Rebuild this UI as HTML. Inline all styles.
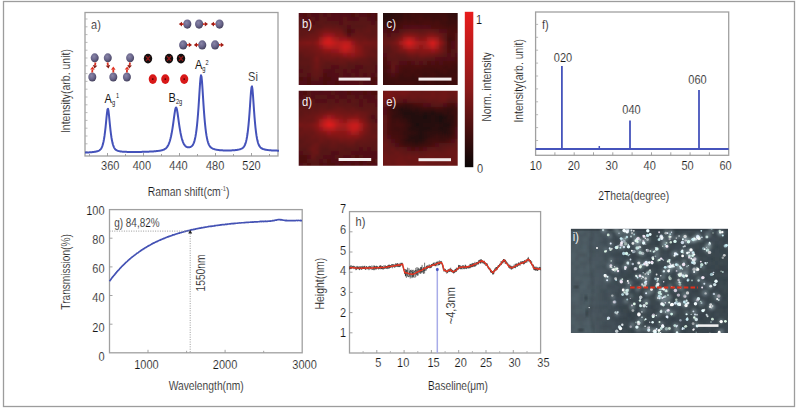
<!DOCTYPE html>
<html><head><meta charset="utf-8"><style>
html,body{margin:0;padding:0;background:#fff;width:797px;height:410px;overflow:hidden}
svg{display:block}
text{font-family:"Liberation Sans",sans-serif;stroke:#fff;stroke-width:0.16px;stroke-opacity:1}
.wt text,text.wt{stroke:none}
</style></head><body>
<svg width="797" height="410" viewBox="0 0 797 410">
<defs>
<radialGradient id="gatom" cx="40%" cy="35%" r="65%"><stop offset="0" stop-color="#8a86a8"/><stop offset="0.6" stop-color="#68648a"/><stop offset="1" stop-color="#46425e"/></radialGradient>
<filter id="blur5" x="-50%" y="-50%" width="200%" height="200%"><feGaussianBlur stdDeviation="3.5"/></filter>
<filter id="hblur" x="-20%" y="-20%" width="140%" height="140%"><feGaussianBlur stdDeviation="1.8"/></filter>
<filter id="blur06"><feGaussianBlur stdDeviation="0.75"/></filter>
<filter id="blur08"><feGaussianBlur stdDeviation="0.8"/></filter>
<filter id="blur15"><feGaussianBlur stdDeviation="1.5"/></filter>
<radialGradient id="vign" cx="50%" cy="50%" r="75%"><stop offset="0.5" stop-color="#000" stop-opacity="0"/><stop offset="1" stop-color="#000" stop-opacity="0.35"/></radialGradient>
<linearGradient id="cbar" x1="0" y1="0" x2="0" y2="1"><stop offset="0" stop-color="#e81c1c"/><stop offset="0.5" stop-color="#8a1a1a"/><stop offset="1" stop-color="#0a0606"/></linearGradient>
</defs>
<rect x="3.5" y="1.5" width="791" height="405" fill="none" stroke="#9c9c9c" stroke-width="1.3"/>
<rect x="85" y="12.5" width="193" height="143.5" fill="none" stroke="#a0a0a0" stroke-width="1.3"/>
<line x1="85" y1="151.6" x2="87.5" y2="151.6" stroke="#aaa" stroke-width="0.8"/>
<line x1="85" y1="143.8" x2="87.5" y2="143.8" stroke="#aaa" stroke-width="0.8"/>
<line x1="85" y1="136.0" x2="87.5" y2="136.0" stroke="#aaa" stroke-width="0.8"/>
<line x1="85" y1="128.2" x2="87.5" y2="128.2" stroke="#aaa" stroke-width="0.8"/>
<line x1="85" y1="120.4" x2="87.5" y2="120.4" stroke="#aaa" stroke-width="0.8"/>
<line x1="85" y1="112.6" x2="87.5" y2="112.6" stroke="#aaa" stroke-width="0.8"/>
<line x1="85" y1="104.8" x2="87.5" y2="104.8" stroke="#aaa" stroke-width="0.8"/>
<line x1="85" y1="97.0" x2="87.5" y2="97.0" stroke="#aaa" stroke-width="0.8"/>
<line x1="85" y1="89.2" x2="87.5" y2="89.2" stroke="#aaa" stroke-width="0.8"/>
<line x1="85" y1="81.4" x2="87.5" y2="81.4" stroke="#aaa" stroke-width="0.8"/>
<line x1="85" y1="73.6" x2="87.5" y2="73.6" stroke="#aaa" stroke-width="0.8"/>
<line x1="85" y1="65.8" x2="87.5" y2="65.8" stroke="#aaa" stroke-width="0.8"/>
<line x1="85" y1="58.0" x2="87.5" y2="58.0" stroke="#aaa" stroke-width="0.8"/>
<line x1="85" y1="50.2" x2="87.5" y2="50.2" stroke="#aaa" stroke-width="0.8"/>
<line x1="85" y1="42.4" x2="87.5" y2="42.4" stroke="#aaa" stroke-width="0.8"/>
<line x1="85" y1="34.6" x2="87.5" y2="34.6" stroke="#aaa" stroke-width="0.8"/>
<line x1="85" y1="26.8" x2="87.5" y2="26.8" stroke="#aaa" stroke-width="0.8"/>
<line x1="85" y1="19.0" x2="87.5" y2="19.0" stroke="#aaa" stroke-width="0.8"/>
<line x1="89.5" y1="156" x2="89.5" y2="154" stroke="#999" stroke-width="0.9"/>
<line x1="107.5" y1="156" x2="107.5" y2="153" stroke="#999" stroke-width="0.9"/>
<line x1="125.5" y1="156" x2="125.5" y2="154" stroke="#999" stroke-width="0.9"/>
<line x1="143.5" y1="156" x2="143.5" y2="153" stroke="#999" stroke-width="0.9"/>
<line x1="161.5" y1="156" x2="161.5" y2="154" stroke="#999" stroke-width="0.9"/>
<line x1="179.5" y1="156" x2="179.5" y2="153" stroke="#999" stroke-width="0.9"/>
<line x1="197.5" y1="156" x2="197.5" y2="154" stroke="#999" stroke-width="0.9"/>
<line x1="215.5" y1="156" x2="215.5" y2="153" stroke="#999" stroke-width="0.9"/>
<line x1="233.5" y1="156" x2="233.5" y2="154" stroke="#999" stroke-width="0.9"/>
<line x1="251.5" y1="156" x2="251.5" y2="153" stroke="#999" stroke-width="0.9"/>
<line x1="269.5" y1="156" x2="269.5" y2="154" stroke="#999" stroke-width="0.9"/>
<text transform="translate(110.2 169.6) scale(0.88 1)" font-size="12.5" text-anchor="middle" fill="#161616" >360</text>
<text transform="translate(141.9 169.6) scale(0.88 1)" font-size="12.5" text-anchor="middle" fill="#161616" >400</text>
<text transform="translate(178.5 169.6) scale(0.88 1)" font-size="12.5" text-anchor="middle" fill="#161616" >440</text>
<text transform="translate(215.1 169.6) scale(0.88 1)" font-size="12.5" text-anchor="middle" fill="#161616" >480</text>
<text transform="translate(251.5 169.6) scale(0.88 1)" font-size="12.5" text-anchor="middle" fill="#161616" >520</text>
<polyline points="85.0,152.58 85.5,152.56 86.0,152.54 86.5,152.52 87.0,152.49 87.5,152.47 88.0,152.44 88.5,152.41 89.0,152.38 89.5,152.35 90.0,152.32 90.5,152.28 91.0,152.24 91.5,152.20 92.0,152.15 92.5,152.10 93.0,152.05 93.5,151.99 94.0,151.92 94.5,151.85 95.0,151.77 95.5,151.68 96.0,151.58 96.5,151.47 97.0,151.34 97.5,151.20 98.0,151.02 98.5,150.82 99.0,150.58 99.5,150.27 100.0,149.89 100.5,149.40 101.0,148.77 101.5,147.96 102.0,146.91 102.5,145.57 103.0,143.87 103.5,141.75 104.0,139.15 104.5,135.99 105.0,132.24 105.5,127.86 106.0,122.91 106.5,117.66 107.0,112.79 107.5,109.44 108.0,108.77 108.5,111.03 109.0,115.38 109.5,120.57 110.0,125.69 110.5,130.32 111.0,134.34 111.5,137.74 112.0,140.56 112.5,142.87 113.0,144.74 113.5,146.22 114.0,147.37 114.5,148.27 115.0,148.96 115.5,149.49 116.0,149.90 116.5,150.23 117.0,150.48 117.5,150.69 118.0,150.86 118.5,151.00 119.0,151.12 119.5,151.23 120.0,151.32 120.5,151.40 121.0,151.47 121.5,151.53 122.0,151.59 122.5,151.63 123.0,151.68 123.5,151.72 124.0,151.75 124.5,151.78 125.0,151.81 125.5,151.83 126.0,151.85 126.5,151.87 127.0,151.89 127.5,151.90 128.0,151.92 128.5,151.93 129.0,151.94 129.5,151.95 130.0,151.95 130.5,151.96 131.0,151.96 131.5,151.97 132.0,151.97 132.5,151.97 133.0,151.97 133.5,151.97 134.0,151.97 134.5,151.97 135.0,151.97 135.5,151.96 136.0,151.96 136.5,151.96 137.0,151.95 137.5,151.95 138.0,151.94 138.5,151.93 139.0,151.93 139.5,151.92 140.0,151.91 140.5,151.90 141.0,151.89 141.5,151.88 142.0,151.87 142.5,151.86 143.0,151.85 143.5,151.83 144.0,151.82 144.5,151.80 145.0,151.79 145.5,151.77 146.0,151.76 146.5,151.74 147.0,151.72 147.5,151.70 148.0,151.68 148.5,151.66 149.0,151.64 149.5,151.62 150.0,151.59 150.5,151.57 151.0,151.54 151.5,151.51 152.0,151.48 152.5,151.45 153.0,151.42 153.5,151.38 154.0,151.34 154.5,151.30 155.0,151.26 155.5,151.22 156.0,151.17 156.5,151.12 157.0,151.06 157.5,151.01 158.0,150.94 158.5,150.88 159.0,150.80 159.5,150.72 160.0,150.64 160.5,150.55 161.0,150.44 161.5,150.33 162.0,150.20 162.5,150.06 163.0,149.90 163.5,149.72 164.0,149.50 164.5,149.26 165.0,148.96 165.5,148.62 166.0,148.20 166.5,147.71 167.0,147.12 167.5,146.42 168.0,145.58 168.5,144.58 169.0,143.41 169.5,142.03 170.0,140.43 170.5,138.58 171.0,136.47 171.5,134.06 172.0,131.35 172.5,128.32 173.0,124.99 173.5,121.40 174.0,117.67 174.5,114.02 175.0,110.81 175.5,108.48 176.0,107.46 176.5,107.95 177.0,109.84 177.5,112.76 178.0,116.26 178.5,119.93 179.0,123.52 179.5,126.88 180.0,129.94 180.5,132.69 181.0,135.12 181.5,137.25 182.0,139.11 182.5,140.71 183.0,142.07 183.5,143.22 184.0,144.18 184.5,144.97 185.0,145.62 185.5,146.13 186.0,146.53 186.5,146.84 187.0,147.06 187.5,147.22 188.0,147.31 188.5,147.34 189.0,147.33 189.5,147.26 190.0,147.13 190.5,146.95 191.0,146.70 191.5,146.36 192.0,145.92 192.5,145.34 193.0,144.59 193.5,143.63 194.0,142.39 194.5,140.83 195.0,138.85 195.5,136.40 196.0,133.40 196.5,129.75 197.0,125.40 197.5,120.26 198.0,114.28 198.5,107.45 199.0,99.84 199.5,91.81 200.0,84.13 200.5,78.11 201.0,75.29 201.5,76.55 202.0,81.49 202.5,88.72 203.0,96.77 203.5,104.64 204.0,111.83 204.5,118.19 205.0,123.70 205.5,128.39 206.0,132.35 206.5,135.64 207.0,138.35 207.5,140.55 208.0,142.33 208.5,143.74 209.0,144.87 209.5,145.76 210.0,146.47 210.5,147.04 211.0,147.50 211.5,147.88 212.0,148.20 212.5,148.47 213.0,148.70 213.5,148.90 214.0,149.08 214.5,149.23 215.0,149.37 215.5,149.50 216.0,149.61 216.5,149.71 217.0,149.80 217.5,149.88 218.0,149.95 218.5,150.02 219.0,150.08 219.5,150.13 220.0,150.18 220.5,150.22 221.0,150.26 221.5,150.30 222.0,150.33 222.5,150.35 223.0,150.38 223.5,150.40 224.0,150.42 224.5,150.43 225.0,150.45 225.5,150.46 226.0,150.47 226.5,150.47 227.0,150.47 227.5,150.47 228.0,150.47 228.5,150.47 229.0,150.46 229.5,150.45 230.0,150.44 230.5,150.43 231.0,150.41 231.5,150.39 232.0,150.37 232.5,150.34 233.0,150.31 233.5,150.28 234.0,150.24 234.5,150.19 235.0,150.15 235.5,150.09 236.0,150.04 236.5,149.97 237.0,149.90 237.5,149.82 238.0,149.73 238.5,149.62 239.0,149.51 239.5,149.38 240.0,149.24 240.5,149.07 241.0,148.88 241.5,148.65 242.0,148.38 242.5,148.06 243.0,147.67 243.5,147.17 244.0,146.55 244.5,145.75 245.0,144.73 245.5,143.42 246.0,141.75 246.5,139.64 247.0,137.01 247.5,133.76 248.0,129.83 248.5,125.13 249.0,119.60 249.5,113.22 250.0,106.09 250.5,98.65 251.0,91.86 251.5,87.27 252.0,86.36 252.5,89.47 253.0,95.50 253.5,102.81 254.0,110.15 254.5,116.88 255.0,122.79 255.5,127.85 256.0,132.11 256.5,135.64 257.0,138.53 257.5,140.86 258.0,142.71 258.5,144.17 259.0,145.31 259.5,146.20 260.0,146.89 260.5,147.44 261.0,147.87 261.5,148.22 262.0,148.51 262.5,148.75 263.0,148.96 263.5,149.14 264.0,149.29 264.5,149.43 265.0,149.55 265.5,149.66 266.0,149.76 266.5,149.85 267.0,149.92 267.5,150.00 268.0,150.06 268.5,150.12 269.0,150.17 269.5,150.22 270.0,150.27 270.5,150.31 271.0,150.34 271.5,150.38 272.0,150.41 272.5,150.44 273.0,150.47 273.5,150.49 274.0,150.52 274.5,150.54 275.0,150.56 275.5,150.57 276.0,150.59 276.5,150.61 277.0,150.62 277.5,150.64 278.0,150.65 278.5,150.66 279.0,150.67" fill="none" stroke="#4452ba" stroke-width="2" stroke-linejoin="round"/>
<text transform="translate(96 29) scale(0.88 1)" font-size="12.5" text-anchor="middle" fill="#161616" >a)</text>
<g class="wt" transform="translate(104.6 102.6) scale(0.88 1)"><text font-size="12.5" fill="#161616">A</text><text x="8.399999999999999" y="2.2" font-size="6.5" fill="#161616">g</text><text x="12.9" y="-4.4" font-size="6.3" fill="#161616">1</text></g>
<g class="wt" transform="translate(168.5 101.7) scale(0.88 1)"><text font-size="12.5" fill="#161616">B</text><text x="8.399999999999999" y="2.2" font-size="6.5" fill="#161616">2g</text></g>
<g class="wt" transform="translate(195.1 69.2) scale(0.88 1)"><text font-size="12.5" fill="#161616">A</text><text x="8.2" y="2.2" font-size="6.5" fill="#161616">g</text><text x="11.8" y="-4.4" font-size="6.3" fill="#161616">2</text></g>
<g transform="translate(188.6 196.4) scale(0.836 1)"><text font-size="12.5" text-anchor="middle" fill="#161616">Raman shift(cm<tspan font-size="7" dy="-5">-1</tspan><tspan dy="5">)</tspan></text></g>
<text transform="translate(253 80.7) scale(0.88 1)" font-size="12.5" text-anchor="middle" fill="#161616" >Si</text>
<text transform="translate(69.5 91.1) rotate(-90) scale(0.84 1)" font-size="12.5" text-anchor="middle" fill="#161616" >Intensity(arb. unit)</text>
<ellipse cx="94.7" cy="57.8" rx="4.00" ry="4.47" fill="url(#gatom)"/>
<ellipse cx="92.3" cy="77" rx="4.00" ry="4.47" fill="url(#gatom)"/>
<ellipse cx="107.8" cy="57.8" rx="4.00" ry="4.47" fill="url(#gatom)"/>
<ellipse cx="113.3" cy="77" rx="4.00" ry="4.47" fill="url(#gatom)"/>
<ellipse cx="130.1" cy="57.8" rx="4.00" ry="4.47" fill="url(#gatom)"/>
<ellipse cx="126.9" cy="77" rx="4.00" ry="4.47" fill="url(#gatom)"/>
<line x1="95.5" y1="62.5" x2="95.0" y2="65.3" stroke="#d83020" stroke-width="1.8"/>
<polygon points="94.5,68.5 92.8,65.0 97.3,65.7" fill="#8a1c14"/>
<line x1="92.2" y1="72.5" x2="92.4" y2="69.7" stroke="#d83020" stroke-width="1.8"/>
<polygon points="92.6,66.5 94.7,69.8 90.1,69.5" fill="#e03020"/>
<line x1="107.5" y1="62.5" x2="108.0" y2="65.3" stroke="#d83020" stroke-width="1.8"/>
<polygon points="108.5,68.5 105.7,65.7 110.2,65.0" fill="#8a1c14"/>
<line x1="113.3" y1="72.5" x2="113.3" y2="69.7" stroke="#d83020" stroke-width="1.8"/>
<polygon points="113.3,66.5 115.6,69.7 111.0,69.7" fill="#e03020"/>
<line x1="130" y1="62.5" x2="129.6" y2="65.3" stroke="#d83020" stroke-width="1.8"/>
<polygon points="129.2,68.5 127.3,65.0 131.9,65.6" fill="#8a1c14"/>
<line x1="126.9" y1="72.5" x2="127.0" y2="69.7" stroke="#d83020" stroke-width="1.8"/>
<polygon points="127.2,66.5 129.3,69.8 124.7,69.6" fill="#e03020"/>
<ellipse cx="148" cy="58.6" rx="4.2" ry="4.9" fill="#141010"/>
<path d="M146,56.300000000000004 L150,60.9 M150,56.300000000000004 L146,60.9" stroke="#901818" stroke-width="1.3"/>
<ellipse cx="169" cy="58.6" rx="4.2" ry="4.9" fill="#141010"/>
<path d="M167,56.300000000000004 L171,60.9 M171,56.300000000000004 L167,60.9" stroke="#901818" stroke-width="1.3"/>
<ellipse cx="181" cy="58.6" rx="4.2" ry="4.9" fill="#141010"/>
<path d="M179,56.300000000000004 L183,60.9 M183,56.300000000000004 L179,60.9" stroke="#901818" stroke-width="1.3"/>
<ellipse cx="152.8" cy="79.1" rx="4.1" ry="4.8" fill="#d81818"/>
<circle cx="152.8" cy="79.1" r="0.9" fill="#500"/>
<ellipse cx="165.3" cy="79.1" rx="4.1" ry="4.8" fill="#d81818"/>
<circle cx="165.3" cy="79.1" r="0.9" fill="#500"/>
<ellipse cx="184.2" cy="79.1" rx="4.1" ry="4.8" fill="#d81818"/>
<circle cx="184.2" cy="79.1" r="0.9" fill="#500"/>
<ellipse cx="187.3" cy="24.1" rx="4.09" ry="4.58" fill="url(#gatom)"/>
<ellipse cx="199.1" cy="24.1" rx="4.09" ry="4.58" fill="url(#gatom)"/>
<ellipse cx="219.5" cy="24.1" rx="4.09" ry="4.58" fill="url(#gatom)"/>
<line x1="183.5" y1="24.1" x2="182.0" y2="24.1" stroke="#d83020" stroke-width="1.8"/>
<polygon points="178.8,24.1 182.0,21.8 182.0,26.4" fill="#a01c14"/>
<line x1="203" y1="24.1" x2="204.8" y2="24.1" stroke="#d83020" stroke-width="1.8"/>
<polygon points="208.0,24.1 204.8,26.4 204.8,21.8" fill="#a01c14"/>
<line x1="215.5" y1="24.1" x2="214.0" y2="24.1" stroke="#d83020" stroke-width="1.8"/>
<polygon points="210.8,24.1 214.0,21.8 214.0,26.4" fill="#a01c14"/>
<ellipse cx="183.2" cy="44.9" rx="4.09" ry="4.58" fill="url(#gatom)"/>
<ellipse cx="202.2" cy="44.9" rx="4.09" ry="4.58" fill="url(#gatom)"/>
<ellipse cx="215.1" cy="44.9" rx="4.09" ry="4.58" fill="url(#gatom)"/>
<line x1="187" y1="44.9" x2="188.8" y2="44.9" stroke="#d83020" stroke-width="1.8"/>
<polygon points="192.0,44.9 188.8,47.2 188.8,42.6" fill="#a01c14"/>
<line x1="198.4" y1="44.9" x2="197.0" y2="44.9" stroke="#d83020" stroke-width="1.8"/>
<polygon points="193.8,44.9 197.0,42.6 197.0,47.2" fill="#a01c14"/>
<line x1="219" y1="44.9" x2="220.8" y2="44.9" stroke="#d83020" stroke-width="1.8"/>
<polygon points="224.0,44.9 220.8,47.2 220.8,42.6" fill="#a01c14"/>
<clipPath id="cb"><rect x="298.7" y="13" width="78.8" height="72"/></clipPath>
<g clip-path="url(#cb)"><g filter="url(#hblur)">
<rect x="295" y="9" width="5" height="5" fill="#4d1112"/>
<rect x="299" y="9" width="5" height="5" fill="#531112"/>
<rect x="303" y="9" width="5" height="5" fill="#521112"/>
<rect x="307" y="9" width="5" height="5" fill="#511112"/>
<rect x="311" y="9" width="5" height="5" fill="#4e1112"/>
<rect x="315" y="9" width="5" height="5" fill="#541213"/>
<rect x="319" y="9" width="5" height="5" fill="#541213"/>
<rect x="323" y="9" width="5" height="5" fill="#511112"/>
<rect x="327" y="9" width="5" height="5" fill="#511112"/>
<rect x="331" y="9" width="5" height="5" fill="#4e1112"/>
<rect x="335" y="9" width="5" height="5" fill="#4b1011"/>
<rect x="339" y="9" width="5" height="5" fill="#501112"/>
<rect x="343" y="9" width="5" height="5" fill="#521112"/>
<rect x="347" y="9" width="5" height="5" fill="#4c1011"/>
<rect x="351" y="9" width="5" height="5" fill="#541213"/>
<rect x="355" y="9" width="5" height="5" fill="#4e1112"/>
<rect x="359" y="9" width="5" height="5" fill="#4d1112"/>
<rect x="363" y="9" width="5" height="5" fill="#481011"/>
<rect x="367" y="9" width="5" height="5" fill="#501112"/>
<rect x="371" y="9" width="5" height="5" fill="#4b1011"/>
<rect x="375" y="9" width="5" height="5" fill="#491011"/>
<rect x="379" y="9" width="5" height="5" fill="#470f10"/>
<rect x="383" y="9" width="5" height="5" fill="#400e0f"/>
<rect x="295" y="13" width="5" height="5" fill="#4f1112"/>
<rect x="299" y="13" width="5" height="5" fill="#511112"/>
<rect x="303" y="13" width="5" height="5" fill="#4d1011"/>
<rect x="307" y="13" width="5" height="5" fill="#561213"/>
<rect x="311" y="13" width="5" height="5" fill="#501112"/>
<rect x="315" y="13" width="5" height="5" fill="#4d1112"/>
<rect x="319" y="13" width="5" height="5" fill="#551213"/>
<rect x="323" y="13" width="5" height="5" fill="#4d1112"/>
<rect x="327" y="13" width="5" height="5" fill="#561213"/>
<rect x="331" y="13" width="5" height="5" fill="#511112"/>
<rect x="335" y="13" width="5" height="5" fill="#521112"/>
<rect x="339" y="13" width="5" height="5" fill="#501112"/>
<rect x="343" y="13" width="5" height="5" fill="#511112"/>
<rect x="347" y="13" width="5" height="5" fill="#4e1112"/>
<rect x="351" y="13" width="5" height="5" fill="#4c1011"/>
<rect x="355" y="13" width="5" height="5" fill="#561213"/>
<rect x="359" y="13" width="5" height="5" fill="#4e1112"/>
<rect x="363" y="13" width="5" height="5" fill="#511112"/>
<rect x="367" y="13" width="5" height="5" fill="#481011"/>
<rect x="371" y="13" width="5" height="5" fill="#4e1112"/>
<rect x="375" y="13" width="5" height="5" fill="#4b1011"/>
<rect x="379" y="13" width="5" height="5" fill="#491011"/>
<rect x="383" y="13" width="5" height="5" fill="#491011"/>
<rect x="295" y="17" width="5" height="5" fill="#541213"/>
<rect x="299" y="17" width="5" height="5" fill="#561213"/>
<rect x="303" y="17" width="5" height="5" fill="#4f1112"/>
<rect x="307" y="17" width="5" height="5" fill="#531112"/>
<rect x="311" y="17" width="5" height="5" fill="#571213"/>
<rect x="315" y="17" width="5" height="5" fill="#501112"/>
<rect x="319" y="17" width="5" height="5" fill="#581213"/>
<rect x="323" y="17" width="5" height="5" fill="#581213"/>
<rect x="327" y="17" width="5" height="5" fill="#531112"/>
<rect x="331" y="17" width="5" height="5" fill="#531112"/>
<rect x="335" y="17" width="5" height="5" fill="#541112"/>
<rect x="339" y="17" width="5" height="5" fill="#531112"/>
<rect x="343" y="17" width="5" height="5" fill="#5a1213"/>
<rect x="347" y="17" width="5" height="5" fill="#531112"/>
<rect x="351" y="17" width="5" height="5" fill="#4e1112"/>
<rect x="355" y="17" width="5" height="5" fill="#4f1112"/>
<rect x="359" y="17" width="5" height="5" fill="#561213"/>
<rect x="363" y="17" width="5" height="5" fill="#571213"/>
<rect x="367" y="17" width="5" height="5" fill="#4f1112"/>
<rect x="371" y="17" width="5" height="5" fill="#4d1112"/>
<rect x="375" y="17" width="5" height="5" fill="#4c1011"/>
<rect x="379" y="17" width="5" height="5" fill="#4e1112"/>
<rect x="383" y="17" width="5" height="5" fill="#481011"/>
<rect x="295" y="21" width="5" height="5" fill="#571213"/>
<rect x="299" y="21" width="5" height="5" fill="#571213"/>
<rect x="303" y="21" width="5" height="5" fill="#581213"/>
<rect x="307" y="21" width="5" height="5" fill="#531112"/>
<rect x="311" y="21" width="5" height="5" fill="#531112"/>
<rect x="315" y="21" width="5" height="5" fill="#551213"/>
<rect x="319" y="21" width="5" height="5" fill="#5c1314"/>
<rect x="323" y="21" width="5" height="5" fill="#561213"/>
<rect x="327" y="21" width="5" height="5" fill="#591213"/>
<rect x="331" y="21" width="5" height="5" fill="#561213"/>
<rect x="335" y="21" width="5" height="5" fill="#541213"/>
<rect x="339" y="21" width="5" height="5" fill="#531112"/>
<rect x="343" y="21" width="5" height="5" fill="#5b1314"/>
<rect x="347" y="21" width="5" height="5" fill="#5a1213"/>
<rect x="351" y="21" width="5" height="5" fill="#561213"/>
<rect x="355" y="21" width="5" height="5" fill="#591213"/>
<rect x="359" y="21" width="5" height="5" fill="#581213"/>
<rect x="363" y="21" width="5" height="5" fill="#591213"/>
<rect x="367" y="21" width="5" height="5" fill="#591213"/>
<rect x="371" y="21" width="5" height="5" fill="#511112"/>
<rect x="375" y="21" width="5" height="5" fill="#571213"/>
<rect x="379" y="21" width="5" height="5" fill="#561213"/>
<rect x="383" y="21" width="5" height="5" fill="#521112"/>
<rect x="295" y="25" width="5" height="5" fill="#5e1314"/>
<rect x="299" y="25" width="5" height="5" fill="#591213"/>
<rect x="303" y="25" width="5" height="5" fill="#581213"/>
<rect x="307" y="25" width="5" height="5" fill="#571213"/>
<rect x="311" y="25" width="5" height="5" fill="#5f1314"/>
<rect x="315" y="25" width="5" height="5" fill="#581213"/>
<rect x="319" y="25" width="5" height="5" fill="#591213"/>
<rect x="323" y="25" width="5" height="5" fill="#631415"/>
<rect x="327" y="25" width="5" height="5" fill="#641415"/>
<rect x="331" y="25" width="5" height="5" fill="#611314"/>
<rect x="335" y="25" width="5" height="5" fill="#641415"/>
<rect x="339" y="25" width="5" height="5" fill="#5a1213"/>
<rect x="343" y="25" width="5" height="5" fill="#581213"/>
<rect x="347" y="25" width="5" height="5" fill="#531112"/>
<rect x="351" y="25" width="5" height="5" fill="#571213"/>
<rect x="355" y="25" width="5" height="5" fill="#571213"/>
<rect x="359" y="25" width="5" height="5" fill="#561213"/>
<rect x="363" y="25" width="5" height="5" fill="#581213"/>
<rect x="367" y="25" width="5" height="5" fill="#5d1314"/>
<rect x="371" y="25" width="5" height="5" fill="#5d1314"/>
<rect x="375" y="25" width="5" height="5" fill="#5a1213"/>
<rect x="379" y="25" width="5" height="5" fill="#571213"/>
<rect x="383" y="25" width="5" height="5" fill="#541213"/>
<rect x="295" y="29" width="5" height="5" fill="#621314"/>
<rect x="299" y="29" width="5" height="5" fill="#5d1314"/>
<rect x="303" y="29" width="5" height="5" fill="#601314"/>
<rect x="307" y="29" width="5" height="5" fill="#591213"/>
<rect x="311" y="29" width="5" height="5" fill="#5c1314"/>
<rect x="315" y="29" width="5" height="5" fill="#671415"/>
<rect x="319" y="29" width="5" height="5" fill="#6e1516"/>
<rect x="323" y="29" width="5" height="5" fill="#771617"/>
<rect x="327" y="29" width="5" height="5" fill="#771617"/>
<rect x="331" y="29" width="5" height="5" fill="#721516"/>
<rect x="335" y="29" width="5" height="5" fill="#6f1516"/>
<rect x="339" y="29" width="5" height="5" fill="#6d1516"/>
<rect x="343" y="29" width="5" height="5" fill="#591213"/>
<rect x="347" y="29" width="5" height="5" fill="#491011"/>
<rect x="351" y="29" width="5" height="5" fill="#501112"/>
<rect x="355" y="29" width="5" height="5" fill="#621314"/>
<rect x="359" y="29" width="5" height="5" fill="#5a1213"/>
<rect x="363" y="29" width="5" height="5" fill="#611314"/>
<rect x="367" y="29" width="5" height="5" fill="#631415"/>
<rect x="371" y="29" width="5" height="5" fill="#581213"/>
<rect x="375" y="29" width="5" height="5" fill="#5e1314"/>
<rect x="379" y="29" width="5" height="5" fill="#5f1314"/>
<rect x="383" y="29" width="5" height="5" fill="#611314"/>
<rect x="295" y="33" width="5" height="5" fill="#621314"/>
<rect x="299" y="33" width="5" height="5" fill="#5e1314"/>
<rect x="303" y="33" width="5" height="5" fill="#601314"/>
<rect x="307" y="33" width="5" height="5" fill="#681415"/>
<rect x="311" y="33" width="5" height="5" fill="#6a1516"/>
<rect x="315" y="33" width="5" height="5" fill="#6a1516"/>
<rect x="319" y="33" width="5" height="5" fill="#7d1718"/>
<rect x="323" y="33" width="5" height="5" fill="#93191a"/>
<rect x="327" y="33" width="5" height="5" fill="#99191a"/>
<rect x="331" y="33" width="5" height="5" fill="#90191a"/>
<rect x="335" y="33" width="5" height="5" fill="#7e1718"/>
<rect x="339" y="33" width="5" height="5" fill="#7e1718"/>
<rect x="343" y="33" width="5" height="5" fill="#6d1516"/>
<rect x="347" y="33" width="5" height="5" fill="#521112"/>
<rect x="351" y="33" width="5" height="5" fill="#5d1314"/>
<rect x="355" y="33" width="5" height="5" fill="#651415"/>
<rect x="359" y="33" width="5" height="5" fill="#651415"/>
<rect x="363" y="33" width="5" height="5" fill="#601314"/>
<rect x="367" y="33" width="5" height="5" fill="#5e1314"/>
<rect x="371" y="33" width="5" height="5" fill="#5d1314"/>
<rect x="375" y="33" width="5" height="5" fill="#5f1314"/>
<rect x="379" y="33" width="5" height="5" fill="#631415"/>
<rect x="383" y="33" width="5" height="5" fill="#611314"/>
<rect x="295" y="37" width="5" height="5" fill="#611314"/>
<rect x="299" y="37" width="5" height="5" fill="#691415"/>
<rect x="303" y="37" width="5" height="5" fill="#6c1516"/>
<rect x="307" y="37" width="5" height="5" fill="#6c1516"/>
<rect x="311" y="37" width="5" height="5" fill="#711516"/>
<rect x="315" y="37" width="5" height="5" fill="#761617"/>
<rect x="319" y="37" width="5" height="5" fill="#9a1a1b"/>
<rect x="323" y="37" width="5" height="5" fill="#ba1c1d"/>
<rect x="327" y="37" width="5" height="5" fill="#cb1d1e"/>
<rect x="331" y="37" width="5" height="5" fill="#ae1b1c"/>
<rect x="335" y="37" width="5" height="5" fill="#9d1a1b"/>
<rect x="339" y="37" width="5" height="5" fill="#91191a"/>
<rect x="343" y="37" width="5" height="5" fill="#93191a"/>
<rect x="347" y="37" width="5" height="5" fill="#821718"/>
<rect x="351" y="37" width="5" height="5" fill="#741617"/>
<rect x="355" y="37" width="5" height="5" fill="#701516"/>
<rect x="359" y="37" width="5" height="5" fill="#691415"/>
<rect x="363" y="37" width="5" height="5" fill="#6c1516"/>
<rect x="367" y="37" width="5" height="5" fill="#631415"/>
<rect x="371" y="37" width="5" height="5" fill="#651415"/>
<rect x="375" y="37" width="5" height="5" fill="#651415"/>
<rect x="379" y="37" width="5" height="5" fill="#691415"/>
<rect x="383" y="37" width="5" height="5" fill="#5f1314"/>
<rect x="295" y="41" width="5" height="5" fill="#791617"/>
<rect x="299" y="41" width="5" height="5" fill="#781617"/>
<rect x="303" y="41" width="5" height="5" fill="#7d1718"/>
<rect x="307" y="41" width="5" height="5" fill="#811718"/>
<rect x="311" y="41" width="5" height="5" fill="#7c1718"/>
<rect x="315" y="41" width="5" height="5" fill="#8d1819"/>
<rect x="319" y="41" width="5" height="5" fill="#aa1b1c"/>
<rect x="323" y="41" width="5" height="5" fill="#cf1d1e"/>
<rect x="327" y="41" width="5" height="5" fill="#d41d1e"/>
<rect x="331" y="41" width="5" height="5" fill="#c81d1e"/>
<rect x="335" y="41" width="5" height="5" fill="#b81c1d"/>
<rect x="339" y="41" width="5" height="5" fill="#b61c1d"/>
<rect x="343" y="41" width="5" height="5" fill="#c01c1d"/>
<rect x="347" y="41" width="5" height="5" fill="#bb1c1d"/>
<rect x="351" y="41" width="5" height="5" fill="#95191a"/>
<rect x="355" y="41" width="5" height="5" fill="#7f1718"/>
<rect x="359" y="41" width="5" height="5" fill="#751617"/>
<rect x="363" y="41" width="5" height="5" fill="#781617"/>
<rect x="367" y="41" width="5" height="5" fill="#741617"/>
<rect x="371" y="41" width="5" height="5" fill="#6f1516"/>
<rect x="375" y="41" width="5" height="5" fill="#701516"/>
<rect x="379" y="41" width="5" height="5" fill="#691415"/>
<rect x="383" y="41" width="5" height="5" fill="#711516"/>
<rect x="295" y="45" width="5" height="5" fill="#6e1516"/>
<rect x="299" y="45" width="5" height="5" fill="#6f1516"/>
<rect x="303" y="45" width="5" height="5" fill="#701516"/>
<rect x="307" y="45" width="5" height="5" fill="#711516"/>
<rect x="311" y="45" width="5" height="5" fill="#731617"/>
<rect x="315" y="45" width="5" height="5" fill="#7b1617"/>
<rect x="319" y="45" width="5" height="5" fill="#93191a"/>
<rect x="323" y="45" width="5" height="5" fill="#a91b1c"/>
<rect x="327" y="45" width="5" height="5" fill="#b81c1d"/>
<rect x="331" y="45" width="5" height="5" fill="#b11b1c"/>
<rect x="335" y="45" width="5" height="5" fill="#ac1b1c"/>
<rect x="339" y="45" width="5" height="5" fill="#ba1c1d"/>
<rect x="343" y="45" width="5" height="5" fill="#cc1d1e"/>
<rect x="347" y="45" width="5" height="5" fill="#c31c1d"/>
<rect x="351" y="45" width="5" height="5" fill="#a21a1b"/>
<rect x="355" y="45" width="5" height="5" fill="#8a1819"/>
<rect x="359" y="45" width="5" height="5" fill="#801718"/>
<rect x="363" y="45" width="5" height="5" fill="#6e1516"/>
<rect x="367" y="45" width="5" height="5" fill="#6d1516"/>
<rect x="371" y="45" width="5" height="5" fill="#6a1516"/>
<rect x="375" y="45" width="5" height="5" fill="#6c1516"/>
<rect x="379" y="45" width="5" height="5" fill="#6d1516"/>
<rect x="383" y="45" width="5" height="5" fill="#6c1516"/>
<rect x="295" y="49" width="5" height="5" fill="#651415"/>
<rect x="299" y="49" width="5" height="5" fill="#671415"/>
<rect x="303" y="49" width="5" height="5" fill="#671415"/>
<rect x="307" y="49" width="5" height="5" fill="#6b1516"/>
<rect x="311" y="49" width="5" height="5" fill="#6f1516"/>
<rect x="315" y="49" width="5" height="5" fill="#761617"/>
<rect x="319" y="49" width="5" height="5" fill="#791617"/>
<rect x="323" y="49" width="5" height="5" fill="#8c1819"/>
<rect x="327" y="49" width="5" height="5" fill="#8d1819"/>
<rect x="331" y="49" width="5" height="5" fill="#90191a"/>
<rect x="335" y="49" width="5" height="5" fill="#97191a"/>
<rect x="339" y="49" width="5" height="5" fill="#a91b1c"/>
<rect x="343" y="49" width="5" height="5" fill="#bc1c1d"/>
<rect x="347" y="49" width="5" height="5" fill="#af1b1c"/>
<rect x="351" y="49" width="5" height="5" fill="#a01a1b"/>
<rect x="355" y="49" width="5" height="5" fill="#8e1819"/>
<rect x="359" y="49" width="5" height="5" fill="#801718"/>
<rect x="363" y="49" width="5" height="5" fill="#701516"/>
<rect x="367" y="49" width="5" height="5" fill="#6b1516"/>
<rect x="371" y="49" width="5" height="5" fill="#611314"/>
<rect x="375" y="49" width="5" height="5" fill="#611314"/>
<rect x="379" y="49" width="5" height="5" fill="#691415"/>
<rect x="383" y="49" width="5" height="5" fill="#661415"/>
<rect x="295" y="53" width="5" height="5" fill="#601314"/>
<rect x="299" y="53" width="5" height="5" fill="#5c1314"/>
<rect x="303" y="53" width="5" height="5" fill="#661415"/>
<rect x="307" y="53" width="5" height="5" fill="#661415"/>
<rect x="311" y="53" width="5" height="5" fill="#671415"/>
<rect x="315" y="53" width="5" height="5" fill="#701516"/>
<rect x="319" y="53" width="5" height="5" fill="#721516"/>
<rect x="323" y="53" width="5" height="5" fill="#741617"/>
<rect x="327" y="53" width="5" height="5" fill="#731617"/>
<rect x="331" y="53" width="5" height="5" fill="#7e1718"/>
<rect x="335" y="53" width="5" height="5" fill="#7b1617"/>
<rect x="339" y="53" width="5" height="5" fill="#821718"/>
<rect x="343" y="53" width="5" height="5" fill="#92191a"/>
<rect x="347" y="53" width="5" height="5" fill="#8d1819"/>
<rect x="351" y="53" width="5" height="5" fill="#8f191a"/>
<rect x="355" y="53" width="5" height="5" fill="#831718"/>
<rect x="359" y="53" width="5" height="5" fill="#7d1718"/>
<rect x="363" y="53" width="5" height="5" fill="#6e1516"/>
<rect x="367" y="53" width="5" height="5" fill="#661415"/>
<rect x="371" y="53" width="5" height="5" fill="#671415"/>
<rect x="375" y="53" width="5" height="5" fill="#611314"/>
<rect x="379" y="53" width="5" height="5" fill="#601314"/>
<rect x="383" y="53" width="5" height="5" fill="#621314"/>
<rect x="295" y="57" width="5" height="5" fill="#5b1213"/>
<rect x="299" y="57" width="5" height="5" fill="#591213"/>
<rect x="303" y="57" width="5" height="5" fill="#5c1314"/>
<rect x="307" y="57" width="5" height="5" fill="#5d1314"/>
<rect x="311" y="57" width="5" height="5" fill="#671415"/>
<rect x="315" y="57" width="5" height="5" fill="#781617"/>
<rect x="319" y="57" width="5" height="5" fill="#651415"/>
<rect x="323" y="57" width="5" height="5" fill="#6a1415"/>
<rect x="327" y="57" width="5" height="5" fill="#6d1516"/>
<rect x="331" y="57" width="5" height="5" fill="#6c1516"/>
<rect x="335" y="57" width="5" height="5" fill="#661415"/>
<rect x="339" y="57" width="5" height="5" fill="#6d1516"/>
<rect x="343" y="57" width="5" height="5" fill="#6a1415"/>
<rect x="347" y="57" width="5" height="5" fill="#711516"/>
<rect x="351" y="57" width="5" height="5" fill="#711516"/>
<rect x="355" y="57" width="5" height="5" fill="#691415"/>
<rect x="359" y="57" width="5" height="5" fill="#631415"/>
<rect x="363" y="57" width="5" height="5" fill="#641415"/>
<rect x="367" y="57" width="5" height="5" fill="#5b1314"/>
<rect x="371" y="57" width="5" height="5" fill="#5c1314"/>
<rect x="375" y="57" width="5" height="5" fill="#5d1314"/>
<rect x="379" y="57" width="5" height="5" fill="#621314"/>
<rect x="383" y="57" width="5" height="5" fill="#5c1314"/>
<rect x="295" y="61" width="5" height="5" fill="#551213"/>
<rect x="299" y="61" width="5" height="5" fill="#5d1314"/>
<rect x="303" y="61" width="5" height="5" fill="#5d1314"/>
<rect x="307" y="61" width="5" height="5" fill="#5d1314"/>
<rect x="311" y="61" width="5" height="5" fill="#651415"/>
<rect x="315" y="61" width="5" height="5" fill="#701516"/>
<rect x="319" y="61" width="5" height="5" fill="#651415"/>
<rect x="323" y="61" width="5" height="5" fill="#5f1314"/>
<rect x="327" y="61" width="5" height="5" fill="#5b1314"/>
<rect x="331" y="61" width="5" height="5" fill="#621415"/>
<rect x="335" y="61" width="5" height="5" fill="#631415"/>
<rect x="339" y="61" width="5" height="5" fill="#651415"/>
<rect x="343" y="61" width="5" height="5" fill="#641415"/>
<rect x="347" y="61" width="5" height="5" fill="#591213"/>
<rect x="351" y="61" width="5" height="5" fill="#5f1314"/>
<rect x="355" y="61" width="5" height="5" fill="#581213"/>
<rect x="359" y="61" width="5" height="5" fill="#601314"/>
<rect x="363" y="61" width="5" height="5" fill="#5e1314"/>
<rect x="367" y="61" width="5" height="5" fill="#5d1314"/>
<rect x="371" y="61" width="5" height="5" fill="#561213"/>
<rect x="375" y="61" width="5" height="5" fill="#551213"/>
<rect x="379" y="61" width="5" height="5" fill="#5d1314"/>
<rect x="383" y="61" width="5" height="5" fill="#5b1213"/>
<rect x="295" y="65" width="5" height="5" fill="#581213"/>
<rect x="299" y="65" width="5" height="5" fill="#561213"/>
<rect x="303" y="65" width="5" height="5" fill="#5a1213"/>
<rect x="307" y="65" width="5" height="5" fill="#581213"/>
<rect x="311" y="65" width="5" height="5" fill="#651415"/>
<rect x="315" y="65" width="5" height="5" fill="#6f1516"/>
<rect x="319" y="65" width="5" height="5" fill="#601314"/>
<rect x="323" y="65" width="5" height="5" fill="#5a1213"/>
<rect x="327" y="65" width="5" height="5" fill="#5c1314"/>
<rect x="331" y="65" width="5" height="5" fill="#531112"/>
<rect x="335" y="65" width="5" height="5" fill="#541112"/>
<rect x="339" y="65" width="5" height="5" fill="#591213"/>
<rect x="343" y="65" width="5" height="5" fill="#5a1213"/>
<rect x="347" y="65" width="5" height="5" fill="#541213"/>
<rect x="351" y="65" width="5" height="5" fill="#551213"/>
<rect x="355" y="65" width="5" height="5" fill="#521112"/>
<rect x="359" y="65" width="5" height="5" fill="#511112"/>
<rect x="363" y="65" width="5" height="5" fill="#561213"/>
<rect x="367" y="65" width="5" height="5" fill="#581213"/>
<rect x="371" y="65" width="5" height="5" fill="#581213"/>
<rect x="375" y="65" width="5" height="5" fill="#521112"/>
<rect x="379" y="65" width="5" height="5" fill="#521112"/>
<rect x="383" y="65" width="5" height="5" fill="#5b1314"/>
<rect x="295" y="69" width="5" height="5" fill="#541112"/>
<rect x="299" y="69" width="5" height="5" fill="#521112"/>
<rect x="303" y="69" width="5" height="5" fill="#561213"/>
<rect x="307" y="69" width="5" height="5" fill="#591213"/>
<rect x="311" y="69" width="5" height="5" fill="#621314"/>
<rect x="315" y="69" width="5" height="5" fill="#651415"/>
<rect x="319" y="69" width="5" height="5" fill="#601314"/>
<rect x="323" y="69" width="5" height="5" fill="#521112"/>
<rect x="327" y="69" width="5" height="5" fill="#4f1112"/>
<rect x="331" y="69" width="5" height="5" fill="#521112"/>
<rect x="335" y="69" width="5" height="5" fill="#541213"/>
<rect x="339" y="69" width="5" height="5" fill="#561213"/>
<rect x="343" y="69" width="5" height="5" fill="#501112"/>
<rect x="347" y="69" width="5" height="5" fill="#561213"/>
<rect x="351" y="69" width="5" height="5" fill="#541112"/>
<rect x="355" y="69" width="5" height="5" fill="#501112"/>
<rect x="359" y="69" width="5" height="5" fill="#581213"/>
<rect x="363" y="69" width="5" height="5" fill="#571213"/>
<rect x="367" y="69" width="5" height="5" fill="#581213"/>
<rect x="371" y="69" width="5" height="5" fill="#551213"/>
<rect x="375" y="69" width="5" height="5" fill="#501112"/>
<rect x="379" y="69" width="5" height="5" fill="#571213"/>
<rect x="383" y="69" width="5" height="5" fill="#581213"/>
<rect x="295" y="73" width="5" height="5" fill="#521112"/>
<rect x="299" y="73" width="5" height="5" fill="#561213"/>
<rect x="303" y="73" width="5" height="5" fill="#571213"/>
<rect x="307" y="73" width="5" height="5" fill="#521112"/>
<rect x="311" y="73" width="5" height="5" fill="#601314"/>
<rect x="315" y="73" width="5" height="5" fill="#641415"/>
<rect x="319" y="73" width="5" height="5" fill="#5b1213"/>
<rect x="323" y="73" width="5" height="5" fill="#4d1011"/>
<rect x="327" y="73" width="5" height="5" fill="#501112"/>
<rect x="331" y="73" width="5" height="5" fill="#531112"/>
<rect x="335" y="73" width="5" height="5" fill="#531112"/>
<rect x="339" y="73" width="5" height="5" fill="#541213"/>
<rect x="343" y="73" width="5" height="5" fill="#531112"/>
<rect x="347" y="73" width="5" height="5" fill="#4e1112"/>
<rect x="351" y="73" width="5" height="5" fill="#561213"/>
<rect x="355" y="73" width="5" height="5" fill="#521112"/>
<rect x="359" y="73" width="5" height="5" fill="#561213"/>
<rect x="363" y="73" width="5" height="5" fill="#4e1112"/>
<rect x="367" y="73" width="5" height="5" fill="#571213"/>
<rect x="371" y="73" width="5" height="5" fill="#521112"/>
<rect x="375" y="73" width="5" height="5" fill="#541213"/>
<rect x="379" y="73" width="5" height="5" fill="#541213"/>
<rect x="383" y="73" width="5" height="5" fill="#561213"/>
<rect x="295" y="77" width="5" height="5" fill="#4e1112"/>
<rect x="299" y="77" width="5" height="5" fill="#4b1011"/>
<rect x="303" y="77" width="5" height="5" fill="#4f1112"/>
<rect x="307" y="77" width="5" height="5" fill="#4d1011"/>
<rect x="311" y="77" width="5" height="5" fill="#551213"/>
<rect x="315" y="77" width="5" height="5" fill="#5b1213"/>
<rect x="319" y="77" width="5" height="5" fill="#511112"/>
<rect x="323" y="77" width="5" height="5" fill="#4c1011"/>
<rect x="327" y="77" width="5" height="5" fill="#4b1011"/>
<rect x="331" y="77" width="5" height="5" fill="#4f1112"/>
<rect x="335" y="77" width="5" height="5" fill="#511112"/>
<rect x="339" y="77" width="5" height="5" fill="#4b1011"/>
<rect x="343" y="77" width="5" height="5" fill="#521112"/>
<rect x="347" y="77" width="5" height="5" fill="#4d1011"/>
<rect x="351" y="77" width="5" height="5" fill="#4b1011"/>
<rect x="355" y="77" width="5" height="5" fill="#551213"/>
<rect x="359" y="77" width="5" height="5" fill="#501112"/>
<rect x="363" y="77" width="5" height="5" fill="#541213"/>
<rect x="367" y="77" width="5" height="5" fill="#501112"/>
<rect x="371" y="77" width="5" height="5" fill="#4c1011"/>
<rect x="375" y="77" width="5" height="5" fill="#4d1011"/>
<rect x="379" y="77" width="5" height="5" fill="#4f1112"/>
<rect x="383" y="77" width="5" height="5" fill="#511112"/>
<rect x="295" y="81" width="5" height="5" fill="#521112"/>
<rect x="299" y="81" width="5" height="5" fill="#521112"/>
<rect x="303" y="81" width="5" height="5" fill="#511112"/>
<rect x="307" y="81" width="5" height="5" fill="#4c1011"/>
<rect x="311" y="81" width="5" height="5" fill="#501112"/>
<rect x="315" y="81" width="5" height="5" fill="#501112"/>
<rect x="319" y="81" width="5" height="5" fill="#501112"/>
<rect x="323" y="81" width="5" height="5" fill="#4c1011"/>
<rect x="327" y="81" width="5" height="5" fill="#4f1112"/>
<rect x="331" y="81" width="5" height="5" fill="#4f1112"/>
<rect x="335" y="81" width="5" height="5" fill="#4a1011"/>
<rect x="339" y="81" width="5" height="5" fill="#531112"/>
<rect x="343" y="81" width="5" height="5" fill="#501112"/>
<rect x="347" y="81" width="5" height="5" fill="#521112"/>
<rect x="351" y="81" width="5" height="5" fill="#521112"/>
<rect x="355" y="81" width="5" height="5" fill="#521112"/>
<rect x="359" y="81" width="5" height="5" fill="#551213"/>
<rect x="363" y="81" width="5" height="5" fill="#4e1112"/>
<rect x="367" y="81" width="5" height="5" fill="#4e1112"/>
<rect x="371" y="81" width="5" height="5" fill="#491011"/>
<rect x="375" y="81" width="5" height="5" fill="#511112"/>
<rect x="379" y="81" width="5" height="5" fill="#501112"/>
<rect x="383" y="81" width="5" height="5" fill="#501112"/>
<rect x="295" y="85" width="5" height="5" fill="#541213"/>
<rect x="299" y="85" width="5" height="5" fill="#4b1011"/>
<rect x="303" y="85" width="5" height="5" fill="#4c1011"/>
<rect x="307" y="85" width="5" height="5" fill="#521112"/>
<rect x="311" y="85" width="5" height="5" fill="#541112"/>
<rect x="315" y="85" width="5" height="5" fill="#511112"/>
<rect x="319" y="85" width="5" height="5" fill="#4b1011"/>
<rect x="323" y="85" width="5" height="5" fill="#4d1112"/>
<rect x="327" y="85" width="5" height="5" fill="#521112"/>
<rect x="331" y="85" width="5" height="5" fill="#4f1112"/>
<rect x="335" y="85" width="5" height="5" fill="#4e1112"/>
<rect x="339" y="85" width="5" height="5" fill="#4e1112"/>
<rect x="343" y="85" width="5" height="5" fill="#501112"/>
<rect x="347" y="85" width="5" height="5" fill="#501112"/>
<rect x="351" y="85" width="5" height="5" fill="#511112"/>
<rect x="355" y="85" width="5" height="5" fill="#531112"/>
<rect x="359" y="85" width="5" height="5" fill="#521112"/>
<rect x="363" y="85" width="5" height="5" fill="#4d1112"/>
<rect x="367" y="85" width="5" height="5" fill="#4c1011"/>
<rect x="371" y="85" width="5" height="5" fill="#521112"/>
<rect x="375" y="85" width="5" height="5" fill="#521112"/>
<rect x="379" y="85" width="5" height="5" fill="#541112"/>
<rect x="383" y="85" width="5" height="5" fill="#4b1011"/>
<rect x="295" y="89" width="5" height="5" fill="#531112"/>
<rect x="299" y="89" width="5" height="5" fill="#531112"/>
<rect x="303" y="89" width="5" height="5" fill="#4a1011"/>
<rect x="307" y="89" width="5" height="5" fill="#4d1011"/>
<rect x="311" y="89" width="5" height="5" fill="#521112"/>
<rect x="315" y="89" width="5" height="5" fill="#4d1011"/>
<rect x="319" y="89" width="5" height="5" fill="#531112"/>
<rect x="323" y="89" width="5" height="5" fill="#4c1011"/>
<rect x="327" y="89" width="5" height="5" fill="#511112"/>
<rect x="331" y="89" width="5" height="5" fill="#4c1011"/>
<rect x="335" y="89" width="5" height="5" fill="#4c1011"/>
<rect x="339" y="89" width="5" height="5" fill="#4b1011"/>
<rect x="343" y="89" width="5" height="5" fill="#4f1112"/>
<rect x="347" y="89" width="5" height="5" fill="#511112"/>
<rect x="351" y="89" width="5" height="5" fill="#4c1011"/>
<rect x="355" y="89" width="5" height="5" fill="#511112"/>
<rect x="359" y="89" width="5" height="5" fill="#4d1011"/>
<rect x="363" y="89" width="5" height="5" fill="#501112"/>
<rect x="367" y="89" width="5" height="5" fill="#4d1112"/>
<rect x="371" y="89" width="5" height="5" fill="#4b1011"/>
<rect x="375" y="89" width="5" height="5" fill="#4b1011"/>
<rect x="379" y="89" width="5" height="5" fill="#4a1011"/>
<rect x="383" y="89" width="5" height="5" fill="#511112"/>
</g></g>
<text class="wt" transform="translate(307.0 28.2) scale(0.9 1)" font-size="12.5" text-anchor="middle" fill="#f6f0f0" >b)</text>
<rect x="338.6" y="77.6" width="32" height="3" fill="#f2ecec"/>
<clipPath id="cc"><rect x="383" y="13" width="74.7" height="72"/></clipPath>
<g clip-path="url(#cc)"><g filter="url(#hblur)">
<rect x="379" y="9" width="5" height="5" fill="#270a0b"/>
<rect x="383" y="9" width="5" height="5" fill="#23090a"/>
<rect x="387" y="9" width="5" height="5" fill="#2d0b0c"/>
<rect x="391" y="9" width="5" height="5" fill="#2e0b0c"/>
<rect x="395" y="9" width="5" height="5" fill="#2c0b0c"/>
<rect x="399" y="9" width="5" height="5" fill="#390d0e"/>
<rect x="403" y="9" width="5" height="5" fill="#3b0e0f"/>
<rect x="407" y="9" width="5" height="5" fill="#3b0e0f"/>
<rect x="411" y="9" width="5" height="5" fill="#3d0e0f"/>
<rect x="415" y="9" width="5" height="5" fill="#430f10"/>
<rect x="419" y="9" width="5" height="5" fill="#3c0e0f"/>
<rect x="423" y="9" width="5" height="5" fill="#3f0e0f"/>
<rect x="427" y="9" width="5" height="5" fill="#3f0e0f"/>
<rect x="431" y="9" width="5" height="5" fill="#3c0e0f"/>
<rect x="435" y="9" width="5" height="5" fill="#3c0e0f"/>
<rect x="439" y="9" width="5" height="5" fill="#400e0f"/>
<rect x="443" y="9" width="5" height="5" fill="#3b0e0f"/>
<rect x="447" y="9" width="5" height="5" fill="#360d0e"/>
<rect x="451" y="9" width="5" height="5" fill="#340c0d"/>
<rect x="455" y="9" width="5" height="5" fill="#2d0b0c"/>
<rect x="459" y="9" width="5" height="5" fill="#340c0d"/>
<rect x="463" y="9" width="5" height="5" fill="#2b0b0c"/>
<rect x="379" y="13" width="5" height="5" fill="#290b0c"/>
<rect x="383" y="13" width="5" height="5" fill="#270a0b"/>
<rect x="387" y="13" width="5" height="5" fill="#250a0b"/>
<rect x="391" y="13" width="5" height="5" fill="#2d0b0c"/>
<rect x="395" y="13" width="5" height="5" fill="#320c0d"/>
<rect x="399" y="13" width="5" height="5" fill="#320c0d"/>
<rect x="403" y="13" width="5" height="5" fill="#3a0d0e"/>
<rect x="407" y="13" width="5" height="5" fill="#390d0e"/>
<rect x="411" y="13" width="5" height="5" fill="#410f10"/>
<rect x="415" y="13" width="5" height="5" fill="#3c0e0f"/>
<rect x="419" y="13" width="5" height="5" fill="#3c0e0f"/>
<rect x="423" y="13" width="5" height="5" fill="#3b0e0f"/>
<rect x="427" y="13" width="5" height="5" fill="#390d0e"/>
<rect x="431" y="13" width="5" height="5" fill="#3a0e0f"/>
<rect x="435" y="13" width="5" height="5" fill="#3a0d0e"/>
<rect x="439" y="13" width="5" height="5" fill="#3e0e0f"/>
<rect x="443" y="13" width="5" height="5" fill="#3e0e0f"/>
<rect x="447" y="13" width="5" height="5" fill="#340c0d"/>
<rect x="451" y="13" width="5" height="5" fill="#300c0d"/>
<rect x="455" y="13" width="5" height="5" fill="#320c0d"/>
<rect x="459" y="13" width="5" height="5" fill="#2d0b0c"/>
<rect x="463" y="13" width="5" height="5" fill="#300c0d"/>
<rect x="379" y="17" width="5" height="5" fill="#2e0b0c"/>
<rect x="383" y="17" width="5" height="5" fill="#270a0b"/>
<rect x="387" y="17" width="5" height="5" fill="#2e0b0c"/>
<rect x="391" y="17" width="5" height="5" fill="#300c0d"/>
<rect x="395" y="17" width="5" height="5" fill="#300c0d"/>
<rect x="399" y="17" width="5" height="5" fill="#360d0e"/>
<rect x="403" y="17" width="5" height="5" fill="#3e0e0f"/>
<rect x="407" y="17" width="5" height="5" fill="#3b0e0f"/>
<rect x="411" y="17" width="5" height="5" fill="#3d0e0f"/>
<rect x="415" y="17" width="5" height="5" fill="#420f10"/>
<rect x="419" y="17" width="5" height="5" fill="#450f10"/>
<rect x="423" y="17" width="5" height="5" fill="#410f10"/>
<rect x="427" y="17" width="5" height="5" fill="#430f10"/>
<rect x="431" y="17" width="5" height="5" fill="#3b0e0f"/>
<rect x="435" y="17" width="5" height="5" fill="#3e0e0f"/>
<rect x="439" y="17" width="5" height="5" fill="#3d0e0f"/>
<rect x="443" y="17" width="5" height="5" fill="#420f10"/>
<rect x="447" y="17" width="5" height="5" fill="#390d0e"/>
<rect x="451" y="17" width="5" height="5" fill="#3b0e0f"/>
<rect x="455" y="17" width="5" height="5" fill="#310c0d"/>
<rect x="459" y="17" width="5" height="5" fill="#360d0e"/>
<rect x="463" y="17" width="5" height="5" fill="#3a0d0e"/>
<rect x="379" y="21" width="5" height="5" fill="#370d0e"/>
<rect x="383" y="21" width="5" height="5" fill="#340c0d"/>
<rect x="387" y="21" width="5" height="5" fill="#310c0d"/>
<rect x="391" y="21" width="5" height="5" fill="#3c0e0f"/>
<rect x="395" y="21" width="5" height="5" fill="#370d0e"/>
<rect x="399" y="21" width="5" height="5" fill="#450f10"/>
<rect x="403" y="21" width="5" height="5" fill="#460f10"/>
<rect x="407" y="21" width="5" height="5" fill="#471011"/>
<rect x="411" y="21" width="5" height="5" fill="#460f10"/>
<rect x="415" y="21" width="5" height="5" fill="#430f10"/>
<rect x="419" y="21" width="5" height="5" fill="#450f10"/>
<rect x="423" y="21" width="5" height="5" fill="#481011"/>
<rect x="427" y="21" width="5" height="5" fill="#481011"/>
<rect x="431" y="21" width="5" height="5" fill="#440f10"/>
<rect x="435" y="21" width="5" height="5" fill="#481011"/>
<rect x="439" y="21" width="5" height="5" fill="#3f0e0f"/>
<rect x="443" y="21" width="5" height="5" fill="#3f0e0f"/>
<rect x="447" y="21" width="5" height="5" fill="#3a0e0f"/>
<rect x="451" y="21" width="5" height="5" fill="#3b0e0f"/>
<rect x="455" y="21" width="5" height="5" fill="#3f0e0f"/>
<rect x="459" y="21" width="5" height="5" fill="#3e0e0f"/>
<rect x="463" y="21" width="5" height="5" fill="#370d0e"/>
<rect x="379" y="25" width="5" height="5" fill="#3c0e0f"/>
<rect x="383" y="25" width="5" height="5" fill="#3a0d0e"/>
<rect x="387" y="25" width="5" height="5" fill="#410f10"/>
<rect x="391" y="25" width="5" height="5" fill="#410f10"/>
<rect x="395" y="25" width="5" height="5" fill="#420f10"/>
<rect x="399" y="25" width="5" height="5" fill="#471011"/>
<rect x="403" y="25" width="5" height="5" fill="#501112"/>
<rect x="407" y="25" width="5" height="5" fill="#4d1112"/>
<rect x="411" y="25" width="5" height="5" fill="#521112"/>
<rect x="415" y="25" width="5" height="5" fill="#521112"/>
<rect x="419" y="25" width="5" height="5" fill="#501112"/>
<rect x="423" y="25" width="5" height="5" fill="#511112"/>
<rect x="427" y="25" width="5" height="5" fill="#4e1112"/>
<rect x="431" y="25" width="5" height="5" fill="#4b1011"/>
<rect x="435" y="25" width="5" height="5" fill="#4c1011"/>
<rect x="439" y="25" width="5" height="5" fill="#481011"/>
<rect x="443" y="25" width="5" height="5" fill="#450f10"/>
<rect x="447" y="25" width="5" height="5" fill="#400f10"/>
<rect x="451" y="25" width="5" height="5" fill="#471011"/>
<rect x="455" y="25" width="5" height="5" fill="#410f10"/>
<rect x="459" y="25" width="5" height="5" fill="#3f0e0f"/>
<rect x="463" y="25" width="5" height="5" fill="#3d0e0f"/>
<rect x="379" y="29" width="5" height="5" fill="#460f10"/>
<rect x="383" y="29" width="5" height="5" fill="#4d1112"/>
<rect x="387" y="29" width="5" height="5" fill="#481011"/>
<rect x="391" y="29" width="5" height="5" fill="#4e1112"/>
<rect x="395" y="29" width="5" height="5" fill="#4d1112"/>
<rect x="399" y="29" width="5" height="5" fill="#571213"/>
<rect x="403" y="29" width="5" height="5" fill="#5b1314"/>
<rect x="407" y="29" width="5" height="5" fill="#631415"/>
<rect x="411" y="29" width="5" height="5" fill="#611314"/>
<rect x="415" y="29" width="5" height="5" fill="#5f1314"/>
<rect x="419" y="29" width="5" height="5" fill="#5d1314"/>
<rect x="423" y="29" width="5" height="5" fill="#601314"/>
<rect x="427" y="29" width="5" height="5" fill="#631415"/>
<rect x="431" y="29" width="5" height="5" fill="#611314"/>
<rect x="435" y="29" width="5" height="5" fill="#5a1213"/>
<rect x="439" y="29" width="5" height="5" fill="#521112"/>
<rect x="443" y="29" width="5" height="5" fill="#521112"/>
<rect x="447" y="29" width="5" height="5" fill="#4b1011"/>
<rect x="451" y="29" width="5" height="5" fill="#430f10"/>
<rect x="455" y="29" width="5" height="5" fill="#4b1011"/>
<rect x="459" y="29" width="5" height="5" fill="#4c1011"/>
<rect x="463" y="29" width="5" height="5" fill="#4b1011"/>
<rect x="379" y="33" width="5" height="5" fill="#571213"/>
<rect x="383" y="33" width="5" height="5" fill="#561213"/>
<rect x="387" y="33" width="5" height="5" fill="#511112"/>
<rect x="391" y="33" width="5" height="5" fill="#5c1314"/>
<rect x="395" y="33" width="5" height="5" fill="#5b1314"/>
<rect x="399" y="33" width="5" height="5" fill="#681415"/>
<rect x="403" y="33" width="5" height="5" fill="#801718"/>
<rect x="407" y="33" width="5" height="5" fill="#801718"/>
<rect x="411" y="33" width="5" height="5" fill="#7f1718"/>
<rect x="415" y="33" width="5" height="5" fill="#791617"/>
<rect x="419" y="33" width="5" height="5" fill="#701516"/>
<rect x="423" y="33" width="5" height="5" fill="#721516"/>
<rect x="427" y="33" width="5" height="5" fill="#7e1718"/>
<rect x="431" y="33" width="5" height="5" fill="#7f1718"/>
<rect x="435" y="33" width="5" height="5" fill="#761617"/>
<rect x="439" y="33" width="5" height="5" fill="#671415"/>
<rect x="443" y="33" width="5" height="5" fill="#581213"/>
<rect x="447" y="33" width="5" height="5" fill="#491011"/>
<rect x="451" y="33" width="5" height="5" fill="#4b1011"/>
<rect x="455" y="33" width="5" height="5" fill="#551213"/>
<rect x="459" y="33" width="5" height="5" fill="#501112"/>
<rect x="463" y="33" width="5" height="5" fill="#521112"/>
<rect x="379" y="37" width="5" height="5" fill="#5a1213"/>
<rect x="383" y="37" width="5" height="5" fill="#601314"/>
<rect x="387" y="37" width="5" height="5" fill="#5e1314"/>
<rect x="391" y="37" width="5" height="5" fill="#601314"/>
<rect x="395" y="37" width="5" height="5" fill="#6e1516"/>
<rect x="399" y="37" width="5" height="5" fill="#831718"/>
<rect x="403" y="37" width="5" height="5" fill="#a31a1b"/>
<rect x="407" y="37" width="5" height="5" fill="#b71c1d"/>
<rect x="411" y="37" width="5" height="5" fill="#a71b1c"/>
<rect x="415" y="37" width="5" height="5" fill="#8f191a"/>
<rect x="419" y="37" width="5" height="5" fill="#841718"/>
<rect x="423" y="37" width="5" height="5" fill="#8d1819"/>
<rect x="427" y="37" width="5" height="5" fill="#a41a1b"/>
<rect x="431" y="37" width="5" height="5" fill="#a71b1c"/>
<rect x="435" y="37" width="5" height="5" fill="#9a1a1b"/>
<rect x="439" y="37" width="5" height="5" fill="#731617"/>
<rect x="443" y="37" width="5" height="5" fill="#5b1213"/>
<rect x="447" y="37" width="5" height="5" fill="#3e0e0f"/>
<rect x="451" y="37" width="5" height="5" fill="#450f10"/>
<rect x="455" y="37" width="5" height="5" fill="#571213"/>
<rect x="459" y="37" width="5" height="5" fill="#541213"/>
<rect x="463" y="37" width="5" height="5" fill="#541112"/>
<rect x="379" y="41" width="5" height="5" fill="#691415"/>
<rect x="383" y="41" width="5" height="5" fill="#631415"/>
<rect x="387" y="41" width="5" height="5" fill="#681415"/>
<rect x="391" y="41" width="5" height="5" fill="#721516"/>
<rect x="395" y="41" width="5" height="5" fill="#801718"/>
<rect x="399" y="41" width="5" height="5" fill="#a01a1b"/>
<rect x="403" y="41" width="5" height="5" fill="#c11c1d"/>
<rect x="407" y="41" width="5" height="5" fill="#db1d1e"/>
<rect x="411" y="41" width="5" height="5" fill="#c61c1d"/>
<rect x="415" y="41" width="5" height="5" fill="#ae1b1c"/>
<rect x="419" y="41" width="5" height="5" fill="#a21a1b"/>
<rect x="423" y="41" width="5" height="5" fill="#a21a1b"/>
<rect x="427" y="41" width="5" height="5" fill="#c01c1d"/>
<rect x="431" y="41" width="5" height="5" fill="#d71d1e"/>
<rect x="435" y="41" width="5" height="5" fill="#b61c1d"/>
<rect x="439" y="41" width="5" height="5" fill="#8e1819"/>
<rect x="443" y="41" width="5" height="5" fill="#6c1516"/>
<rect x="447" y="41" width="5" height="5" fill="#471011"/>
<rect x="451" y="41" width="5" height="5" fill="#531112"/>
<rect x="455" y="41" width="5" height="5" fill="#5b1314"/>
<rect x="459" y="41" width="5" height="5" fill="#5f1314"/>
<rect x="463" y="41" width="5" height="5" fill="#5d1314"/>
<rect x="379" y="45" width="5" height="5" fill="#5c1314"/>
<rect x="383" y="45" width="5" height="5" fill="#5b1213"/>
<rect x="387" y="45" width="5" height="5" fill="#5b1314"/>
<rect x="391" y="45" width="5" height="5" fill="#691415"/>
<rect x="395" y="45" width="5" height="5" fill="#6c1516"/>
<rect x="399" y="45" width="5" height="5" fill="#871819"/>
<rect x="403" y="45" width="5" height="5" fill="#a41a1b"/>
<rect x="407" y="45" width="5" height="5" fill="#b81c1d"/>
<rect x="411" y="45" width="5" height="5" fill="#af1b1c"/>
<rect x="415" y="45" width="5" height="5" fill="#9c1a1b"/>
<rect x="419" y="45" width="5" height="5" fill="#8e1819"/>
<rect x="423" y="45" width="5" height="5" fill="#9c1a1b"/>
<rect x="427" y="45" width="5" height="5" fill="#aa1b1c"/>
<rect x="431" y="45" width="5" height="5" fill="#bf1c1d"/>
<rect x="435" y="45" width="5" height="5" fill="#a11a1b"/>
<rect x="439" y="45" width="5" height="5" fill="#7c1718"/>
<rect x="443" y="45" width="5" height="5" fill="#5e1314"/>
<rect x="447" y="45" width="5" height="5" fill="#491011"/>
<rect x="451" y="45" width="5" height="5" fill="#511112"/>
<rect x="455" y="45" width="5" height="5" fill="#5d1314"/>
<rect x="459" y="45" width="5" height="5" fill="#5c1314"/>
<rect x="463" y="45" width="5" height="5" fill="#5c1314"/>
<rect x="379" y="49" width="5" height="5" fill="#561213"/>
<rect x="383" y="49" width="5" height="5" fill="#571213"/>
<rect x="387" y="49" width="5" height="5" fill="#591213"/>
<rect x="391" y="49" width="5" height="5" fill="#601314"/>
<rect x="395" y="49" width="5" height="5" fill="#6b1516"/>
<rect x="399" y="49" width="5" height="5" fill="#761617"/>
<rect x="403" y="49" width="5" height="5" fill="#791617"/>
<rect x="407" y="49" width="5" height="5" fill="#8d1819"/>
<rect x="411" y="49" width="5" height="5" fill="#8d1819"/>
<rect x="415" y="49" width="5" height="5" fill="#841718"/>
<rect x="419" y="49" width="5" height="5" fill="#841819"/>
<rect x="423" y="49" width="5" height="5" fill="#881819"/>
<rect x="427" y="49" width="5" height="5" fill="#8a1819"/>
<rect x="431" y="49" width="5" height="5" fill="#91191a"/>
<rect x="435" y="49" width="5" height="5" fill="#881819"/>
<rect x="439" y="49" width="5" height="5" fill="#731617"/>
<rect x="443" y="49" width="5" height="5" fill="#631415"/>
<rect x="447" y="49" width="5" height="5" fill="#4d1011"/>
<rect x="451" y="49" width="5" height="5" fill="#541213"/>
<rect x="455" y="49" width="5" height="5" fill="#561213"/>
<rect x="459" y="49" width="5" height="5" fill="#5b1213"/>
<rect x="463" y="49" width="5" height="5" fill="#521112"/>
<rect x="379" y="53" width="5" height="5" fill="#541112"/>
<rect x="383" y="53" width="5" height="5" fill="#4f1112"/>
<rect x="387" y="53" width="5" height="5" fill="#5b1213"/>
<rect x="391" y="53" width="5" height="5" fill="#601314"/>
<rect x="395" y="53" width="5" height="5" fill="#5a1213"/>
<rect x="399" y="53" width="5" height="5" fill="#5f1314"/>
<rect x="403" y="53" width="5" height="5" fill="#621314"/>
<rect x="407" y="53" width="5" height="5" fill="#6d1516"/>
<rect x="411" y="53" width="5" height="5" fill="#701516"/>
<rect x="415" y="53" width="5" height="5" fill="#6b1516"/>
<rect x="419" y="53" width="5" height="5" fill="#751617"/>
<rect x="423" y="53" width="5" height="5" fill="#751617"/>
<rect x="427" y="53" width="5" height="5" fill="#701516"/>
<rect x="431" y="53" width="5" height="5" fill="#6f1516"/>
<rect x="435" y="53" width="5" height="5" fill="#661415"/>
<rect x="439" y="53" width="5" height="5" fill="#601314"/>
<rect x="443" y="53" width="5" height="5" fill="#571213"/>
<rect x="447" y="53" width="5" height="5" fill="#521112"/>
<rect x="451" y="53" width="5" height="5" fill="#541213"/>
<rect x="455" y="53" width="5" height="5" fill="#4f1112"/>
<rect x="459" y="53" width="5" height="5" fill="#501112"/>
<rect x="463" y="53" width="5" height="5" fill="#551213"/>
<rect x="379" y="57" width="5" height="5" fill="#4a1011"/>
<rect x="383" y="57" width="5" height="5" fill="#491011"/>
<rect x="387" y="57" width="5" height="5" fill="#581213"/>
<rect x="391" y="57" width="5" height="5" fill="#591213"/>
<rect x="395" y="57" width="5" height="5" fill="#5a1213"/>
<rect x="399" y="57" width="5" height="5" fill="#541213"/>
<rect x="403" y="57" width="5" height="5" fill="#551213"/>
<rect x="407" y="57" width="5" height="5" fill="#591213"/>
<rect x="411" y="57" width="5" height="5" fill="#5d1314"/>
<rect x="415" y="57" width="5" height="5" fill="#5a1213"/>
<rect x="419" y="57" width="5" height="5" fill="#5f1314"/>
<rect x="423" y="57" width="5" height="5" fill="#591213"/>
<rect x="427" y="57" width="5" height="5" fill="#581213"/>
<rect x="431" y="57" width="5" height="5" fill="#571213"/>
<rect x="435" y="57" width="5" height="5" fill="#541112"/>
<rect x="439" y="57" width="5" height="5" fill="#511112"/>
<rect x="443" y="57" width="5" height="5" fill="#4e1112"/>
<rect x="447" y="57" width="5" height="5" fill="#521112"/>
<rect x="451" y="57" width="5" height="5" fill="#4f1112"/>
<rect x="455" y="57" width="5" height="5" fill="#4c1011"/>
<rect x="459" y="57" width="5" height="5" fill="#501112"/>
<rect x="463" y="57" width="5" height="5" fill="#4f1112"/>
<rect x="379" y="61" width="5" height="5" fill="#450f10"/>
<rect x="383" y="61" width="5" height="5" fill="#491011"/>
<rect x="387" y="61" width="5" height="5" fill="#531112"/>
<rect x="391" y="61" width="5" height="5" fill="#5f1314"/>
<rect x="395" y="61" width="5" height="5" fill="#5c1314"/>
<rect x="399" y="61" width="5" height="5" fill="#501112"/>
<rect x="403" y="61" width="5" height="5" fill="#521112"/>
<rect x="407" y="61" width="5" height="5" fill="#4b1011"/>
<rect x="411" y="61" width="5" height="5" fill="#511112"/>
<rect x="415" y="61" width="5" height="5" fill="#561213"/>
<rect x="419" y="61" width="5" height="5" fill="#511112"/>
<rect x="423" y="61" width="5" height="5" fill="#541213"/>
<rect x="427" y="61" width="5" height="5" fill="#4a1011"/>
<rect x="431" y="61" width="5" height="5" fill="#501112"/>
<rect x="435" y="61" width="5" height="5" fill="#491011"/>
<rect x="439" y="61" width="5" height="5" fill="#4d1112"/>
<rect x="443" y="61" width="5" height="5" fill="#481011"/>
<rect x="447" y="61" width="5" height="5" fill="#481011"/>
<rect x="451" y="61" width="5" height="5" fill="#450f10"/>
<rect x="455" y="61" width="5" height="5" fill="#440f10"/>
<rect x="459" y="61" width="5" height="5" fill="#4b1011"/>
<rect x="463" y="61" width="5" height="5" fill="#491011"/>
<rect x="379" y="65" width="5" height="5" fill="#440f10"/>
<rect x="383" y="65" width="5" height="5" fill="#3f0e0f"/>
<rect x="387" y="65" width="5" height="5" fill="#4a1011"/>
<rect x="391" y="65" width="5" height="5" fill="#631415"/>
<rect x="395" y="65" width="5" height="5" fill="#531112"/>
<rect x="399" y="65" width="5" height="5" fill="#481011"/>
<rect x="403" y="65" width="5" height="5" fill="#471011"/>
<rect x="407" y="65" width="5" height="5" fill="#460f10"/>
<rect x="411" y="65" width="5" height="5" fill="#471011"/>
<rect x="415" y="65" width="5" height="5" fill="#4c1011"/>
<rect x="419" y="65" width="5" height="5" fill="#4a1011"/>
<rect x="423" y="65" width="5" height="5" fill="#440f10"/>
<rect x="427" y="65" width="5" height="5" fill="#450f10"/>
<rect x="431" y="65" width="5" height="5" fill="#440f10"/>
<rect x="435" y="65" width="5" height="5" fill="#471011"/>
<rect x="439" y="65" width="5" height="5" fill="#460f10"/>
<rect x="443" y="65" width="5" height="5" fill="#410f10"/>
<rect x="447" y="65" width="5" height="5" fill="#450f10"/>
<rect x="451" y="65" width="5" height="5" fill="#420f10"/>
<rect x="455" y="65" width="5" height="5" fill="#3d0e0f"/>
<rect x="459" y="65" width="5" height="5" fill="#400e0f"/>
<rect x="463" y="65" width="5" height="5" fill="#410f10"/>
<rect x="379" y="69" width="5" height="5" fill="#3c0e0f"/>
<rect x="383" y="69" width="5" height="5" fill="#420f10"/>
<rect x="387" y="69" width="5" height="5" fill="#4d1112"/>
<rect x="391" y="69" width="5" height="5" fill="#5b1213"/>
<rect x="395" y="69" width="5" height="5" fill="#511112"/>
<rect x="399" y="69" width="5" height="5" fill="#471011"/>
<rect x="403" y="69" width="5" height="5" fill="#400f10"/>
<rect x="407" y="69" width="5" height="5" fill="#420f10"/>
<rect x="411" y="69" width="5" height="5" fill="#450f10"/>
<rect x="415" y="69" width="5" height="5" fill="#3c0e0f"/>
<rect x="419" y="69" width="5" height="5" fill="#400e0f"/>
<rect x="423" y="69" width="5" height="5" fill="#400e0f"/>
<rect x="427" y="69" width="5" height="5" fill="#3f0e0f"/>
<rect x="431" y="69" width="5" height="5" fill="#400e0f"/>
<rect x="435" y="69" width="5" height="5" fill="#3b0e0f"/>
<rect x="439" y="69" width="5" height="5" fill="#420f10"/>
<rect x="443" y="69" width="5" height="5" fill="#450f10"/>
<rect x="447" y="69" width="5" height="5" fill="#3d0e0f"/>
<rect x="451" y="69" width="5" height="5" fill="#3c0e0f"/>
<rect x="455" y="69" width="5" height="5" fill="#3e0e0f"/>
<rect x="459" y="69" width="5" height="5" fill="#430f10"/>
<rect x="463" y="69" width="5" height="5" fill="#3c0e0f"/>
<rect x="379" y="73" width="5" height="5" fill="#410f10"/>
<rect x="383" y="73" width="5" height="5" fill="#3a0e0f"/>
<rect x="387" y="73" width="5" height="5" fill="#440f10"/>
<rect x="391" y="73" width="5" height="5" fill="#4e1112"/>
<rect x="395" y="73" width="5" height="5" fill="#491011"/>
<rect x="399" y="73" width="5" height="5" fill="#3b0e0f"/>
<rect x="403" y="73" width="5" height="5" fill="#430f10"/>
<rect x="407" y="73" width="5" height="5" fill="#420f10"/>
<rect x="411" y="73" width="5" height="5" fill="#3e0e0f"/>
<rect x="415" y="73" width="5" height="5" fill="#420f10"/>
<rect x="419" y="73" width="5" height="5" fill="#3f0e0f"/>
<rect x="423" y="73" width="5" height="5" fill="#3a0e0f"/>
<rect x="427" y="73" width="5" height="5" fill="#3d0e0f"/>
<rect x="431" y="73" width="5" height="5" fill="#420f10"/>
<rect x="435" y="73" width="5" height="5" fill="#3d0e0f"/>
<rect x="439" y="73" width="5" height="5" fill="#390d0e"/>
<rect x="443" y="73" width="5" height="5" fill="#3a0d0e"/>
<rect x="447" y="73" width="5" height="5" fill="#3a0d0e"/>
<rect x="451" y="73" width="5" height="5" fill="#3f0e0f"/>
<rect x="455" y="73" width="5" height="5" fill="#3f0e0f"/>
<rect x="459" y="73" width="5" height="5" fill="#3d0e0f"/>
<rect x="463" y="73" width="5" height="5" fill="#3d0e0f"/>
<rect x="379" y="77" width="5" height="5" fill="#420f10"/>
<rect x="383" y="77" width="5" height="5" fill="#3b0e0f"/>
<rect x="387" y="77" width="5" height="5" fill="#410f10"/>
<rect x="391" y="77" width="5" height="5" fill="#3f0e0f"/>
<rect x="395" y="77" width="5" height="5" fill="#410f10"/>
<rect x="399" y="77" width="5" height="5" fill="#3a0d0e"/>
<rect x="403" y="77" width="5" height="5" fill="#380d0e"/>
<rect x="407" y="77" width="5" height="5" fill="#3b0e0f"/>
<rect x="411" y="77" width="5" height="5" fill="#380d0e"/>
<rect x="415" y="77" width="5" height="5" fill="#3b0e0f"/>
<rect x="419" y="77" width="5" height="5" fill="#3e0e0f"/>
<rect x="423" y="77" width="5" height="5" fill="#3d0e0f"/>
<rect x="427" y="77" width="5" height="5" fill="#400e0f"/>
<rect x="431" y="77" width="5" height="5" fill="#3c0e0f"/>
<rect x="435" y="77" width="5" height="5" fill="#380d0e"/>
<rect x="439" y="77" width="5" height="5" fill="#3f0e0f"/>
<rect x="443" y="77" width="5" height="5" fill="#3c0e0f"/>
<rect x="447" y="77" width="5" height="5" fill="#3f0e0f"/>
<rect x="451" y="77" width="5" height="5" fill="#420f10"/>
<rect x="455" y="77" width="5" height="5" fill="#3d0e0f"/>
<rect x="459" y="77" width="5" height="5" fill="#3a0d0e"/>
<rect x="463" y="77" width="5" height="5" fill="#3b0e0f"/>
<rect x="379" y="81" width="5" height="5" fill="#3c0e0f"/>
<rect x="383" y="81" width="5" height="5" fill="#3a0d0e"/>
<rect x="387" y="81" width="5" height="5" fill="#380d0e"/>
<rect x="391" y="81" width="5" height="5" fill="#3d0e0f"/>
<rect x="395" y="81" width="5" height="5" fill="#3f0e0f"/>
<rect x="399" y="81" width="5" height="5" fill="#400e0f"/>
<rect x="403" y="81" width="5" height="5" fill="#3f0e0f"/>
<rect x="407" y="81" width="5" height="5" fill="#400f10"/>
<rect x="411" y="81" width="5" height="5" fill="#400e0f"/>
<rect x="415" y="81" width="5" height="5" fill="#3b0e0f"/>
<rect x="419" y="81" width="5" height="5" fill="#3e0e0f"/>
<rect x="423" y="81" width="5" height="5" fill="#370d0e"/>
<rect x="427" y="81" width="5" height="5" fill="#3f0e0f"/>
<rect x="431" y="81" width="5" height="5" fill="#3e0e0f"/>
<rect x="435" y="81" width="5" height="5" fill="#390d0e"/>
<rect x="439" y="81" width="5" height="5" fill="#3c0e0f"/>
<rect x="443" y="81" width="5" height="5" fill="#3a0d0e"/>
<rect x="447" y="81" width="5" height="5" fill="#3f0e0f"/>
<rect x="451" y="81" width="5" height="5" fill="#3b0e0f"/>
<rect x="455" y="81" width="5" height="5" fill="#3f0e0f"/>
<rect x="459" y="81" width="5" height="5" fill="#410f10"/>
<rect x="463" y="81" width="5" height="5" fill="#3f0e0f"/>
<rect x="379" y="85" width="5" height="5" fill="#3b0e0f"/>
<rect x="383" y="85" width="5" height="5" fill="#3a0e0f"/>
<rect x="387" y="85" width="5" height="5" fill="#420f10"/>
<rect x="391" y="85" width="5" height="5" fill="#420f10"/>
<rect x="395" y="85" width="5" height="5" fill="#390d0e"/>
<rect x="399" y="85" width="5" height="5" fill="#3b0e0f"/>
<rect x="403" y="85" width="5" height="5" fill="#3f0e0f"/>
<rect x="407" y="85" width="5" height="5" fill="#3f0e0f"/>
<rect x="411" y="85" width="5" height="5" fill="#3a0d0e"/>
<rect x="415" y="85" width="5" height="5" fill="#3b0e0f"/>
<rect x="419" y="85" width="5" height="5" fill="#410f10"/>
<rect x="423" y="85" width="5" height="5" fill="#370d0e"/>
<rect x="427" y="85" width="5" height="5" fill="#390d0e"/>
<rect x="431" y="85" width="5" height="5" fill="#3e0e0f"/>
<rect x="435" y="85" width="5" height="5" fill="#410f10"/>
<rect x="439" y="85" width="5" height="5" fill="#410f10"/>
<rect x="443" y="85" width="5" height="5" fill="#3c0e0f"/>
<rect x="447" y="85" width="5" height="5" fill="#3f0e0f"/>
<rect x="451" y="85" width="5" height="5" fill="#410f10"/>
<rect x="455" y="85" width="5" height="5" fill="#3a0d0e"/>
<rect x="459" y="85" width="5" height="5" fill="#390d0e"/>
<rect x="463" y="85" width="5" height="5" fill="#390d0e"/>
<rect x="379" y="89" width="5" height="5" fill="#3f0e0f"/>
<rect x="383" y="89" width="5" height="5" fill="#380d0e"/>
<rect x="387" y="89" width="5" height="5" fill="#3d0e0f"/>
<rect x="391" y="89" width="5" height="5" fill="#420f10"/>
<rect x="395" y="89" width="5" height="5" fill="#3a0d0e"/>
<rect x="399" y="89" width="5" height="5" fill="#3e0e0f"/>
<rect x="403" y="89" width="5" height="5" fill="#3c0e0f"/>
<rect x="407" y="89" width="5" height="5" fill="#410f10"/>
<rect x="411" y="89" width="5" height="5" fill="#3c0e0f"/>
<rect x="415" y="89" width="5" height="5" fill="#3c0e0f"/>
<rect x="419" y="89" width="5" height="5" fill="#410f10"/>
<rect x="423" y="89" width="5" height="5" fill="#3f0e0f"/>
<rect x="427" y="89" width="5" height="5" fill="#380d0e"/>
<rect x="431" y="89" width="5" height="5" fill="#3f0e0f"/>
<rect x="435" y="89" width="5" height="5" fill="#3b0e0f"/>
<rect x="439" y="89" width="5" height="5" fill="#410f10"/>
<rect x="443" y="89" width="5" height="5" fill="#410f10"/>
<rect x="447" y="89" width="5" height="5" fill="#3c0e0f"/>
<rect x="451" y="89" width="5" height="5" fill="#3b0e0f"/>
<rect x="455" y="89" width="5" height="5" fill="#390d0e"/>
<rect x="459" y="89" width="5" height="5" fill="#390d0e"/>
<rect x="463" y="89" width="5" height="5" fill="#390d0e"/>
</g></g>
<text class="wt" transform="translate(391.3 28.2) scale(0.9 1)" font-size="12.5" text-anchor="middle" fill="#f6f0f0" >c)</text>
<rect x="418.5" y="77.6" width="33" height="3" fill="#f2ecec"/>
<clipPath id="cd"><rect x="298.7" y="90.8" width="78.8" height="75"/></clipPath>
<g clip-path="url(#cd)"><g filter="url(#hblur)">
<rect x="295" y="87" width="5" height="5" fill="#4c1011"/>
<rect x="299" y="87" width="5" height="5" fill="#531112"/>
<rect x="303" y="87" width="5" height="5" fill="#4b1011"/>
<rect x="307" y="87" width="5" height="5" fill="#511112"/>
<rect x="311" y="87" width="5" height="5" fill="#511112"/>
<rect x="315" y="87" width="5" height="5" fill="#531112"/>
<rect x="319" y="87" width="5" height="5" fill="#511112"/>
<rect x="323" y="87" width="5" height="5" fill="#551213"/>
<rect x="327" y="87" width="5" height="5" fill="#4e1112"/>
<rect x="331" y="87" width="5" height="5" fill="#4c1011"/>
<rect x="335" y="87" width="5" height="5" fill="#511112"/>
<rect x="339" y="87" width="5" height="5" fill="#4e1112"/>
<rect x="343" y="87" width="5" height="5" fill="#561213"/>
<rect x="347" y="87" width="5" height="5" fill="#551213"/>
<rect x="351" y="87" width="5" height="5" fill="#521112"/>
<rect x="355" y="87" width="5" height="5" fill="#541213"/>
<rect x="359" y="87" width="5" height="5" fill="#4d1112"/>
<rect x="363" y="87" width="5" height="5" fill="#501112"/>
<rect x="367" y="87" width="5" height="5" fill="#4f1112"/>
<rect x="371" y="87" width="5" height="5" fill="#4e1112"/>
<rect x="375" y="87" width="5" height="5" fill="#4f1112"/>
<rect x="379" y="87" width="5" height="5" fill="#501112"/>
<rect x="383" y="87" width="5" height="5" fill="#521112"/>
<rect x="295" y="91" width="5" height="5" fill="#4b1011"/>
<rect x="299" y="91" width="5" height="5" fill="#511112"/>
<rect x="303" y="91" width="5" height="5" fill="#4c1011"/>
<rect x="307" y="91" width="5" height="5" fill="#561213"/>
<rect x="311" y="91" width="5" height="5" fill="#511112"/>
<rect x="315" y="91" width="5" height="5" fill="#521112"/>
<rect x="319" y="91" width="5" height="5" fill="#4e1112"/>
<rect x="323" y="91" width="5" height="5" fill="#531112"/>
<rect x="327" y="91" width="5" height="5" fill="#531112"/>
<rect x="331" y="91" width="5" height="5" fill="#551213"/>
<rect x="335" y="91" width="5" height="5" fill="#521112"/>
<rect x="339" y="91" width="5" height="5" fill="#4e1112"/>
<rect x="343" y="91" width="5" height="5" fill="#521112"/>
<rect x="347" y="91" width="5" height="5" fill="#4c1011"/>
<rect x="351" y="91" width="5" height="5" fill="#531112"/>
<rect x="355" y="91" width="5" height="5" fill="#4e1112"/>
<rect x="359" y="91" width="5" height="5" fill="#531112"/>
<rect x="363" y="91" width="5" height="5" fill="#4c1011"/>
<rect x="367" y="91" width="5" height="5" fill="#521112"/>
<rect x="371" y="91" width="5" height="5" fill="#4d1011"/>
<rect x="375" y="91" width="5" height="5" fill="#4b1011"/>
<rect x="379" y="91" width="5" height="5" fill="#4e1112"/>
<rect x="383" y="91" width="5" height="5" fill="#541213"/>
<rect x="295" y="95" width="5" height="5" fill="#511112"/>
<rect x="299" y="95" width="5" height="5" fill="#521112"/>
<rect x="303" y="95" width="5" height="5" fill="#561213"/>
<rect x="307" y="95" width="5" height="5" fill="#581213"/>
<rect x="311" y="95" width="5" height="5" fill="#501112"/>
<rect x="315" y="95" width="5" height="5" fill="#551213"/>
<rect x="319" y="95" width="5" height="5" fill="#561213"/>
<rect x="323" y="95" width="5" height="5" fill="#561213"/>
<rect x="327" y="95" width="5" height="5" fill="#511112"/>
<rect x="331" y="95" width="5" height="5" fill="#521112"/>
<rect x="335" y="95" width="5" height="5" fill="#561213"/>
<rect x="339" y="95" width="5" height="5" fill="#501112"/>
<rect x="343" y="95" width="5" height="5" fill="#521112"/>
<rect x="347" y="95" width="5" height="5" fill="#541213"/>
<rect x="351" y="95" width="5" height="5" fill="#571213"/>
<rect x="355" y="95" width="5" height="5" fill="#501112"/>
<rect x="359" y="95" width="5" height="5" fill="#541213"/>
<rect x="363" y="95" width="5" height="5" fill="#4f1112"/>
<rect x="367" y="95" width="5" height="5" fill="#4e1112"/>
<rect x="371" y="95" width="5" height="5" fill="#521112"/>
<rect x="375" y="95" width="5" height="5" fill="#541213"/>
<rect x="379" y="95" width="5" height="5" fill="#541112"/>
<rect x="383" y="95" width="5" height="5" fill="#571213"/>
<rect x="295" y="99" width="5" height="5" fill="#511112"/>
<rect x="299" y="99" width="5" height="5" fill="#551213"/>
<rect x="303" y="99" width="5" height="5" fill="#551213"/>
<rect x="307" y="99" width="5" height="5" fill="#521112"/>
<rect x="311" y="99" width="5" height="5" fill="#5a1213"/>
<rect x="315" y="99" width="5" height="5" fill="#511112"/>
<rect x="319" y="99" width="5" height="5" fill="#531112"/>
<rect x="323" y="99" width="5" height="5" fill="#501112"/>
<rect x="327" y="99" width="5" height="5" fill="#571213"/>
<rect x="331" y="99" width="5" height="5" fill="#581213"/>
<rect x="335" y="99" width="5" height="5" fill="#531112"/>
<rect x="339" y="99" width="5" height="5" fill="#5b1213"/>
<rect x="343" y="99" width="5" height="5" fill="#571213"/>
<rect x="347" y="99" width="5" height="5" fill="#521112"/>
<rect x="351" y="99" width="5" height="5" fill="#5b1213"/>
<rect x="355" y="99" width="5" height="5" fill="#591213"/>
<rect x="359" y="99" width="5" height="5" fill="#531112"/>
<rect x="363" y="99" width="5" height="5" fill="#591213"/>
<rect x="367" y="99" width="5" height="5" fill="#511112"/>
<rect x="371" y="99" width="5" height="5" fill="#531112"/>
<rect x="375" y="99" width="5" height="5" fill="#541112"/>
<rect x="379" y="99" width="5" height="5" fill="#5a1213"/>
<rect x="383" y="99" width="5" height="5" fill="#521112"/>
<rect x="295" y="103" width="5" height="5" fill="#561213"/>
<rect x="299" y="103" width="5" height="5" fill="#551213"/>
<rect x="303" y="103" width="5" height="5" fill="#5c1314"/>
<rect x="307" y="103" width="5" height="5" fill="#551213"/>
<rect x="311" y="103" width="5" height="5" fill="#5d1314"/>
<rect x="315" y="103" width="5" height="5" fill="#571213"/>
<rect x="319" y="103" width="5" height="5" fill="#5a1213"/>
<rect x="323" y="103" width="5" height="5" fill="#5e1314"/>
<rect x="327" y="103" width="5" height="5" fill="#581213"/>
<rect x="331" y="103" width="5" height="5" fill="#5b1314"/>
<rect x="335" y="103" width="5" height="5" fill="#5d1314"/>
<rect x="339" y="103" width="5" height="5" fill="#5c1314"/>
<rect x="343" y="103" width="5" height="5" fill="#5a1213"/>
<rect x="347" y="103" width="5" height="5" fill="#5d1314"/>
<rect x="351" y="103" width="5" height="5" fill="#581213"/>
<rect x="355" y="103" width="5" height="5" fill="#561213"/>
<rect x="359" y="103" width="5" height="5" fill="#541112"/>
<rect x="363" y="103" width="5" height="5" fill="#5a1213"/>
<rect x="367" y="103" width="5" height="5" fill="#591213"/>
<rect x="371" y="103" width="5" height="5" fill="#5b1213"/>
<rect x="375" y="103" width="5" height="5" fill="#541112"/>
<rect x="379" y="103" width="5" height="5" fill="#591213"/>
<rect x="383" y="103" width="5" height="5" fill="#571213"/>
<rect x="295" y="107" width="5" height="5" fill="#5c1314"/>
<rect x="299" y="107" width="5" height="5" fill="#5f1314"/>
<rect x="303" y="107" width="5" height="5" fill="#5c1314"/>
<rect x="307" y="107" width="5" height="5" fill="#5c1314"/>
<rect x="311" y="107" width="5" height="5" fill="#5f1314"/>
<rect x="315" y="107" width="5" height="5" fill="#5b1213"/>
<rect x="319" y="107" width="5" height="5" fill="#641415"/>
<rect x="323" y="107" width="5" height="5" fill="#621314"/>
<rect x="327" y="107" width="5" height="5" fill="#5e1314"/>
<rect x="331" y="107" width="5" height="5" fill="#641415"/>
<rect x="335" y="107" width="5" height="5" fill="#691415"/>
<rect x="339" y="107" width="5" height="5" fill="#691415"/>
<rect x="343" y="107" width="5" height="5" fill="#631415"/>
<rect x="347" y="107" width="5" height="5" fill="#601314"/>
<rect x="351" y="107" width="5" height="5" fill="#671415"/>
<rect x="355" y="107" width="5" height="5" fill="#5e1314"/>
<rect x="359" y="107" width="5" height="5" fill="#5a1213"/>
<rect x="363" y="107" width="5" height="5" fill="#5b1314"/>
<rect x="367" y="107" width="5" height="5" fill="#5c1314"/>
<rect x="371" y="107" width="5" height="5" fill="#5b1314"/>
<rect x="375" y="107" width="5" height="5" fill="#541213"/>
<rect x="379" y="107" width="5" height="5" fill="#571213"/>
<rect x="383" y="107" width="5" height="5" fill="#5c1314"/>
<rect x="295" y="111" width="5" height="5" fill="#5e1314"/>
<rect x="299" y="111" width="5" height="5" fill="#5c1314"/>
<rect x="303" y="111" width="5" height="5" fill="#631415"/>
<rect x="307" y="111" width="5" height="5" fill="#611314"/>
<rect x="311" y="111" width="5" height="5" fill="#651415"/>
<rect x="315" y="111" width="5" height="5" fill="#661415"/>
<rect x="319" y="111" width="5" height="5" fill="#6e1516"/>
<rect x="323" y="111" width="5" height="5" fill="#711516"/>
<rect x="327" y="111" width="5" height="5" fill="#7a1617"/>
<rect x="331" y="111" width="5" height="5" fill="#781617"/>
<rect x="335" y="111" width="5" height="5" fill="#741617"/>
<rect x="339" y="111" width="5" height="5" fill="#701516"/>
<rect x="343" y="111" width="5" height="5" fill="#701516"/>
<rect x="347" y="111" width="5" height="5" fill="#6e1516"/>
<rect x="351" y="111" width="5" height="5" fill="#6a1415"/>
<rect x="355" y="111" width="5" height="5" fill="#711516"/>
<rect x="359" y="111" width="5" height="5" fill="#6c1516"/>
<rect x="363" y="111" width="5" height="5" fill="#671415"/>
<rect x="367" y="111" width="5" height="5" fill="#631415"/>
<rect x="371" y="111" width="5" height="5" fill="#581213"/>
<rect x="375" y="111" width="5" height="5" fill="#5d1314"/>
<rect x="379" y="111" width="5" height="5" fill="#581213"/>
<rect x="383" y="111" width="5" height="5" fill="#5d1314"/>
<rect x="295" y="115" width="5" height="5" fill="#5e1314"/>
<rect x="299" y="115" width="5" height="5" fill="#621314"/>
<rect x="303" y="115" width="5" height="5" fill="#651415"/>
<rect x="307" y="115" width="5" height="5" fill="#6a1516"/>
<rect x="311" y="115" width="5" height="5" fill="#6a1516"/>
<rect x="315" y="115" width="5" height="5" fill="#741617"/>
<rect x="319" y="115" width="5" height="5" fill="#7d1718"/>
<rect x="323" y="115" width="5" height="5" fill="#92191a"/>
<rect x="327" y="115" width="5" height="5" fill="#9c1a1b"/>
<rect x="331" y="115" width="5" height="5" fill="#95191a"/>
<rect x="335" y="115" width="5" height="5" fill="#841718"/>
<rect x="339" y="115" width="5" height="5" fill="#831718"/>
<rect x="343" y="115" width="5" height="5" fill="#791617"/>
<rect x="347" y="115" width="5" height="5" fill="#7f1718"/>
<rect x="351" y="115" width="5" height="5" fill="#801718"/>
<rect x="355" y="115" width="5" height="5" fill="#841718"/>
<rect x="359" y="115" width="5" height="5" fill="#721617"/>
<rect x="363" y="115" width="5" height="5" fill="#6f1516"/>
<rect x="367" y="115" width="5" height="5" fill="#5d1314"/>
<rect x="371" y="115" width="5" height="5" fill="#4f1112"/>
<rect x="375" y="115" width="5" height="5" fill="#561213"/>
<rect x="379" y="115" width="5" height="5" fill="#591213"/>
<rect x="383" y="115" width="5" height="5" fill="#4f1112"/>
<rect x="295" y="119" width="5" height="5" fill="#691415"/>
<rect x="299" y="119" width="5" height="5" fill="#671415"/>
<rect x="303" y="119" width="5" height="5" fill="#6b1516"/>
<rect x="307" y="119" width="5" height="5" fill="#681415"/>
<rect x="311" y="119" width="5" height="5" fill="#6c1516"/>
<rect x="315" y="119" width="5" height="5" fill="#7a1617"/>
<rect x="319" y="119" width="5" height="5" fill="#9c1a1b"/>
<rect x="323" y="119" width="5" height="5" fill="#b91c1d"/>
<rect x="327" y="119" width="5" height="5" fill="#cb1d1e"/>
<rect x="331" y="119" width="5" height="5" fill="#ba1c1d"/>
<rect x="335" y="119" width="5" height="5" fill="#a71b1c"/>
<rect x="339" y="119" width="5" height="5" fill="#98191a"/>
<rect x="343" y="119" width="5" height="5" fill="#8d1819"/>
<rect x="347" y="119" width="5" height="5" fill="#9d1a1b"/>
<rect x="351" y="119" width="5" height="5" fill="#aa1b1c"/>
<rect x="355" y="119" width="5" height="5" fill="#a61b1c"/>
<rect x="359" y="119" width="5" height="5" fill="#8b1819"/>
<rect x="363" y="119" width="5" height="5" fill="#781617"/>
<rect x="367" y="119" width="5" height="5" fill="#651415"/>
<rect x="371" y="119" width="5" height="5" fill="#551213"/>
<rect x="375" y="119" width="5" height="5" fill="#521112"/>
<rect x="379" y="119" width="5" height="5" fill="#551213"/>
<rect x="383" y="119" width="5" height="5" fill="#551213"/>
<rect x="295" y="123" width="5" height="5" fill="#781617"/>
<rect x="299" y="123" width="5" height="5" fill="#761617"/>
<rect x="303" y="123" width="5" height="5" fill="#701516"/>
<rect x="307" y="123" width="5" height="5" fill="#741617"/>
<rect x="311" y="123" width="5" height="5" fill="#7d1718"/>
<rect x="315" y="123" width="5" height="5" fill="#8b1819"/>
<rect x="319" y="123" width="5" height="5" fill="#ac1b1c"/>
<rect x="323" y="123" width="5" height="5" fill="#cb1d1e"/>
<rect x="327" y="123" width="5" height="5" fill="#e21d1e"/>
<rect x="331" y="123" width="5" height="5" fill="#d41d1e"/>
<rect x="335" y="123" width="5" height="5" fill="#b71c1d"/>
<rect x="339" y="123" width="5" height="5" fill="#a81b1c"/>
<rect x="343" y="123" width="5" height="5" fill="#a41a1b"/>
<rect x="347" y="123" width="5" height="5" fill="#bb1c1d"/>
<rect x="351" y="123" width="5" height="5" fill="#c71c1d"/>
<rect x="355" y="123" width="5" height="5" fill="#ca1d1e"/>
<rect x="359" y="123" width="5" height="5" fill="#a51a1b"/>
<rect x="363" y="123" width="5" height="5" fill="#861819"/>
<rect x="367" y="123" width="5" height="5" fill="#701516"/>
<rect x="371" y="123" width="5" height="5" fill="#641415"/>
<rect x="375" y="123" width="5" height="5" fill="#661415"/>
<rect x="379" y="123" width="5" height="5" fill="#611314"/>
<rect x="383" y="123" width="5" height="5" fill="#651415"/>
<rect x="295" y="127" width="5" height="5" fill="#691415"/>
<rect x="299" y="127" width="5" height="5" fill="#641415"/>
<rect x="303" y="127" width="5" height="5" fill="#6f1516"/>
<rect x="307" y="127" width="5" height="5" fill="#6c1516"/>
<rect x="311" y="127" width="5" height="5" fill="#741617"/>
<rect x="315" y="127" width="5" height="5" fill="#811718"/>
<rect x="319" y="127" width="5" height="5" fill="#96191a"/>
<rect x="323" y="127" width="5" height="5" fill="#ad1b1c"/>
<rect x="327" y="127" width="5" height="5" fill="#b61c1d"/>
<rect x="331" y="127" width="5" height="5" fill="#b61c1d"/>
<rect x="335" y="127" width="5" height="5" fill="#9f1a1b"/>
<rect x="339" y="127" width="5" height="5" fill="#9a1a1b"/>
<rect x="343" y="127" width="5" height="5" fill="#9a1a1b"/>
<rect x="347" y="127" width="5" height="5" fill="#b11b1c"/>
<rect x="351" y="127" width="5" height="5" fill="#c61c1d"/>
<rect x="355" y="127" width="5" height="5" fill="#bf1c1d"/>
<rect x="359" y="127" width="5" height="5" fill="#9e1a1b"/>
<rect x="363" y="127" width="5" height="5" fill="#7c1718"/>
<rect x="367" y="127" width="5" height="5" fill="#6e1516"/>
<rect x="371" y="127" width="5" height="5" fill="#5e1314"/>
<rect x="375" y="127" width="5" height="5" fill="#601314"/>
<rect x="379" y="127" width="5" height="5" fill="#5e1314"/>
<rect x="383" y="127" width="5" height="5" fill="#641415"/>
<rect x="295" y="131" width="5" height="5" fill="#601314"/>
<rect x="299" y="131" width="5" height="5" fill="#691415"/>
<rect x="303" y="131" width="5" height="5" fill="#671415"/>
<rect x="307" y="131" width="5" height="5" fill="#691415"/>
<rect x="311" y="131" width="5" height="5" fill="#691415"/>
<rect x="315" y="131" width="5" height="5" fill="#731617"/>
<rect x="319" y="131" width="5" height="5" fill="#7d1718"/>
<rect x="323" y="131" width="5" height="5" fill="#831718"/>
<rect x="327" y="131" width="5" height="5" fill="#94191a"/>
<rect x="331" y="131" width="5" height="5" fill="#8e1819"/>
<rect x="335" y="131" width="5" height="5" fill="#8c1819"/>
<rect x="339" y="131" width="5" height="5" fill="#881819"/>
<rect x="343" y="131" width="5" height="5" fill="#8b1819"/>
<rect x="347" y="131" width="5" height="5" fill="#95191a"/>
<rect x="351" y="131" width="5" height="5" fill="#aa1b1c"/>
<rect x="355" y="131" width="5" height="5" fill="#9c1a1b"/>
<rect x="359" y="131" width="5" height="5" fill="#871819"/>
<rect x="363" y="131" width="5" height="5" fill="#761617"/>
<rect x="367" y="131" width="5" height="5" fill="#6a1516"/>
<rect x="371" y="131" width="5" height="5" fill="#621314"/>
<rect x="375" y="131" width="5" height="5" fill="#621415"/>
<rect x="379" y="131" width="5" height="5" fill="#5e1314"/>
<rect x="383" y="131" width="5" height="5" fill="#601314"/>
<rect x="295" y="135" width="5" height="5" fill="#601314"/>
<rect x="299" y="135" width="5" height="5" fill="#641415"/>
<rect x="303" y="135" width="5" height="5" fill="#611314"/>
<rect x="307" y="135" width="5" height="5" fill="#641415"/>
<rect x="311" y="135" width="5" height="5" fill="#6c1516"/>
<rect x="315" y="135" width="5" height="5" fill="#6a1516"/>
<rect x="319" y="135" width="5" height="5" fill="#701516"/>
<rect x="323" y="135" width="5" height="5" fill="#701516"/>
<rect x="327" y="135" width="5" height="5" fill="#791617"/>
<rect x="331" y="135" width="5" height="5" fill="#7a1617"/>
<rect x="335" y="135" width="5" height="5" fill="#7d1718"/>
<rect x="339" y="135" width="5" height="5" fill="#801718"/>
<rect x="343" y="135" width="5" height="5" fill="#7f1718"/>
<rect x="347" y="135" width="5" height="5" fill="#861819"/>
<rect x="351" y="135" width="5" height="5" fill="#811718"/>
<rect x="355" y="135" width="5" height="5" fill="#861819"/>
<rect x="359" y="135" width="5" height="5" fill="#741617"/>
<rect x="363" y="135" width="5" height="5" fill="#691415"/>
<rect x="367" y="135" width="5" height="5" fill="#651415"/>
<rect x="371" y="135" width="5" height="5" fill="#671415"/>
<rect x="375" y="135" width="5" height="5" fill="#661415"/>
<rect x="379" y="135" width="5" height="5" fill="#641415"/>
<rect x="383" y="135" width="5" height="5" fill="#5f1314"/>
<rect x="295" y="139" width="5" height="5" fill="#581213"/>
<rect x="299" y="139" width="5" height="5" fill="#591213"/>
<rect x="303" y="139" width="5" height="5" fill="#601314"/>
<rect x="307" y="139" width="5" height="5" fill="#641415"/>
<rect x="311" y="139" width="5" height="5" fill="#641415"/>
<rect x="315" y="139" width="5" height="5" fill="#641415"/>
<rect x="319" y="139" width="5" height="5" fill="#6c1516"/>
<rect x="323" y="139" width="5" height="5" fill="#651415"/>
<rect x="327" y="139" width="5" height="5" fill="#641415"/>
<rect x="331" y="139" width="5" height="5" fill="#6b1516"/>
<rect x="335" y="139" width="5" height="5" fill="#681415"/>
<rect x="339" y="139" width="5" height="5" fill="#701516"/>
<rect x="343" y="139" width="5" height="5" fill="#6d1516"/>
<rect x="347" y="139" width="5" height="5" fill="#6e1516"/>
<rect x="351" y="139" width="5" height="5" fill="#721516"/>
<rect x="355" y="139" width="5" height="5" fill="#661415"/>
<rect x="359" y="139" width="5" height="5" fill="#631415"/>
<rect x="363" y="139" width="5" height="5" fill="#651415"/>
<rect x="367" y="139" width="5" height="5" fill="#611314"/>
<rect x="371" y="139" width="5" height="5" fill="#5d1314"/>
<rect x="375" y="139" width="5" height="5" fill="#5b1314"/>
<rect x="379" y="139" width="5" height="5" fill="#5e1314"/>
<rect x="383" y="139" width="5" height="5" fill="#621314"/>
<rect x="295" y="143" width="5" height="5" fill="#5e1314"/>
<rect x="299" y="143" width="5" height="5" fill="#5d1314"/>
<rect x="303" y="143" width="5" height="5" fill="#5f1314"/>
<rect x="307" y="143" width="5" height="5" fill="#5b1314"/>
<rect x="311" y="143" width="5" height="5" fill="#671415"/>
<rect x="315" y="143" width="5" height="5" fill="#6d1516"/>
<rect x="319" y="143" width="5" height="5" fill="#5d1314"/>
<rect x="323" y="143" width="5" height="5" fill="#5e1314"/>
<rect x="327" y="143" width="5" height="5" fill="#5f1314"/>
<rect x="331" y="143" width="5" height="5" fill="#661415"/>
<rect x="335" y="143" width="5" height="5" fill="#601314"/>
<rect x="339" y="143" width="5" height="5" fill="#5d1314"/>
<rect x="343" y="143" width="5" height="5" fill="#5e1314"/>
<rect x="347" y="143" width="5" height="5" fill="#651415"/>
<rect x="351" y="143" width="5" height="5" fill="#631415"/>
<rect x="355" y="143" width="5" height="5" fill="#5a1213"/>
<rect x="359" y="143" width="5" height="5" fill="#621314"/>
<rect x="363" y="143" width="5" height="5" fill="#5a1213"/>
<rect x="367" y="143" width="5" height="5" fill="#5d1314"/>
<rect x="371" y="143" width="5" height="5" fill="#5a1213"/>
<rect x="375" y="143" width="5" height="5" fill="#5d1314"/>
<rect x="379" y="143" width="5" height="5" fill="#591213"/>
<rect x="383" y="143" width="5" height="5" fill="#531112"/>
<rect x="295" y="147" width="5" height="5" fill="#561213"/>
<rect x="299" y="147" width="5" height="5" fill="#591213"/>
<rect x="303" y="147" width="5" height="5" fill="#551213"/>
<rect x="307" y="147" width="5" height="5" fill="#621314"/>
<rect x="311" y="147" width="5" height="5" fill="#6e1516"/>
<rect x="315" y="147" width="5" height="5" fill="#681415"/>
<rect x="319" y="147" width="5" height="5" fill="#5a1213"/>
<rect x="323" y="147" width="5" height="5" fill="#551213"/>
<rect x="327" y="147" width="5" height="5" fill="#581213"/>
<rect x="331" y="147" width="5" height="5" fill="#5e1314"/>
<rect x="335" y="147" width="5" height="5" fill="#5a1213"/>
<rect x="339" y="147" width="5" height="5" fill="#5c1314"/>
<rect x="343" y="147" width="5" height="5" fill="#551213"/>
<rect x="347" y="147" width="5" height="5" fill="#571213"/>
<rect x="351" y="147" width="5" height="5" fill="#591213"/>
<rect x="355" y="147" width="5" height="5" fill="#561213"/>
<rect x="359" y="147" width="5" height="5" fill="#511112"/>
<rect x="363" y="147" width="5" height="5" fill="#5a1213"/>
<rect x="367" y="147" width="5" height="5" fill="#521112"/>
<rect x="371" y="147" width="5" height="5" fill="#571213"/>
<rect x="375" y="147" width="5" height="5" fill="#5b1213"/>
<rect x="379" y="147" width="5" height="5" fill="#531112"/>
<rect x="383" y="147" width="5" height="5" fill="#531112"/>
<rect x="295" y="151" width="5" height="5" fill="#511112"/>
<rect x="299" y="151" width="5" height="5" fill="#531112"/>
<rect x="303" y="151" width="5" height="5" fill="#591213"/>
<rect x="307" y="151" width="5" height="5" fill="#571213"/>
<rect x="311" y="151" width="5" height="5" fill="#681415"/>
<rect x="315" y="151" width="5" height="5" fill="#6b1516"/>
<rect x="319" y="151" width="5" height="5" fill="#551213"/>
<rect x="323" y="151" width="5" height="5" fill="#561213"/>
<rect x="327" y="151" width="5" height="5" fill="#561213"/>
<rect x="331" y="151" width="5" height="5" fill="#4e1112"/>
<rect x="335" y="151" width="5" height="5" fill="#4f1112"/>
<rect x="339" y="151" width="5" height="5" fill="#571213"/>
<rect x="343" y="151" width="5" height="5" fill="#591213"/>
<rect x="347" y="151" width="5" height="5" fill="#561213"/>
<rect x="351" y="151" width="5" height="5" fill="#531112"/>
<rect x="355" y="151" width="5" height="5" fill="#4f1112"/>
<rect x="359" y="151" width="5" height="5" fill="#531112"/>
<rect x="363" y="151" width="5" height="5" fill="#4f1112"/>
<rect x="367" y="151" width="5" height="5" fill="#511112"/>
<rect x="371" y="151" width="5" height="5" fill="#4d1112"/>
<rect x="375" y="151" width="5" height="5" fill="#531112"/>
<rect x="379" y="151" width="5" height="5" fill="#521112"/>
<rect x="383" y="151" width="5" height="5" fill="#501112"/>
<rect x="295" y="155" width="5" height="5" fill="#4e1112"/>
<rect x="299" y="155" width="5" height="5" fill="#4c1011"/>
<rect x="303" y="155" width="5" height="5" fill="#4c1011"/>
<rect x="307" y="155" width="5" height="5" fill="#521112"/>
<rect x="311" y="155" width="5" height="5" fill="#681415"/>
<rect x="315" y="155" width="5" height="5" fill="#591213"/>
<rect x="319" y="155" width="5" height="5" fill="#561213"/>
<rect x="323" y="155" width="5" height="5" fill="#511112"/>
<rect x="327" y="155" width="5" height="5" fill="#521112"/>
<rect x="331" y="155" width="5" height="5" fill="#4f1112"/>
<rect x="335" y="155" width="5" height="5" fill="#571213"/>
<rect x="339" y="155" width="5" height="5" fill="#551213"/>
<rect x="343" y="155" width="5" height="5" fill="#501112"/>
<rect x="347" y="155" width="5" height="5" fill="#501112"/>
<rect x="351" y="155" width="5" height="5" fill="#561213"/>
<rect x="355" y="155" width="5" height="5" fill="#4d1011"/>
<rect x="359" y="155" width="5" height="5" fill="#551213"/>
<rect x="363" y="155" width="5" height="5" fill="#521112"/>
<rect x="367" y="155" width="5" height="5" fill="#521112"/>
<rect x="371" y="155" width="5" height="5" fill="#511112"/>
<rect x="375" y="155" width="5" height="5" fill="#521112"/>
<rect x="379" y="155" width="5" height="5" fill="#4c1011"/>
<rect x="383" y="155" width="5" height="5" fill="#4e1112"/>
<rect x="295" y="159" width="5" height="5" fill="#4e1112"/>
<rect x="299" y="159" width="5" height="5" fill="#4c1011"/>
<rect x="303" y="159" width="5" height="5" fill="#4b1011"/>
<rect x="307" y="159" width="5" height="5" fill="#551213"/>
<rect x="311" y="159" width="5" height="5" fill="#581213"/>
<rect x="315" y="159" width="5" height="5" fill="#591213"/>
<rect x="319" y="159" width="5" height="5" fill="#501112"/>
<rect x="323" y="159" width="5" height="5" fill="#551213"/>
<rect x="327" y="159" width="5" height="5" fill="#4d1011"/>
<rect x="331" y="159" width="5" height="5" fill="#501112"/>
<rect x="335" y="159" width="5" height="5" fill="#4f1112"/>
<rect x="339" y="159" width="5" height="5" fill="#531112"/>
<rect x="343" y="159" width="5" height="5" fill="#4b1011"/>
<rect x="347" y="159" width="5" height="5" fill="#501112"/>
<rect x="351" y="159" width="5" height="5" fill="#4f1112"/>
<rect x="355" y="159" width="5" height="5" fill="#511112"/>
<rect x="359" y="159" width="5" height="5" fill="#4c1011"/>
<rect x="363" y="159" width="5" height="5" fill="#501112"/>
<rect x="367" y="159" width="5" height="5" fill="#551213"/>
<rect x="371" y="159" width="5" height="5" fill="#4b1011"/>
<rect x="375" y="159" width="5" height="5" fill="#551213"/>
<rect x="379" y="159" width="5" height="5" fill="#551213"/>
<rect x="383" y="159" width="5" height="5" fill="#4f1112"/>
<rect x="295" y="163" width="5" height="5" fill="#4a1011"/>
<rect x="299" y="163" width="5" height="5" fill="#4f1112"/>
<rect x="303" y="163" width="5" height="5" fill="#541213"/>
<rect x="307" y="163" width="5" height="5" fill="#4a1011"/>
<rect x="311" y="163" width="5" height="5" fill="#551213"/>
<rect x="315" y="163" width="5" height="5" fill="#551213"/>
<rect x="319" y="163" width="5" height="5" fill="#4b1011"/>
<rect x="323" y="163" width="5" height="5" fill="#501112"/>
<rect x="327" y="163" width="5" height="5" fill="#4b1011"/>
<rect x="331" y="163" width="5" height="5" fill="#4a1011"/>
<rect x="335" y="163" width="5" height="5" fill="#4f1112"/>
<rect x="339" y="163" width="5" height="5" fill="#4c1011"/>
<rect x="343" y="163" width="5" height="5" fill="#511112"/>
<rect x="347" y="163" width="5" height="5" fill="#4f1112"/>
<rect x="351" y="163" width="5" height="5" fill="#4c1011"/>
<rect x="355" y="163" width="5" height="5" fill="#531112"/>
<rect x="359" y="163" width="5" height="5" fill="#491011"/>
<rect x="363" y="163" width="5" height="5" fill="#521112"/>
<rect x="367" y="163" width="5" height="5" fill="#4c1011"/>
<rect x="371" y="163" width="5" height="5" fill="#531112"/>
<rect x="375" y="163" width="5" height="5" fill="#501112"/>
<rect x="379" y="163" width="5" height="5" fill="#4e1112"/>
<rect x="383" y="163" width="5" height="5" fill="#4b1011"/>
<rect x="295" y="167" width="5" height="5" fill="#531112"/>
<rect x="299" y="167" width="5" height="5" fill="#531112"/>
<rect x="303" y="167" width="5" height="5" fill="#541213"/>
<rect x="307" y="167" width="5" height="5" fill="#511112"/>
<rect x="311" y="167" width="5" height="5" fill="#571213"/>
<rect x="315" y="167" width="5" height="5" fill="#561213"/>
<rect x="319" y="167" width="5" height="5" fill="#511112"/>
<rect x="323" y="167" width="5" height="5" fill="#4d1011"/>
<rect x="327" y="167" width="5" height="5" fill="#501112"/>
<rect x="331" y="167" width="5" height="5" fill="#4d1011"/>
<rect x="335" y="167" width="5" height="5" fill="#521112"/>
<rect x="339" y="167" width="5" height="5" fill="#4f1112"/>
<rect x="343" y="167" width="5" height="5" fill="#531112"/>
<rect x="347" y="167" width="5" height="5" fill="#531112"/>
<rect x="351" y="167" width="5" height="5" fill="#521112"/>
<rect x="355" y="167" width="5" height="5" fill="#4b1011"/>
<rect x="359" y="167" width="5" height="5" fill="#4d1011"/>
<rect x="363" y="167" width="5" height="5" fill="#4a1011"/>
<rect x="367" y="167" width="5" height="5" fill="#4d1011"/>
<rect x="371" y="167" width="5" height="5" fill="#4b1011"/>
<rect x="375" y="167" width="5" height="5" fill="#4c1011"/>
<rect x="379" y="167" width="5" height="5" fill="#521112"/>
<rect x="383" y="167" width="5" height="5" fill="#4a1011"/>
<rect x="295" y="171" width="5" height="5" fill="#531112"/>
<rect x="299" y="171" width="5" height="5" fill="#531112"/>
<rect x="303" y="171" width="5" height="5" fill="#521112"/>
<rect x="307" y="171" width="5" height="5" fill="#4d1011"/>
<rect x="311" y="171" width="5" height="5" fill="#501112"/>
<rect x="315" y="171" width="5" height="5" fill="#511112"/>
<rect x="319" y="171" width="5" height="5" fill="#511112"/>
<rect x="323" y="171" width="5" height="5" fill="#541112"/>
<rect x="327" y="171" width="5" height="5" fill="#491011"/>
<rect x="331" y="171" width="5" height="5" fill="#4a1011"/>
<rect x="335" y="171" width="5" height="5" fill="#521112"/>
<rect x="339" y="171" width="5" height="5" fill="#491011"/>
<rect x="343" y="171" width="5" height="5" fill="#531112"/>
<rect x="347" y="171" width="5" height="5" fill="#4b1011"/>
<rect x="351" y="171" width="5" height="5" fill="#541213"/>
<rect x="355" y="171" width="5" height="5" fill="#4e1112"/>
<rect x="359" y="171" width="5" height="5" fill="#501112"/>
<rect x="363" y="171" width="5" height="5" fill="#521112"/>
<rect x="367" y="171" width="5" height="5" fill="#521112"/>
<rect x="371" y="171" width="5" height="5" fill="#4e1112"/>
<rect x="375" y="171" width="5" height="5" fill="#4e1112"/>
<rect x="379" y="171" width="5" height="5" fill="#521112"/>
<rect x="383" y="171" width="5" height="5" fill="#4c1011"/>
</g></g>
<text class="wt" transform="translate(307.0 106.0) scale(0.9 1)" font-size="12.5" text-anchor="middle" fill="#f6f0f0" >d)</text>
<rect x="338.6" y="158" width="32.6" height="3" fill="#f2ecec"/>
<clipPath id="ce"><rect x="383" y="90.8" width="74.7" height="75"/></clipPath>
<g clip-path="url(#ce)"><g filter="url(#hblur)">
<rect x="379" y="87" width="5" height="5" fill="#6f1516"/>
<rect x="383" y="87" width="5" height="5" fill="#761617"/>
<rect x="387" y="87" width="5" height="5" fill="#771617"/>
<rect x="391" y="87" width="5" height="5" fill="#781617"/>
<rect x="395" y="87" width="5" height="5" fill="#721516"/>
<rect x="399" y="87" width="5" height="5" fill="#711516"/>
<rect x="403" y="87" width="5" height="5" fill="#6c1516"/>
<rect x="407" y="87" width="5" height="5" fill="#721617"/>
<rect x="411" y="87" width="5" height="5" fill="#681415"/>
<rect x="415" y="87" width="5" height="5" fill="#681415"/>
<rect x="419" y="87" width="5" height="5" fill="#661415"/>
<rect x="423" y="87" width="5" height="5" fill="#6a1516"/>
<rect x="427" y="87" width="5" height="5" fill="#711516"/>
<rect x="431" y="87" width="5" height="5" fill="#661415"/>
<rect x="435" y="87" width="5" height="5" fill="#691415"/>
<rect x="439" y="87" width="5" height="5" fill="#6a1415"/>
<rect x="443" y="87" width="5" height="5" fill="#6e1516"/>
<rect x="447" y="87" width="5" height="5" fill="#6a1415"/>
<rect x="451" y="87" width="5" height="5" fill="#671415"/>
<rect x="455" y="87" width="5" height="5" fill="#6d1516"/>
<rect x="459" y="87" width="5" height="5" fill="#6f1516"/>
<rect x="463" y="87" width="5" height="5" fill="#671415"/>
<rect x="379" y="91" width="5" height="5" fill="#6d1516"/>
<rect x="383" y="91" width="5" height="5" fill="#721516"/>
<rect x="387" y="91" width="5" height="5" fill="#791617"/>
<rect x="391" y="91" width="5" height="5" fill="#701516"/>
<rect x="395" y="91" width="5" height="5" fill="#701516"/>
<rect x="399" y="91" width="5" height="5" fill="#751617"/>
<rect x="403" y="91" width="5" height="5" fill="#741617"/>
<rect x="407" y="91" width="5" height="5" fill="#6e1516"/>
<rect x="411" y="91" width="5" height="5" fill="#681415"/>
<rect x="415" y="91" width="5" height="5" fill="#6c1516"/>
<rect x="419" y="91" width="5" height="5" fill="#661415"/>
<rect x="423" y="91" width="5" height="5" fill="#661415"/>
<rect x="427" y="91" width="5" height="5" fill="#661415"/>
<rect x="431" y="91" width="5" height="5" fill="#701516"/>
<rect x="435" y="91" width="5" height="5" fill="#681415"/>
<rect x="439" y="91" width="5" height="5" fill="#6c1516"/>
<rect x="443" y="91" width="5" height="5" fill="#701516"/>
<rect x="447" y="91" width="5" height="5" fill="#681415"/>
<rect x="451" y="91" width="5" height="5" fill="#691415"/>
<rect x="455" y="91" width="5" height="5" fill="#6e1516"/>
<rect x="459" y="91" width="5" height="5" fill="#6b1516"/>
<rect x="463" y="91" width="5" height="5" fill="#671415"/>
<rect x="379" y="95" width="5" height="5" fill="#731617"/>
<rect x="383" y="95" width="5" height="5" fill="#781617"/>
<rect x="387" y="95" width="5" height="5" fill="#771617"/>
<rect x="391" y="95" width="5" height="5" fill="#771617"/>
<rect x="395" y="95" width="5" height="5" fill="#6b1516"/>
<rect x="399" y="95" width="5" height="5" fill="#681415"/>
<rect x="403" y="95" width="5" height="5" fill="#6b1516"/>
<rect x="407" y="95" width="5" height="5" fill="#641415"/>
<rect x="411" y="95" width="5" height="5" fill="#6d1516"/>
<rect x="415" y="95" width="5" height="5" fill="#661415"/>
<rect x="419" y="95" width="5" height="5" fill="#681415"/>
<rect x="423" y="95" width="5" height="5" fill="#6c1516"/>
<rect x="427" y="95" width="5" height="5" fill="#681415"/>
<rect x="431" y="95" width="5" height="5" fill="#6d1516"/>
<rect x="435" y="95" width="5" height="5" fill="#681415"/>
<rect x="439" y="95" width="5" height="5" fill="#6c1516"/>
<rect x="443" y="95" width="5" height="5" fill="#6e1516"/>
<rect x="447" y="95" width="5" height="5" fill="#671415"/>
<rect x="451" y="95" width="5" height="5" fill="#621314"/>
<rect x="455" y="95" width="5" height="5" fill="#6b1516"/>
<rect x="459" y="95" width="5" height="5" fill="#651415"/>
<rect x="463" y="95" width="5" height="5" fill="#6b1516"/>
<rect x="379" y="99" width="5" height="5" fill="#681415"/>
<rect x="383" y="99" width="5" height="5" fill="#6e1516"/>
<rect x="387" y="99" width="5" height="5" fill="#611314"/>
<rect x="391" y="99" width="5" height="5" fill="#621314"/>
<rect x="395" y="99" width="5" height="5" fill="#5f1314"/>
<rect x="399" y="99" width="5" height="5" fill="#581213"/>
<rect x="403" y="99" width="5" height="5" fill="#531112"/>
<rect x="407" y="99" width="5" height="5" fill="#5b1213"/>
<rect x="411" y="99" width="5" height="5" fill="#5d1314"/>
<rect x="415" y="99" width="5" height="5" fill="#5f1314"/>
<rect x="419" y="99" width="5" height="5" fill="#5b1213"/>
<rect x="423" y="99" width="5" height="5" fill="#5c1314"/>
<rect x="427" y="99" width="5" height="5" fill="#641415"/>
<rect x="431" y="99" width="5" height="5" fill="#611314"/>
<rect x="435" y="99" width="5" height="5" fill="#621314"/>
<rect x="439" y="99" width="5" height="5" fill="#671415"/>
<rect x="443" y="99" width="5" height="5" fill="#671415"/>
<rect x="447" y="99" width="5" height="5" fill="#581213"/>
<rect x="451" y="99" width="5" height="5" fill="#5c1314"/>
<rect x="455" y="99" width="5" height="5" fill="#611314"/>
<rect x="459" y="99" width="5" height="5" fill="#611314"/>
<rect x="463" y="99" width="5" height="5" fill="#571213"/>
<rect x="379" y="103" width="5" height="5" fill="#5b1314"/>
<rect x="383" y="103" width="5" height="5" fill="#631415"/>
<rect x="387" y="103" width="5" height="5" fill="#581213"/>
<rect x="391" y="103" width="5" height="5" fill="#440f10"/>
<rect x="395" y="103" width="5" height="5" fill="#3b0e0f"/>
<rect x="399" y="103" width="5" height="5" fill="#3c0e0f"/>
<rect x="403" y="103" width="5" height="5" fill="#340c0d"/>
<rect x="407" y="103" width="5" height="5" fill="#370d0e"/>
<rect x="411" y="103" width="5" height="5" fill="#3d0e0f"/>
<rect x="415" y="103" width="5" height="5" fill="#471011"/>
<rect x="419" y="103" width="5" height="5" fill="#4a1011"/>
<rect x="423" y="103" width="5" height="5" fill="#531112"/>
<rect x="427" y="103" width="5" height="5" fill="#4e1112"/>
<rect x="431" y="103" width="5" height="5" fill="#591213"/>
<rect x="435" y="103" width="5" height="5" fill="#5a1213"/>
<rect x="439" y="103" width="5" height="5" fill="#541213"/>
<rect x="443" y="103" width="5" height="5" fill="#501112"/>
<rect x="447" y="103" width="5" height="5" fill="#491011"/>
<rect x="451" y="103" width="5" height="5" fill="#410f10"/>
<rect x="455" y="103" width="5" height="5" fill="#521112"/>
<rect x="459" y="103" width="5" height="5" fill="#4c1011"/>
<rect x="463" y="103" width="5" height="5" fill="#4d1112"/>
<rect x="379" y="107" width="5" height="5" fill="#5c1314"/>
<rect x="383" y="107" width="5" height="5" fill="#4f1112"/>
<rect x="387" y="107" width="5" height="5" fill="#440f10"/>
<rect x="391" y="107" width="5" height="5" fill="#330c0d"/>
<rect x="395" y="107" width="5" height="5" fill="#310c0d"/>
<rect x="399" y="107" width="5" height="5" fill="#260a0b"/>
<rect x="403" y="107" width="5" height="5" fill="#2a0b0c"/>
<rect x="407" y="107" width="5" height="5" fill="#2c0b0c"/>
<rect x="411" y="107" width="5" height="5" fill="#330c0d"/>
<rect x="415" y="107" width="5" height="5" fill="#2e0b0c"/>
<rect x="419" y="107" width="5" height="5" fill="#340d0e"/>
<rect x="423" y="107" width="5" height="5" fill="#3b0e0f"/>
<rect x="427" y="107" width="5" height="5" fill="#390d0e"/>
<rect x="431" y="107" width="5" height="5" fill="#390d0e"/>
<rect x="435" y="107" width="5" height="5" fill="#400e0f"/>
<rect x="439" y="107" width="5" height="5" fill="#410f10"/>
<rect x="443" y="107" width="5" height="5" fill="#390d0e"/>
<rect x="447" y="107" width="5" height="5" fill="#350d0e"/>
<rect x="451" y="107" width="5" height="5" fill="#340c0d"/>
<rect x="455" y="107" width="5" height="5" fill="#420f10"/>
<rect x="459" y="107" width="5" height="5" fill="#470f10"/>
<rect x="463" y="107" width="5" height="5" fill="#410f10"/>
<rect x="379" y="111" width="5" height="5" fill="#5d1314"/>
<rect x="383" y="111" width="5" height="5" fill="#521112"/>
<rect x="387" y="111" width="5" height="5" fill="#440f10"/>
<rect x="391" y="111" width="5" height="5" fill="#390d0e"/>
<rect x="395" y="111" width="5" height="5" fill="#320c0d"/>
<rect x="399" y="111" width="5" height="5" fill="#2b0b0c"/>
<rect x="403" y="111" width="5" height="5" fill="#240a0b"/>
<rect x="407" y="111" width="5" height="5" fill="#240a0b"/>
<rect x="411" y="111" width="5" height="5" fill="#21090a"/>
<rect x="415" y="111" width="5" height="5" fill="#260a0b"/>
<rect x="419" y="111" width="5" height="5" fill="#2a0b0c"/>
<rect x="423" y="111" width="5" height="5" fill="#23090a"/>
<rect x="427" y="111" width="5" height="5" fill="#250a0b"/>
<rect x="431" y="111" width="5" height="5" fill="#240a0b"/>
<rect x="435" y="111" width="5" height="5" fill="#2a0b0c"/>
<rect x="439" y="111" width="5" height="5" fill="#2b0b0c"/>
<rect x="443" y="111" width="5" height="5" fill="#310c0d"/>
<rect x="447" y="111" width="5" height="5" fill="#2e0b0c"/>
<rect x="451" y="111" width="5" height="5" fill="#380d0e"/>
<rect x="455" y="111" width="5" height="5" fill="#3c0e0f"/>
<rect x="459" y="111" width="5" height="5" fill="#3f0e0f"/>
<rect x="463" y="111" width="5" height="5" fill="#420f10"/>
<rect x="379" y="115" width="5" height="5" fill="#561213"/>
<rect x="383" y="115" width="5" height="5" fill="#581213"/>
<rect x="387" y="115" width="5" height="5" fill="#491011"/>
<rect x="391" y="115" width="5" height="5" fill="#360d0e"/>
<rect x="395" y="115" width="5" height="5" fill="#310c0d"/>
<rect x="399" y="115" width="5" height="5" fill="#320c0d"/>
<rect x="403" y="115" width="5" height="5" fill="#260a0b"/>
<rect x="407" y="115" width="5" height="5" fill="#270a0b"/>
<rect x="411" y="115" width="5" height="5" fill="#22090a"/>
<rect x="415" y="115" width="5" height="5" fill="#20090a"/>
<rect x="419" y="115" width="5" height="5" fill="#240a0b"/>
<rect x="423" y="115" width="5" height="5" fill="#1e0809"/>
<rect x="427" y="115" width="5" height="5" fill="#240a0b"/>
<rect x="431" y="115" width="5" height="5" fill="#250a0b"/>
<rect x="435" y="115" width="5" height="5" fill="#22090a"/>
<rect x="439" y="115" width="5" height="5" fill="#1e0809"/>
<rect x="443" y="115" width="5" height="5" fill="#22090a"/>
<rect x="447" y="115" width="5" height="5" fill="#2d0b0c"/>
<rect x="451" y="115" width="5" height="5" fill="#2f0c0d"/>
<rect x="455" y="115" width="5" height="5" fill="#420f10"/>
<rect x="459" y="115" width="5" height="5" fill="#3d0e0f"/>
<rect x="463" y="115" width="5" height="5" fill="#430f10"/>
<rect x="379" y="119" width="5" height="5" fill="#5f1314"/>
<rect x="383" y="119" width="5" height="5" fill="#5e1314"/>
<rect x="387" y="119" width="5" height="5" fill="#4b1011"/>
<rect x="391" y="119" width="5" height="5" fill="#3b0e0f"/>
<rect x="395" y="119" width="5" height="5" fill="#400e0f"/>
<rect x="399" y="119" width="5" height="5" fill="#390d0e"/>
<rect x="403" y="119" width="5" height="5" fill="#360d0e"/>
<rect x="407" y="119" width="5" height="5" fill="#2a0b0c"/>
<rect x="411" y="119" width="5" height="5" fill="#23090a"/>
<rect x="415" y="119" width="5" height="5" fill="#20090a"/>
<rect x="419" y="119" width="5" height="5" fill="#20090a"/>
<rect x="423" y="119" width="5" height="5" fill="#21090a"/>
<rect x="427" y="119" width="5" height="5" fill="#21090a"/>
<rect x="431" y="119" width="5" height="5" fill="#250a0b"/>
<rect x="435" y="119" width="5" height="5" fill="#21090a"/>
<rect x="439" y="119" width="5" height="5" fill="#1d0809"/>
<rect x="443" y="119" width="5" height="5" fill="#250a0b"/>
<rect x="447" y="119" width="5" height="5" fill="#290a0b"/>
<rect x="451" y="119" width="5" height="5" fill="#2f0c0d"/>
<rect x="455" y="119" width="5" height="5" fill="#430f10"/>
<rect x="459" y="119" width="5" height="5" fill="#481011"/>
<rect x="463" y="119" width="5" height="5" fill="#450f10"/>
<rect x="379" y="123" width="5" height="5" fill="#581213"/>
<rect x="383" y="123" width="5" height="5" fill="#5d1314"/>
<rect x="387" y="123" width="5" height="5" fill="#4a1011"/>
<rect x="391" y="123" width="5" height="5" fill="#3c0e0f"/>
<rect x="395" y="123" width="5" height="5" fill="#420f10"/>
<rect x="399" y="123" width="5" height="5" fill="#420f10"/>
<rect x="403" y="123" width="5" height="5" fill="#370d0e"/>
<rect x="407" y="123" width="5" height="5" fill="#330c0d"/>
<rect x="411" y="123" width="5" height="5" fill="#280a0b"/>
<rect x="415" y="123" width="5" height="5" fill="#1e0809"/>
<rect x="419" y="123" width="5" height="5" fill="#23090a"/>
<rect x="423" y="123" width="5" height="5" fill="#250a0b"/>
<rect x="427" y="123" width="5" height="5" fill="#280a0b"/>
<rect x="431" y="123" width="5" height="5" fill="#280a0b"/>
<rect x="435" y="123" width="5" height="5" fill="#290a0b"/>
<rect x="439" y="123" width="5" height="5" fill="#250a0b"/>
<rect x="443" y="123" width="5" height="5" fill="#20090a"/>
<rect x="447" y="123" width="5" height="5" fill="#21090a"/>
<rect x="451" y="123" width="5" height="5" fill="#300c0d"/>
<rect x="455" y="123" width="5" height="5" fill="#420f10"/>
<rect x="459" y="123" width="5" height="5" fill="#4c1011"/>
<rect x="463" y="123" width="5" height="5" fill="#4a1011"/>
<rect x="379" y="127" width="5" height="5" fill="#611314"/>
<rect x="383" y="127" width="5" height="5" fill="#5c1314"/>
<rect x="387" y="127" width="5" height="5" fill="#471011"/>
<rect x="391" y="127" width="5" height="5" fill="#400e0f"/>
<rect x="395" y="127" width="5" height="5" fill="#3b0e0f"/>
<rect x="399" y="127" width="5" height="5" fill="#3c0e0f"/>
<rect x="403" y="127" width="5" height="5" fill="#380d0e"/>
<rect x="407" y="127" width="5" height="5" fill="#2b0b0c"/>
<rect x="411" y="127" width="5" height="5" fill="#280a0b"/>
<rect x="415" y="127" width="5" height="5" fill="#260a0b"/>
<rect x="419" y="127" width="5" height="5" fill="#20090a"/>
<rect x="423" y="127" width="5" height="5" fill="#22090a"/>
<rect x="427" y="127" width="5" height="5" fill="#23090a"/>
<rect x="431" y="127" width="5" height="5" fill="#290a0b"/>
<rect x="435" y="127" width="5" height="5" fill="#2b0b0c"/>
<rect x="439" y="127" width="5" height="5" fill="#23090a"/>
<rect x="443" y="127" width="5" height="5" fill="#250a0b"/>
<rect x="447" y="127" width="5" height="5" fill="#2a0b0c"/>
<rect x="451" y="127" width="5" height="5" fill="#390d0e"/>
<rect x="455" y="127" width="5" height="5" fill="#4d1112"/>
<rect x="459" y="127" width="5" height="5" fill="#4a1011"/>
<rect x="463" y="127" width="5" height="5" fill="#450f10"/>
<rect x="379" y="131" width="5" height="5" fill="#5a1213"/>
<rect x="383" y="131" width="5" height="5" fill="#581213"/>
<rect x="387" y="131" width="5" height="5" fill="#491011"/>
<rect x="391" y="131" width="5" height="5" fill="#430f10"/>
<rect x="395" y="131" width="5" height="5" fill="#420f10"/>
<rect x="399" y="131" width="5" height="5" fill="#3d0e0f"/>
<rect x="403" y="131" width="5" height="5" fill="#350d0e"/>
<rect x="407" y="131" width="5" height="5" fill="#330c0d"/>
<rect x="411" y="131" width="5" height="5" fill="#300c0d"/>
<rect x="415" y="131" width="5" height="5" fill="#290b0c"/>
<rect x="419" y="131" width="5" height="5" fill="#23090a"/>
<rect x="423" y="131" width="5" height="5" fill="#2b0b0c"/>
<rect x="427" y="131" width="5" height="5" fill="#2f0c0d"/>
<rect x="431" y="131" width="5" height="5" fill="#2f0c0d"/>
<rect x="435" y="131" width="5" height="5" fill="#2f0c0d"/>
<rect x="439" y="131" width="5" height="5" fill="#2d0b0c"/>
<rect x="443" y="131" width="5" height="5" fill="#270a0b"/>
<rect x="447" y="131" width="5" height="5" fill="#2f0c0d"/>
<rect x="451" y="131" width="5" height="5" fill="#380d0e"/>
<rect x="455" y="131" width="5" height="5" fill="#521112"/>
<rect x="459" y="131" width="5" height="5" fill="#4f1112"/>
<rect x="463" y="131" width="5" height="5" fill="#4b1011"/>
<rect x="379" y="135" width="5" height="5" fill="#611314"/>
<rect x="383" y="135" width="5" height="5" fill="#611314"/>
<rect x="387" y="135" width="5" height="5" fill="#4f1112"/>
<rect x="391" y="135" width="5" height="5" fill="#440f10"/>
<rect x="395" y="135" width="5" height="5" fill="#440f10"/>
<rect x="399" y="135" width="5" height="5" fill="#410f10"/>
<rect x="403" y="135" width="5" height="5" fill="#390d0e"/>
<rect x="407" y="135" width="5" height="5" fill="#2a0b0c"/>
<rect x="411" y="135" width="5" height="5" fill="#280a0b"/>
<rect x="415" y="135" width="5" height="5" fill="#250a0b"/>
<rect x="419" y="135" width="5" height="5" fill="#240a0b"/>
<rect x="423" y="135" width="5" height="5" fill="#2c0b0c"/>
<rect x="427" y="135" width="5" height="5" fill="#2e0b0c"/>
<rect x="431" y="135" width="5" height="5" fill="#350d0e"/>
<rect x="435" y="135" width="5" height="5" fill="#3a0d0e"/>
<rect x="439" y="135" width="5" height="5" fill="#340c0d"/>
<rect x="443" y="135" width="5" height="5" fill="#380d0e"/>
<rect x="447" y="135" width="5" height="5" fill="#350d0e"/>
<rect x="451" y="135" width="5" height="5" fill="#420f10"/>
<rect x="455" y="135" width="5" height="5" fill="#511112"/>
<rect x="459" y="135" width="5" height="5" fill="#581213"/>
<rect x="463" y="135" width="5" height="5" fill="#531112"/>
<rect x="379" y="139" width="5" height="5" fill="#5f1314"/>
<rect x="383" y="139" width="5" height="5" fill="#621314"/>
<rect x="387" y="139" width="5" height="5" fill="#5b1314"/>
<rect x="391" y="139" width="5" height="5" fill="#4f1112"/>
<rect x="395" y="139" width="5" height="5" fill="#491011"/>
<rect x="399" y="139" width="5" height="5" fill="#400e0f"/>
<rect x="403" y="139" width="5" height="5" fill="#330c0d"/>
<rect x="407" y="139" width="5" height="5" fill="#290b0c"/>
<rect x="411" y="139" width="5" height="5" fill="#2c0b0c"/>
<rect x="415" y="139" width="5" height="5" fill="#260a0b"/>
<rect x="419" y="139" width="5" height="5" fill="#260a0b"/>
<rect x="423" y="139" width="5" height="5" fill="#2f0c0d"/>
<rect x="427" y="139" width="5" height="5" fill="#3a0d0e"/>
<rect x="431" y="139" width="5" height="5" fill="#400e0f"/>
<rect x="435" y="139" width="5" height="5" fill="#410f10"/>
<rect x="439" y="139" width="5" height="5" fill="#3d0e0f"/>
<rect x="443" y="139" width="5" height="5" fill="#3e0e0f"/>
<rect x="447" y="139" width="5" height="5" fill="#491011"/>
<rect x="451" y="139" width="5" height="5" fill="#531112"/>
<rect x="455" y="139" width="5" height="5" fill="#5e1314"/>
<rect x="459" y="139" width="5" height="5" fill="#601314"/>
<rect x="463" y="139" width="5" height="5" fill="#5e1314"/>
<rect x="379" y="143" width="5" height="5" fill="#6a1415"/>
<rect x="383" y="143" width="5" height="5" fill="#691415"/>
<rect x="387" y="143" width="5" height="5" fill="#5e1314"/>
<rect x="391" y="143" width="5" height="5" fill="#551213"/>
<rect x="395" y="143" width="5" height="5" fill="#4f1112"/>
<rect x="399" y="143" width="5" height="5" fill="#440f10"/>
<rect x="403" y="143" width="5" height="5" fill="#3b0e0f"/>
<rect x="407" y="143" width="5" height="5" fill="#3b0e0f"/>
<rect x="411" y="143" width="5" height="5" fill="#350d0e"/>
<rect x="415" y="143" width="5" height="5" fill="#310c0d"/>
<rect x="419" y="143" width="5" height="5" fill="#380d0e"/>
<rect x="423" y="143" width="5" height="5" fill="#3c0e0f"/>
<rect x="427" y="143" width="5" height="5" fill="#400f10"/>
<rect x="431" y="143" width="5" height="5" fill="#471011"/>
<rect x="435" y="143" width="5" height="5" fill="#511112"/>
<rect x="439" y="143" width="5" height="5" fill="#551213"/>
<rect x="443" y="143" width="5" height="5" fill="#571213"/>
<rect x="447" y="143" width="5" height="5" fill="#581213"/>
<rect x="451" y="143" width="5" height="5" fill="#5b1213"/>
<rect x="455" y="143" width="5" height="5" fill="#661415"/>
<rect x="459" y="143" width="5" height="5" fill="#621314"/>
<rect x="463" y="143" width="5" height="5" fill="#611314"/>
<rect x="379" y="147" width="5" height="5" fill="#671415"/>
<rect x="383" y="147" width="5" height="5" fill="#641415"/>
<rect x="387" y="147" width="5" height="5" fill="#611314"/>
<rect x="391" y="147" width="5" height="5" fill="#681415"/>
<rect x="395" y="147" width="5" height="5" fill="#591213"/>
<rect x="399" y="147" width="5" height="5" fill="#5f1314"/>
<rect x="403" y="147" width="5" height="5" fill="#571213"/>
<rect x="407" y="147" width="5" height="5" fill="#531112"/>
<rect x="411" y="147" width="5" height="5" fill="#4a1011"/>
<rect x="415" y="147" width="5" height="5" fill="#501112"/>
<rect x="419" y="147" width="5" height="5" fill="#4c1011"/>
<rect x="423" y="147" width="5" height="5" fill="#531112"/>
<rect x="427" y="147" width="5" height="5" fill="#561213"/>
<rect x="431" y="147" width="5" height="5" fill="#5f1314"/>
<rect x="435" y="147" width="5" height="5" fill="#591213"/>
<rect x="439" y="147" width="5" height="5" fill="#591213"/>
<rect x="443" y="147" width="5" height="5" fill="#611314"/>
<rect x="447" y="147" width="5" height="5" fill="#621415"/>
<rect x="451" y="147" width="5" height="5" fill="#671415"/>
<rect x="455" y="147" width="5" height="5" fill="#641415"/>
<rect x="459" y="147" width="5" height="5" fill="#671415"/>
<rect x="463" y="147" width="5" height="5" fill="#6b1516"/>
<rect x="379" y="151" width="5" height="5" fill="#6c1516"/>
<rect x="383" y="151" width="5" height="5" fill="#681415"/>
<rect x="387" y="151" width="5" height="5" fill="#641415"/>
<rect x="391" y="151" width="5" height="5" fill="#631415"/>
<rect x="395" y="151" width="5" height="5" fill="#6c1516"/>
<rect x="399" y="151" width="5" height="5" fill="#631415"/>
<rect x="403" y="151" width="5" height="5" fill="#5f1314"/>
<rect x="407" y="151" width="5" height="5" fill="#601314"/>
<rect x="411" y="151" width="5" height="5" fill="#5e1314"/>
<rect x="415" y="151" width="5" height="5" fill="#611314"/>
<rect x="419" y="151" width="5" height="5" fill="#5c1314"/>
<rect x="423" y="151" width="5" height="5" fill="#621314"/>
<rect x="427" y="151" width="5" height="5" fill="#651415"/>
<rect x="431" y="151" width="5" height="5" fill="#651415"/>
<rect x="435" y="151" width="5" height="5" fill="#671415"/>
<rect x="439" y="151" width="5" height="5" fill="#631415"/>
<rect x="443" y="151" width="5" height="5" fill="#661415"/>
<rect x="447" y="151" width="5" height="5" fill="#6b1516"/>
<rect x="451" y="151" width="5" height="5" fill="#671415"/>
<rect x="455" y="151" width="5" height="5" fill="#6e1516"/>
<rect x="459" y="151" width="5" height="5" fill="#671415"/>
<rect x="463" y="151" width="5" height="5" fill="#6a1415"/>
<rect x="379" y="155" width="5" height="5" fill="#701516"/>
<rect x="383" y="155" width="5" height="5" fill="#6d1516"/>
<rect x="387" y="155" width="5" height="5" fill="#681415"/>
<rect x="391" y="155" width="5" height="5" fill="#691415"/>
<rect x="395" y="155" width="5" height="5" fill="#681415"/>
<rect x="399" y="155" width="5" height="5" fill="#6d1516"/>
<rect x="403" y="155" width="5" height="5" fill="#681415"/>
<rect x="407" y="155" width="5" height="5" fill="#6c1516"/>
<rect x="411" y="155" width="5" height="5" fill="#6a1516"/>
<rect x="415" y="155" width="5" height="5" fill="#6b1516"/>
<rect x="419" y="155" width="5" height="5" fill="#681415"/>
<rect x="423" y="155" width="5" height="5" fill="#651415"/>
<rect x="427" y="155" width="5" height="5" fill="#6a1516"/>
<rect x="431" y="155" width="5" height="5" fill="#681415"/>
<rect x="435" y="155" width="5" height="5" fill="#641415"/>
<rect x="439" y="155" width="5" height="5" fill="#691415"/>
<rect x="443" y="155" width="5" height="5" fill="#661415"/>
<rect x="447" y="155" width="5" height="5" fill="#651415"/>
<rect x="451" y="155" width="5" height="5" fill="#681415"/>
<rect x="455" y="155" width="5" height="5" fill="#701516"/>
<rect x="459" y="155" width="5" height="5" fill="#6d1516"/>
<rect x="463" y="155" width="5" height="5" fill="#6a1516"/>
<rect x="379" y="159" width="5" height="5" fill="#6c1516"/>
<rect x="383" y="159" width="5" height="5" fill="#6a1415"/>
<rect x="387" y="159" width="5" height="5" fill="#6c1516"/>
<rect x="391" y="159" width="5" height="5" fill="#681415"/>
<rect x="395" y="159" width="5" height="5" fill="#6f1516"/>
<rect x="399" y="159" width="5" height="5" fill="#6e1516"/>
<rect x="403" y="159" width="5" height="5" fill="#6a1415"/>
<rect x="407" y="159" width="5" height="5" fill="#6b1516"/>
<rect x="411" y="159" width="5" height="5" fill="#691415"/>
<rect x="415" y="159" width="5" height="5" fill="#6d1516"/>
<rect x="419" y="159" width="5" height="5" fill="#6e1516"/>
<rect x="423" y="159" width="5" height="5" fill="#6f1516"/>
<rect x="427" y="159" width="5" height="5" fill="#661415"/>
<rect x="431" y="159" width="5" height="5" fill="#6f1516"/>
<rect x="435" y="159" width="5" height="5" fill="#671415"/>
<rect x="439" y="159" width="5" height="5" fill="#661415"/>
<rect x="443" y="159" width="5" height="5" fill="#6a1415"/>
<rect x="447" y="159" width="5" height="5" fill="#6d1516"/>
<rect x="451" y="159" width="5" height="5" fill="#671415"/>
<rect x="455" y="159" width="5" height="5" fill="#6d1516"/>
<rect x="459" y="159" width="5" height="5" fill="#701516"/>
<rect x="463" y="159" width="5" height="5" fill="#6e1516"/>
<rect x="379" y="163" width="5" height="5" fill="#6f1516"/>
<rect x="383" y="163" width="5" height="5" fill="#671415"/>
<rect x="387" y="163" width="5" height="5" fill="#691415"/>
<rect x="391" y="163" width="5" height="5" fill="#681415"/>
<rect x="395" y="163" width="5" height="5" fill="#6a1415"/>
<rect x="399" y="163" width="5" height="5" fill="#6f1516"/>
<rect x="403" y="163" width="5" height="5" fill="#711516"/>
<rect x="407" y="163" width="5" height="5" fill="#681415"/>
<rect x="411" y="163" width="5" height="5" fill="#6c1516"/>
<rect x="415" y="163" width="5" height="5" fill="#6c1516"/>
<rect x="419" y="163" width="5" height="5" fill="#701516"/>
<rect x="423" y="163" width="5" height="5" fill="#6a1516"/>
<rect x="427" y="163" width="5" height="5" fill="#671415"/>
<rect x="431" y="163" width="5" height="5" fill="#661415"/>
<rect x="435" y="163" width="5" height="5" fill="#671415"/>
<rect x="439" y="163" width="5" height="5" fill="#6b1516"/>
<rect x="443" y="163" width="5" height="5" fill="#661415"/>
<rect x="447" y="163" width="5" height="5" fill="#6d1516"/>
<rect x="451" y="163" width="5" height="5" fill="#681415"/>
<rect x="455" y="163" width="5" height="5" fill="#661415"/>
<rect x="459" y="163" width="5" height="5" fill="#6e1516"/>
<rect x="463" y="163" width="5" height="5" fill="#6b1516"/>
<rect x="379" y="167" width="5" height="5" fill="#6e1516"/>
<rect x="383" y="167" width="5" height="5" fill="#6c1516"/>
<rect x="387" y="167" width="5" height="5" fill="#6a1415"/>
<rect x="391" y="167" width="5" height="5" fill="#661415"/>
<rect x="395" y="167" width="5" height="5" fill="#6f1516"/>
<rect x="399" y="167" width="5" height="5" fill="#6d1516"/>
<rect x="403" y="167" width="5" height="5" fill="#681415"/>
<rect x="407" y="167" width="5" height="5" fill="#661415"/>
<rect x="411" y="167" width="5" height="5" fill="#6c1516"/>
<rect x="415" y="167" width="5" height="5" fill="#701516"/>
<rect x="419" y="167" width="5" height="5" fill="#6e1516"/>
<rect x="423" y="167" width="5" height="5" fill="#701516"/>
<rect x="427" y="167" width="5" height="5" fill="#701516"/>
<rect x="431" y="167" width="5" height="5" fill="#671415"/>
<rect x="435" y="167" width="5" height="5" fill="#671415"/>
<rect x="439" y="167" width="5" height="5" fill="#6b1516"/>
<rect x="443" y="167" width="5" height="5" fill="#671415"/>
<rect x="447" y="167" width="5" height="5" fill="#6b1516"/>
<rect x="451" y="167" width="5" height="5" fill="#6f1516"/>
<rect x="455" y="167" width="5" height="5" fill="#681415"/>
<rect x="459" y="167" width="5" height="5" fill="#6f1516"/>
<rect x="463" y="167" width="5" height="5" fill="#681415"/>
<rect x="379" y="171" width="5" height="5" fill="#6f1516"/>
<rect x="383" y="171" width="5" height="5" fill="#661415"/>
<rect x="387" y="171" width="5" height="5" fill="#671415"/>
<rect x="391" y="171" width="5" height="5" fill="#661415"/>
<rect x="395" y="171" width="5" height="5" fill="#6c1516"/>
<rect x="399" y="171" width="5" height="5" fill="#661415"/>
<rect x="403" y="171" width="5" height="5" fill="#6d1516"/>
<rect x="407" y="171" width="5" height="5" fill="#6a1415"/>
<rect x="411" y="171" width="5" height="5" fill="#6f1516"/>
<rect x="415" y="171" width="5" height="5" fill="#6a1415"/>
<rect x="419" y="171" width="5" height="5" fill="#6f1516"/>
<rect x="423" y="171" width="5" height="5" fill="#6e1516"/>
<rect x="427" y="171" width="5" height="5" fill="#691415"/>
<rect x="431" y="171" width="5" height="5" fill="#6e1516"/>
<rect x="435" y="171" width="5" height="5" fill="#6c1516"/>
<rect x="439" y="171" width="5" height="5" fill="#6c1516"/>
<rect x="443" y="171" width="5" height="5" fill="#6a1516"/>
<rect x="447" y="171" width="5" height="5" fill="#671415"/>
<rect x="451" y="171" width="5" height="5" fill="#6b1516"/>
<rect x="455" y="171" width="5" height="5" fill="#6b1516"/>
<rect x="459" y="171" width="5" height="5" fill="#6a1516"/>
<rect x="463" y="171" width="5" height="5" fill="#711516"/>
</g></g>
<text class="wt" transform="translate(391.3 106.0) scale(0.9 1)" font-size="12.5" text-anchor="middle" fill="#f6f0f0" >e)</text>
<rect x="418.5" y="158.2" width="32.5" height="3" fill="#f2ecec"/>
<rect x="464.8" y="11.8" width="8.5" height="155.4" fill="url(#cbar)"/>
<text transform="translate(479 24) scale(0.88 1)" font-size="12.5" text-anchor="middle" fill="#161616" >1</text>
<text transform="translate(480 173) scale(0.88 1)" font-size="12.5" text-anchor="middle" fill="#161616" >0</text>
<text transform="translate(491 87) rotate(-90) scale(0.837 1)" font-size="12.5" text-anchor="middle" fill="#161616" >Norm. intensity</text>
<rect x="535.6" y="12" width="193.10000000000002" height="143.3" fill="none" stroke="#a0a0a0" stroke-width="1.3"/>
<line x1="535.6" y1="24.4" x2="538.1" y2="24.4" stroke="#aaa" stroke-width="0.8"/>
<line x1="535.6" y1="37.3" x2="538.1" y2="37.3" stroke="#aaa" stroke-width="0.8"/>
<line x1="535.6" y1="50.2" x2="538.1" y2="50.2" stroke="#aaa" stroke-width="0.8"/>
<line x1="535.6" y1="63.1" x2="538.1" y2="63.1" stroke="#aaa" stroke-width="0.8"/>
<line x1="535.6" y1="76.0" x2="538.1" y2="76.0" stroke="#aaa" stroke-width="0.8"/>
<line x1="535.6" y1="88.9" x2="538.1" y2="88.9" stroke="#aaa" stroke-width="0.8"/>
<line x1="535.6" y1="101.8" x2="538.1" y2="101.8" stroke="#aaa" stroke-width="0.8"/>
<line x1="535.6" y1="114.7" x2="538.1" y2="114.7" stroke="#aaa" stroke-width="0.8"/>
<line x1="535.6" y1="127.6" x2="538.1" y2="127.6" stroke="#aaa" stroke-width="0.8"/>
<line x1="535.6" y1="140.5" x2="538.1" y2="140.5" stroke="#aaa" stroke-width="0.8"/>
<line x1="554.9" y1="155.3" x2="554.9" y2="152.3" stroke="#999" stroke-width="0.9"/>
<line x1="574.2" y1="155.3" x2="574.2" y2="152.3" stroke="#999" stroke-width="0.9"/>
<line x1="593.5" y1="155.3" x2="593.5" y2="152.3" stroke="#999" stroke-width="0.9"/>
<line x1="612.8" y1="155.3" x2="612.8" y2="152.3" stroke="#999" stroke-width="0.9"/>
<line x1="632.1" y1="155.3" x2="632.1" y2="152.3" stroke="#999" stroke-width="0.9"/>
<line x1="651.5" y1="155.3" x2="651.5" y2="152.3" stroke="#999" stroke-width="0.9"/>
<line x1="670.8" y1="155.3" x2="670.8" y2="152.3" stroke="#999" stroke-width="0.9"/>
<line x1="690.1" y1="155.3" x2="690.1" y2="152.3" stroke="#999" stroke-width="0.9"/>
<line x1="709.4" y1="155.3" x2="709.4" y2="152.3" stroke="#999" stroke-width="0.9"/>
<text transform="translate(535.8 170) scale(0.88 1)" font-size="12.5" text-anchor="middle" fill="#161616" >10</text>
<text transform="translate(573.8 170) scale(0.88 1)" font-size="12.5" text-anchor="middle" fill="#161616" >20</text>
<text transform="translate(611.7 170) scale(0.88 1)" font-size="12.5" text-anchor="middle" fill="#161616" >30</text>
<text transform="translate(649.7 170) scale(0.88 1)" font-size="12.5" text-anchor="middle" fill="#161616" >40</text>
<text transform="translate(687.6 170) scale(0.88 1)" font-size="12.5" text-anchor="middle" fill="#161616" >50</text>
<text transform="translate(725.6 170) scale(0.88 1)" font-size="12.5" text-anchor="middle" fill="#161616" >60</text>
<line x1="535.6" y1="149.1" x2="728.7" y2="149.1" stroke="#4654bc" stroke-width="2"/>
<line x1="561.9" y1="149" x2="561.9" y2="66" stroke="#4654bc" stroke-width="1.8"/>
<line x1="630.0" y1="149" x2="630.0" y2="120.5" stroke="#4654bc" stroke-width="1.8"/>
<line x1="699.0" y1="149" x2="699.0" y2="90" stroke="#4654bc" stroke-width="1.8"/>
<line x1="599.3" y1="148" x2="599.3" y2="146" stroke="#4654bc" stroke-width="1.5"/>
<text transform="translate(563 62) scale(0.88 1)" font-size="12.5" text-anchor="middle" fill="#161616" >020</text>
<text transform="translate(631.5 113.6) scale(0.88 1)" font-size="12.5" text-anchor="middle" fill="#161616" >040</text>
<text transform="translate(697.5 84) scale(0.88 1)" font-size="12.5" text-anchor="middle" fill="#161616" >060</text>
<text transform="translate(545.3 29.3) scale(0.88 1)" font-size="12.5" text-anchor="middle" fill="#161616" >f)</text>
<text transform="translate(522.8 80.8) rotate(-90) scale(0.836 1)" font-size="12.5" text-anchor="middle" fill="#161616" >Intensity(arb. unit)</text>
<text transform="translate(633.7 200.3) scale(0.825 1)" font-size="12.5" text-anchor="middle" fill="#161616" >2Theta(degree)</text>
<rect x="109.5" y="209.6" width="192.7" height="143.20000000000002" fill="none" stroke="#a0a0a0" stroke-width="1.3"/>
<line x1="109.5" y1="324.2" x2="112.5" y2="324.2" stroke="#999" stroke-width="0.9"/>
<line x1="109.5" y1="295.5" x2="112.5" y2="295.5" stroke="#999" stroke-width="0.9"/>
<line x1="109.5" y1="266.9" x2="112.5" y2="266.9" stroke="#999" stroke-width="0.9"/>
<line x1="109.5" y1="238.2" x2="112.5" y2="238.2" stroke="#999" stroke-width="0.9"/>
<line x1="148.0" y1="352.8" x2="148.0" y2="349.8" stroke="#999" stroke-width="0.9"/>
<line x1="186.6" y1="352.8" x2="186.6" y2="350.8" stroke="#999" stroke-width="0.9"/>
<line x1="225.1" y1="352.8" x2="225.1" y2="349.8" stroke="#999" stroke-width="0.9"/>
<line x1="263.7" y1="352.8" x2="263.7" y2="350.8" stroke="#999" stroke-width="0.9"/>
<text transform="translate(104.6 361.0) scale(0.88 1)" font-size="12.5" text-anchor="end" fill="#161616" >0</text>
<text transform="translate(104.6 331.7) scale(0.88 1)" font-size="12.5" text-anchor="end" fill="#161616" >20</text>
<text transform="translate(104.6 302.4) scale(0.88 1)" font-size="12.5" text-anchor="end" fill="#161616" >40</text>
<text transform="translate(104.6 273.1) scale(0.88 1)" font-size="12.5" text-anchor="end" fill="#161616" >60</text>
<text transform="translate(104.6 243.8) scale(0.88 1)" font-size="12.5" text-anchor="end" fill="#161616" >80</text>
<text transform="translate(104.6 214.5) scale(0.88 1)" font-size="12.5" text-anchor="end" fill="#161616" >100</text>
<text transform="translate(146.4 369.4) scale(0.88 1)" font-size="12.5" text-anchor="middle" fill="#161616" >1000</text>
<text transform="translate(225.1 369.4) scale(0.88 1)" font-size="12.5" text-anchor="middle" fill="#161616" >2000</text>
<text transform="translate(304.6 369.4) scale(0.88 1)" font-size="12.5" text-anchor="middle" fill="#161616" >3000</text>
<polyline points="109.5,281.29 110.0,280.63 110.5,279.89 111.0,279.25 111.5,278.59 112.0,277.79 112.5,277.12 113.0,276.68 113.5,275.90 114.0,275.27 114.5,274.83 115.0,274.10 115.5,273.58 116.0,272.90 116.5,272.35 117.0,271.66 117.5,271.20 118.0,270.69 118.5,270.05 119.0,269.55 119.5,268.99 120.0,268.30 120.5,267.93 121.0,267.37 121.5,266.78 122.0,266.20 122.5,265.89 123.0,265.29 123.5,264.85 124.0,264.40 124.5,263.88 125.0,263.45 125.5,262.84 126.0,262.47 126.5,261.92 127.0,261.58 127.5,261.11 128.0,260.48 128.5,260.04 129.0,259.62 129.5,259.37 130.0,258.81 130.5,258.44 131.0,257.94 131.5,257.57 132.0,257.13 132.5,256.72 133.0,256.37 133.5,255.98 134.0,255.66 134.5,255.22 135.0,254.90 135.5,254.50 136.0,254.16 136.5,253.71 137.0,253.22 137.5,253.02 138.0,252.69 138.5,252.32 139.0,251.89 139.5,251.58 140.0,251.11 140.5,250.92 141.0,250.52 141.5,250.12 142.0,249.74 142.5,249.60 143.0,249.31 143.5,248.78 144.0,248.63 144.5,248.23 145.0,247.86 145.5,247.59 146.0,247.40 146.5,247.13 147.0,246.63 147.5,246.48 148.0,246.05 148.5,245.93 149.0,245.55 149.5,245.40 150.0,245.15 150.5,244.76 151.0,244.61 151.5,244.18 152.0,243.86 152.5,243.72 153.0,243.33 153.5,243.11 154.0,242.91 154.5,242.70 155.0,242.35 155.5,242.07 156.0,242.03 156.5,241.65 157.0,241.57 157.5,241.32 158.0,240.96 158.5,240.75 159.0,240.54 159.5,240.34 160.0,240.11 160.5,239.88 161.0,239.68 161.5,239.54 162.0,239.22 162.5,238.99 163.0,238.85 163.5,238.53 164.0,238.34 164.5,238.30 165.0,237.99 165.5,237.80 166.0,237.47 166.5,237.37 167.0,237.22 167.5,236.90 168.0,236.85 168.5,236.67 169.0,236.35 169.5,236.30 170.0,236.08 170.5,235.95 171.0,235.70 171.5,235.61 172.0,235.45 172.5,235.10 173.0,234.94 173.5,234.92 174.0,234.83 174.5,234.49 175.0,234.38 175.5,234.25 176.0,234.03 176.5,233.88 177.0,233.71 177.5,233.57 178.0,233.48 178.5,233.25 179.0,233.12 179.5,233.07 180.0,232.75 180.5,232.73 181.0,232.63 181.5,232.39 182.0,232.23 182.5,232.23 183.0,231.95 183.5,231.81 184.0,231.73 184.5,231.66 185.0,231.39 185.5,231.31 186.0,231.19 186.5,231.18 187.0,230.96 187.5,230.93 188.0,230.65 188.5,230.56 189.0,230.52 189.5,230.46 190.0,230.23 190.5,230.06 191.0,229.92 191.5,229.91 192.0,229.71 192.5,229.75 193.0,229.64 193.5,229.38 194.0,229.29 194.5,229.31 195.0,229.16 195.5,229.10 196.0,228.88 196.5,228.73 197.0,228.67 197.5,228.69 198.0,228.46 198.5,228.38 199.0,228.30 199.5,228.20 200.0,228.11 200.5,228.13 201.0,227.86 201.5,227.73 202.0,227.86 202.5,227.75 203.0,227.69 203.5,227.47 204.0,227.50 204.5,227.41 205.0,227.16 205.5,227.20 206.0,227.13 206.5,227.01 207.0,226.89 207.5,226.75 208.0,226.69 208.5,226.58 209.0,226.46 209.5,226.51 210.0,226.36 210.5,226.41 211.0,226.15 211.5,226.28 212.0,226.15 212.5,226.13 213.0,226.06 213.5,225.98 214.0,225.84 214.5,225.63 215.0,225.74 215.5,225.53 216.0,225.49 216.5,225.51 217.0,225.41 217.5,225.32 218.0,225.38 218.5,225.23 219.0,225.10 219.5,225.02 220.0,225.10 220.5,224.95 221.0,224.96 221.5,224.80 222.0,224.70 222.5,224.72 223.0,224.73 223.5,224.51 224.0,224.60 224.5,224.58 225.0,224.49 225.5,224.44 226.0,224.19 226.5,224.28 227.0,224.29 227.5,224.04 228.0,224.04 228.5,223.98 229.0,223.99 229.5,223.92 230.0,223.88 230.5,223.90 231.0,223.66 231.5,223.63 232.0,223.60 232.5,223.55 233.0,223.48 233.5,223.65 234.0,223.58 234.5,223.35 235.0,223.40 235.5,223.31 236.0,223.27 236.5,223.23 237.0,223.26 237.5,223.20 238.0,223.10 238.5,223.02 239.0,223.01 239.5,222.92 240.0,222.98 240.5,222.98 241.0,222.86 241.5,222.74 242.0,222.73 242.5,222.73 243.0,222.75 243.5,222.75 244.0,222.62 244.5,222.68 245.0,222.60 245.5,222.52 246.0,222.47 246.5,222.46 247.0,222.48 247.5,222.37 248.0,222.40 248.5,222.31 249.0,222.23 249.5,222.26 250.0,222.27 250.5,222.08 251.0,222.13 251.5,222.10 252.0,222.18 252.5,222.16 253.0,221.99 253.5,222.09 254.0,222.03 254.5,221.87 255.0,221.89 255.5,221.78 256.0,221.91 256.5,221.85 257.0,221.87 257.5,221.82 258.0,221.76 258.5,221.75 259.0,221.68 259.5,221.54 260.0,221.63 260.5,221.47 261.0,221.47 261.5,221.60 262.0,221.40 262.5,221.38 263.0,221.36 263.5,221.52 264.0,221.32 264.5,221.26 265.0,221.43 265.5,221.24 266.0,221.38 266.5,221.32 267.0,221.33 267.5,221.34 268.0,221.22 268.5,221.24 269.0,221.03 269.5,221.17 270.0,221.08 270.5,221.09 271.0,220.89 271.5,221.00 272.0,220.98 272.5,220.70 273.0,220.69 273.5,220.66 274.0,220.62 274.5,220.38 275.0,220.25 275.5,220.15 276.0,220.13 276.5,220.05 277.0,219.87 277.5,219.77 278.0,219.71 278.5,219.65 279.0,219.63 279.5,219.55 280.0,219.66 280.5,219.82 281.0,219.74 281.5,219.90 282.0,219.84 282.5,220.05 283.0,220.15 283.5,220.22 284.0,220.26 284.5,220.32 285.0,220.42 285.5,220.53 286.0,220.39 286.5,220.41 287.0,220.60 287.5,220.65 288.0,220.57 288.5,220.56 289.0,220.63 289.5,220.51 290.0,220.53 290.5,220.51 291.0,220.60 291.5,220.53 292.0,220.51 292.5,220.61 293.0,220.67 293.5,220.51 294.0,220.61 294.5,220.53 295.0,220.63 295.5,220.57 296.0,220.49 296.5,220.47 297.0,220.42 297.5,220.53 298.0,220.50 298.5,220.45 299.0,220.49 299.5,220.48 300.0,220.59 300.5,220.44 301.0,220.64 301.5,220.51 302.0,220.54" fill="none" stroke="#4452b4" stroke-width="1.7"/>
<line x1="109.5" y1="231.1" x2="190.2" y2="231.1" stroke="#999" stroke-width="1" stroke-dasharray="1,1.4"/>
<line x1="190.2" y1="231.1" x2="190.2" y2="352.8" stroke="#999" stroke-width="1" stroke-dasharray="1,1.4"/>
<polygon points="188.2,233.5 192.2,233.5 190.2,230" fill="#222"/>
<text transform="translate(136.9 227.2) scale(0.795 1)" font-size="12.5" text-anchor="middle" fill="#161616" >g) 84,82%</text>
<text transform="translate(205 273) rotate(-90) scale(0.82 1)" font-size="12.5" text-anchor="middle" fill="#161616" >1550nm</text>
<text transform="translate(70 271.9) rotate(-90) scale(0.81 1)" font-size="12.5" text-anchor="middle" fill="#161616" >Transmission(%)</text>
<text transform="translate(206.2 390.3) scale(0.823 1)" font-size="12.5" text-anchor="middle" fill="#161616" >Wavelength(nm)</text>
<rect x="349.5" y="211.6" width="191.10000000000002" height="141.4" fill="none" stroke="#a0a0a0" stroke-width="1.3"/>
<line x1="349.5" y1="332.8" x2="352.5" y2="332.8" stroke="#999" stroke-width="0.9"/>
<text transform="translate(346.2 337.2) scale(0.88 1)" font-size="12.5" text-anchor="end" fill="#161616" >1</text>
<line x1="349.5" y1="312.6" x2="352.5" y2="312.6" stroke="#999" stroke-width="0.9"/>
<text transform="translate(346.2 316.6) scale(0.88 1)" font-size="12.5" text-anchor="end" fill="#161616" >2</text>
<line x1="349.5" y1="292.4" x2="352.5" y2="292.4" stroke="#999" stroke-width="0.9"/>
<text transform="translate(346.2 296.0) scale(0.88 1)" font-size="12.5" text-anchor="end" fill="#161616" >3</text>
<line x1="349.5" y1="272.2" x2="352.5" y2="272.2" stroke="#999" stroke-width="0.9"/>
<text transform="translate(346.2 275.4) scale(0.88 1)" font-size="12.5" text-anchor="end" fill="#161616" >4</text>
<line x1="349.5" y1="252.0" x2="352.5" y2="252.0" stroke="#999" stroke-width="0.9"/>
<text transform="translate(346.2 254.8) scale(0.88 1)" font-size="12.5" text-anchor="end" fill="#161616" >5</text>
<line x1="349.5" y1="231.8" x2="352.5" y2="231.8" stroke="#999" stroke-width="0.9"/>
<text transform="translate(346.2 234.2) scale(0.88 1)" font-size="12.5" text-anchor="end" fill="#161616" >6</text>
<text transform="translate(346.2 212.9) scale(0.88 1)" font-size="12.5" text-anchor="end" fill="#161616" >7</text>
<line x1="376.8" y1="353" x2="376.8" y2="350" stroke="#999" stroke-width="0.9"/>
<line x1="404.1" y1="353" x2="404.1" y2="350" stroke="#999" stroke-width="0.9"/>
<line x1="431.4" y1="353" x2="431.4" y2="350" stroke="#999" stroke-width="0.9"/>
<line x1="458.7" y1="353" x2="458.7" y2="350" stroke="#999" stroke-width="0.9"/>
<line x1="486.0" y1="353" x2="486.0" y2="350" stroke="#999" stroke-width="0.9"/>
<line x1="513.3" y1="353" x2="513.3" y2="350" stroke="#999" stroke-width="0.9"/>
<line x1="363.1" y1="353" x2="363.1" y2="351" stroke="#aaa" stroke-width="0.8"/>
<line x1="390.4" y1="353" x2="390.4" y2="351" stroke="#aaa" stroke-width="0.8"/>
<line x1="417.8" y1="353" x2="417.8" y2="351" stroke="#aaa" stroke-width="0.8"/>
<line x1="445.1" y1="353" x2="445.1" y2="351" stroke="#aaa" stroke-width="0.8"/>
<line x1="472.4" y1="353" x2="472.4" y2="351" stroke="#aaa" stroke-width="0.8"/>
<line x1="499.7" y1="353" x2="499.7" y2="351" stroke="#aaa" stroke-width="0.8"/>
<line x1="527.0" y1="353" x2="527.0" y2="351" stroke="#aaa" stroke-width="0.8"/>
<text transform="translate(378.2 366.8) scale(0.88 1)" font-size="12.5" text-anchor="middle" fill="#161616" >5</text>
<text transform="translate(403.2 366.8) scale(0.88 1)" font-size="12.5" text-anchor="middle" fill="#161616" >10</text>
<text transform="translate(433.5 366.8) scale(0.88 1)" font-size="12.5" text-anchor="middle" fill="#161616" >15</text>
<text transform="translate(460.7 366.8) scale(0.88 1)" font-size="12.5" text-anchor="middle" fill="#161616" >20</text>
<text transform="translate(486 366.8) scale(0.88 1)" font-size="12.5" text-anchor="middle" fill="#161616" >25</text>
<text transform="translate(514.5 366.8) scale(0.88 1)" font-size="12.5" text-anchor="middle" fill="#161616" >30</text>
<text transform="translate(543.4 366.8) scale(0.88 1)" font-size="12.5" text-anchor="middle" fill="#161616" >35</text>
<polyline points="349.5,269.4 350.2,266.8 350.9,269.1 351.6,266.9 352.3,266.7 353.0,266.1 353.7,266.4 354.4,266.5 355.1,267.1 355.8,269.2 356.5,269.4 357.2,266.6 357.9,269.0 358.6,266.7 359.3,269.8 360.0,269.4 360.7,266.6 361.4,269.5 362.1,269.2 362.8,266.8 363.5,269.0 364.2,266.2 364.9,269.2 365.6,269.5 366.3,266.2 367.0,267.2 367.7,269.1 368.4,268.8 369.1,266.5 369.8,266.3 370.5,266.7 371.2,268.8 371.9,269.7 372.6,269.4 373.3,269.7 374.0,266.9 374.7,266.5 375.4,268.9 376.1,269.2 376.8,266.2 377.5,266.5 378.2,268.9 378.9,269.2 379.6,265.8 380.3,266.5 381.0,266.2 381.7,269.1 382.4,266.1 383.1,269.4 383.8,268.3 384.5,268.6 385.2,266.3 385.9,268.4 386.6,266.0 387.3,267.8 388.0,265.1 388.7,265.1 389.4,268.3 390.1,265.0 390.8,267.8 391.5,264.5 392.2,265.1 392.9,264.1 393.6,266.9 394.3,267.0 395.0,267.5 395.7,264.6 396.4,266.4 397.1,264.0 397.8,263.5 398.5,266.7 399.2,266.7 399.9,265.7 400.6,266.0 401.3,263.0 402.0,263.7 402.7,266.1 403.4,268.9 404.1,269.0 404.8,270.2 405.5,276.2 406.2,271.6 406.9,270.2 407.6,276.4 408.3,276.6 409.0,276.7 409.7,271.3 410.4,270.8 411.1,271.2 411.8,271.9 412.5,272.4 413.2,277.3 413.9,272.1 414.6,271.2 415.3,271.0 416.0,270.1 416.7,274.9 417.4,275.4 418.1,268.7 418.8,269.3 419.5,268.9 420.2,273.7 420.9,267.1 421.6,271.7 422.3,271.5 423.0,272.5 423.7,267.3 424.4,270.7 425.1,269.8 425.8,270.5 426.5,266.5 427.2,268.8 427.9,265.4 428.6,268.0 429.3,265.6 430.0,268.2 430.7,267.4 431.4,267.5 432.1,264.0 432.8,264.3 433.5,263.4 434.2,264.0 434.9,265.3 435.6,266.1 436.3,263.2 437.0,261.9 437.7,262.5 438.4,264.6 439.1,264.3 439.8,264.4 440.5,261.8 441.2,261.4 441.9,263.8 442.6,266.2 443.3,269.4 444.0,268.6 444.7,269.5 445.4,269.3 446.1,272.5 446.8,273.2 447.5,272.6 448.2,269.4 448.9,271.0 449.6,271.6 450.3,269.0 451.0,269.2 451.7,271.8 452.4,270.5 453.1,270.9 453.8,273.0 454.5,272.2 455.2,269.2 455.9,272.0 456.6,270.8 457.3,268.2 458.0,269.7 458.7,265.7 459.4,265.7 460.1,266.6 460.8,269.2 461.5,268.7 462.2,266.0 462.9,265.6 463.6,265.7 464.3,268.2 465.0,268.1 465.7,265.4 466.4,268.7 467.1,268.5 467.8,266.0 468.5,268.2 469.2,265.8 469.9,268.2 470.6,264.5 471.3,267.1 472.0,263.6 472.7,267.1 473.4,263.9 474.1,266.6 474.8,263.6 475.5,266.0 476.2,265.6 476.9,262.1 477.6,263.9 478.3,264.3 479.0,261.2 479.7,260.3 480.4,263.4 481.1,259.8 481.8,262.0 482.5,262.9 483.2,263.4 483.9,261.1 484.6,264.2 485.3,264.5 486.0,265.7 486.7,263.3 487.4,264.4 488.1,268.1 488.8,269.1 489.5,267.8 490.2,270.8 490.9,271.8 491.6,272.9 492.3,271.0 493.0,274.1 493.7,273.8 494.4,269.8 495.1,269.3 495.8,268.5 496.5,267.2 497.2,269.4 497.9,266.3 498.6,265.3 499.3,266.6 500.0,264.0 500.7,265.1 501.4,264.7 502.1,261.2 502.8,263.1 503.5,259.1 504.2,262.1 504.9,260.2 505.6,260.3 506.3,263.9 507.0,262.4 507.7,263.5 508.4,264.5 509.1,268.0 509.8,265.8 510.5,266.1 511.2,267.0 511.9,269.1 512.6,266.4 513.3,266.5 514.0,267.7 514.7,267.3 515.4,267.9 516.1,264.1 516.8,266.8 517.5,266.5 518.2,263.3 518.9,263.3 519.6,264.9 520.3,262.0 521.0,261.6 521.7,264.0 522.4,261.6 523.1,261.4 523.8,263.9 524.5,260.8 525.2,262.3 525.9,262.7 526.6,261.5 527.3,260.9 528.0,258.2 528.7,260.3 529.4,260.8 530.1,260.0 530.8,261.3 531.5,264.5 532.2,265.7 532.9,264.5 533.6,265.8 534.3,269.7 535.0,267.5 535.7,270.4 536.4,267.9 537.1,270.3 537.8,270.4 538.5,269.7 539.2,267.2 539.9,267.5 540.6,270.3" fill="none" stroke="#262626" stroke-width="1" opacity="0.7"/>
<path d="M349.8,266.1V268.8M350.6,265.3V268.2M351.7,265.3V268.4M352.9,266.0V268.4M353.9,265.9V269.2M355.1,267.1V268.9M355.9,266.4V270.2M357.1,265.9V269.3M358.4,267.4V269.2M359.6,266.2V269.5M360.4,267.1V269.1M361.3,266.0V269.0M362.7,265.8V268.7M363.7,266.6V268.6M364.8,265.7V268.8M366.0,267.3V269.6M367.4,267.1V268.5M368.1,266.4V268.5M368.9,266.4V270.2M369.9,266.6V269.6M370.7,266.2V268.7M371.9,265.4V268.5M373.1,266.1V268.6M374.0,265.2V270.2M374.8,265.8V270.1M375.7,266.0V268.4M376.6,265.8V269.4M378.0,267.0V268.9M379.4,266.0V269.0M380.4,265.1V269.3M381.1,265.5V268.8M382.1,266.7V269.0M383.1,266.8V269.2M383.9,265.2V267.9M385.2,265.0V268.6M386.5,266.0V268.9M387.5,265.8V269.1M388.5,265.4V268.8M389.5,264.6V267.3M390.9,265.2V266.9M392.4,265.2V268.3M393.9,264.0V266.3M394.6,264.7V266.9M395.8,263.0V266.7M396.6,263.7V266.1M397.4,263.6V267.1M398.1,263.7V267.0M399.5,263.6V267.1M400.3,262.8V266.7M401.7,263.0V265.2M402.4,262.8V265.3M403.6,267.8V270.5M404.5,271.2V274.0M405.6,269.0V275.4M406.4,269.6V277.8M407.6,267.6V274.4M409.0,268.2V276.8M410.2,270.2V278.5M410.9,269.8V277.2M411.9,269.7V278.2M412.6,270.0V277.3M413.7,269.8V275.2M414.9,270.6V277.9M415.8,267.9V276.9M417.0,267.0V273.5M418.2,267.7V275.5M419.2,269.9V273.0M420.4,268.7V271.9M421.4,266.8V273.3M422.1,264.9V272.1M423.4,268.1V274.0M424.6,262.7V273.5M426.0,266.4V270.3M426.8,265.5V268.5M427.7,266.6V268.0M429.2,264.2V267.9M430.5,264.8V267.7M431.5,264.0V266.8M432.4,263.9V266.4M433.4,262.7V265.7M434.2,262.7V265.5M435.1,262.2V266.2M436.0,263.5V265.2M436.9,261.6V266.2M438.2,260.9V265.6M439.6,260.4V265.1M440.4,261.3V263.5M441.6,261.3V264.0M443.0,264.9V267.1M443.9,268.6V271.7M445.1,269.4V271.7M446.1,270.0V272.0M447.2,270.5V273.2M448.4,269.8V272.2M449.4,268.5V271.5M450.7,267.7V272.0M451.6,269.2V272.0M452.3,269.8V272.8M453.7,270.4V273.7M454.8,270.3V272.8M455.7,268.8V271.1M456.4,267.6V270.6M457.3,268.2V269.7M458.6,264.9V269.2M459.6,265.1V268.9M460.4,265.4V268.6M461.4,266.2V268.6M462.2,265.5V269.4M463.4,266.7V269.0M464.1,265.7V269.3M465.3,264.6V269.0M466.2,266.2V268.3M467.5,265.9V268.0M468.8,265.5V268.4M469.9,263.9V266.9M470.8,263.9V267.8M471.5,264.9V266.6M472.7,262.9V266.2M473.5,263.0V266.2M474.9,261.8V266.6M476.2,262.3V264.4M477.5,261.8V264.5M478.7,260.0V264.1M480.2,259.3V262.5M481.2,259.0V263.3M482.6,260.3V262.7M484.1,260.6V264.1M485.6,262.6V264.1M486.9,263.6V266.2M488.3,266.1V267.9M489.2,267.8V269.7M490.6,268.7V272.5M491.3,270.3V271.9M492.5,271.8V274.5M493.6,270.3V274.2M494.9,268.2V271.4M495.9,267.1V270.9M496.8,267.1V269.5M498.2,265.3V267.8M499.7,263.6V266.2M500.9,261.2V264.8M501.6,261.8V263.4M502.7,260.2V263.4M503.6,259.7V261.6M504.4,259.3V261.4M505.2,259.8V263.9M506.2,261.1V264.1M507.7,263.3V265.5M508.9,265.4V267.0M509.7,264.5V268.7M510.7,265.7V269.2M511.4,265.9V269.7M512.9,266.9V269.1M514.0,264.6V268.1M515.2,263.8V267.4M516.3,263.2V266.1M517.8,263.6V266.1M518.7,262.2V265.9M520.0,263.1V266.0M521.4,261.4V264.2M522.3,261.5V263.5M523.7,261.0V264.6M524.6,260.0V263.9M525.8,259.7V261.6M526.9,259.1V262.7M528.3,256.9V261.7M529.2,258.9V260.5M529.9,260.0V262.4M530.7,260.5V263.5M531.7,261.4V264.8M533.1,264.9V268.2M533.9,265.9V270.1M534.7,267.0V270.3M535.8,266.5V270.4M536.8,266.8V270.7M537.8,267.0V270.5M538.9,268.2V270.1M540.2,267.0V269.6" stroke="#2a2a2a" stroke-width="0.9" opacity="0.72" fill="none"/>
<polyline points="349.5,267.5 350.2,267.7 350.9,268.0 351.6,267.7 352.3,267.8 353.0,267.5 353.7,267.9 354.4,267.8 355.1,268.2 355.8,268.0 356.5,268.1 357.2,268.1 357.9,268.2 358.6,268.1 359.3,268.1 360.0,268.0 360.7,268.0 361.4,268.4 362.1,268.5 362.8,267.9 363.5,268.1 364.2,267.8 364.9,268.0 365.6,268.0 366.3,268.0 367.0,268.2 367.7,267.9 368.4,268.0 369.1,268.0 369.8,267.7 370.5,268.2 371.2,267.9 371.9,268.1 372.6,268.2 373.3,267.6 374.0,267.9 374.7,267.9 375.4,267.5 376.1,267.6 376.8,267.8 377.5,268.0 378.2,267.6 378.9,267.4 379.6,267.6 380.3,267.3 381.0,267.7 381.7,267.3 382.4,267.4 383.1,267.6 383.8,267.7 384.5,267.2 385.2,267.1 385.9,267.2 386.6,267.3 387.3,266.9 388.0,266.6 388.7,266.5 389.4,266.4 390.1,266.6 390.8,266.4 391.5,266.4 392.2,266.1 392.9,266.2 393.6,266.0 394.3,266.0 395.0,265.5 395.7,265.5 396.4,265.5 397.1,265.4 397.8,264.9 398.5,265.2 399.2,264.9 399.9,265.2 400.6,264.9 401.3,264.4 402.0,264.6 402.7,264.2 403.4,267.3 404.1,270.7 404.8,272.9 405.5,272.6 406.2,272.8 406.9,273.0 407.6,273.0 408.3,273.6 409.0,273.9 409.7,273.8 410.4,274.1 411.1,273.9 411.8,274.4 412.5,274.4 413.2,274.0 413.9,273.8 414.6,273.6 415.3,273.3 416.0,272.8 416.7,272.3 417.4,272.4 418.1,271.6 418.8,271.3 419.5,270.9 420.2,271.0 420.9,270.5 421.6,270.3 422.3,270.0 423.0,269.1 423.7,269.0 424.4,268.4 425.1,268.2 425.8,268.0 426.5,267.8 427.2,267.2 427.9,266.9 428.6,267.2 429.3,266.4 430.0,266.5 430.7,266.2 431.4,265.6 432.1,265.4 432.8,265.0 433.5,264.8 434.2,265.1 434.9,264.9 435.6,264.1 436.3,264.2 437.0,263.6 437.7,263.4 438.4,263.0 439.1,262.8 439.8,263.1 440.5,262.7 441.2,262.5 441.9,263.1 442.6,264.7 443.3,267.4 444.0,270.4 444.7,270.6 445.4,270.6 446.1,270.9 446.8,271.6 447.5,271.3 448.2,270.5 448.9,270.1 449.6,269.8 450.3,270.0 451.0,270.0 451.7,270.8 452.4,271.7 453.1,271.7 453.8,271.5 454.5,271.0 455.2,270.9 455.9,270.5 456.6,270.0 457.3,269.2 458.0,268.3 458.7,267.7 459.4,267.5 460.1,267.1 460.8,267.3 461.5,267.4 462.2,266.9 462.9,267.2 463.6,266.9 464.3,266.8 465.0,267.3 465.7,267.3 466.4,266.6 467.1,267.0 467.8,266.6 468.5,266.9 469.2,266.3 469.9,266.1 470.6,265.9 471.3,265.8 472.0,265.6 472.7,265.5 473.4,264.7 474.1,264.6 474.8,264.1 475.5,263.9 476.2,263.9 476.9,263.7 477.6,262.8 478.3,262.7 479.0,262.3 479.7,261.7 480.4,261.4 481.1,261.6 481.8,260.7 482.5,261.1 483.2,261.8 483.9,261.8 484.6,262.4 485.3,263.1 486.0,264.0 486.7,265.1 487.4,265.6 488.1,267.0 488.8,268.1 489.5,268.7 490.2,269.8 490.9,270.4 491.6,271.5 492.3,272.2 493.0,272.7 493.7,271.9 494.4,271.0 495.1,270.2 495.8,269.9 496.5,269.2 497.2,268.4 497.9,267.4 498.6,266.7 499.3,265.7 500.0,265.1 500.7,263.9 501.4,263.3 502.1,262.1 502.8,261.2 503.5,260.6 504.2,260.0 504.9,260.9 505.6,262.3 506.3,263.3 507.0,263.9 507.7,264.9 508.4,266.0 509.1,266.2 509.8,267.2 510.5,267.1 511.2,267.6 511.9,267.9 512.6,267.5 513.3,267.2 514.0,266.7 514.7,266.3 515.4,265.9 516.1,265.8 516.8,265.1 517.5,264.9 518.2,264.4 518.9,264.1 519.6,264.1 520.3,263.7 521.0,263.2 521.7,262.8 522.4,263.0 523.1,262.9 523.8,262.7 524.5,261.7 525.2,261.6 525.9,261.4 526.6,260.2 527.3,260.0 528.0,259.8 528.7,259.4 529.4,260.0 530.1,261.4 530.8,262.6 531.5,263.6 532.2,264.6 532.9,265.9 533.6,267.7 534.3,268.4 535.0,268.7 535.7,268.5 536.4,268.5 537.1,268.7 537.8,269.1 538.5,268.8 539.2,269.1 539.9,268.8 540.6,269.2" fill="none" stroke="#e8321e" stroke-width="1.35" stroke-linejoin="round"/>
<line x1="437.3" y1="270" x2="437.3" y2="353" stroke="#a8ace8" stroke-width="1.5"/>
<ellipse cx="437.3" cy="269.5" rx="1.4" ry="1.8" fill="#4a58c0"/>
<text transform="translate(360.5 225.5) scale(0.88 1)" font-size="12.5" text-anchor="middle" fill="#161616" >h)</text>
<text transform="translate(455.4 305.7) rotate(-90) scale(0.88 1)" font-size="12.5" text-anchor="middle" fill="#161616" >~4,3nm</text>
<text transform="translate(324 283.6) rotate(-90) scale(0.84 1)" font-size="12.5" text-anchor="middle" fill="#161616" >Height(nm)</text>
<text transform="translate(458 390.3) scale(0.81 1)" font-size="12.5" text-anchor="middle" fill="#161616" >Baseline(μm)</text>
<clipPath id="ci"><rect x="570.8" y="228.7" width="157.20000000000005" height="104.30000000000001"/></clipPath>
<g clip-path="url(#ci)"><rect x="570.8" y="228.7" width="157.20000000000005" height="104.30000000000001" fill="#4a5860"/>
<g filter="url(#blur15)"><rect x="571" y="229" width="5" height="5" fill="#4b5961"/><rect x="575" y="229" width="5" height="5" fill="#4c5a62"/><rect x="579" y="229" width="5" height="5" fill="#4f5e66"/><rect x="583" y="229" width="5" height="5" fill="#4b5961"/><rect x="587" y="229" width="5" height="5" fill="#4b5961"/><rect x="591" y="229" width="5" height="5" fill="#4a5860"/><rect x="595" y="229" width="5" height="5" fill="#445159"/><rect x="599" y="229" width="5" height="5" fill="#45535b"/><rect x="603" y="229" width="5" height="5" fill="#44515a"/><rect x="607" y="229" width="5" height="5" fill="#435159"/><rect x="611" y="229" width="5" height="5" fill="#3c4850"/><rect x="615" y="229" width="5" height="5" fill="#3c4850"/><rect x="619" y="229" width="5" height="5" fill="#38444b"/><rect x="623" y="229" width="5" height="5" fill="#3c4850"/><rect x="627" y="229" width="5" height="5" fill="#3b474f"/><rect x="631" y="229" width="5" height="5" fill="#364249"/><rect x="635" y="229" width="5" height="5" fill="#3d4a52"/><rect x="639" y="229" width="5" height="5" fill="#3d4952"/><rect x="643" y="229" width="5" height="5" fill="#3b474f"/><rect x="647" y="229" width="5" height="5" fill="#3a464f"/><rect x="651" y="229" width="5" height="5" fill="#37434a"/><rect x="655" y="229" width="5" height="5" fill="#364149"/><rect x="659" y="229" width="5" height="5" fill="#3a464e"/><rect x="663" y="229" width="5" height="5" fill="#364249"/><rect x="667" y="229" width="5" height="5" fill="#37434b"/><rect x="671" y="229" width="5" height="5" fill="#38434b"/><rect x="675" y="229" width="5" height="5" fill="#364249"/><rect x="679" y="229" width="5" height="5" fill="#39454d"/><rect x="683" y="229" width="5" height="5" fill="#39454d"/><rect x="687" y="229" width="5" height="5" fill="#3c4851"/><rect x="691" y="229" width="5" height="5" fill="#3a464e"/><rect x="695" y="229" width="5" height="5" fill="#3a474f"/><rect x="699" y="229" width="5" height="5" fill="#39454d"/><rect x="703" y="229" width="5" height="5" fill="#3b474f"/><rect x="707" y="229" width="5" height="5" fill="#39454d"/><rect x="711" y="229" width="5" height="5" fill="#38444b"/><rect x="715" y="229" width="5" height="5" fill="#3d4a52"/><rect x="719" y="229" width="5" height="5" fill="#3d4a52"/><rect x="723" y="229" width="5" height="5" fill="#3c4851"/><rect x="727" y="229" width="5" height="5" fill="#3b474f"/><rect x="571" y="233" width="5" height="5" fill="#4a585f"/><rect x="575" y="233" width="5" height="5" fill="#49575e"/><rect x="579" y="233" width="5" height="5" fill="#4a575f"/><rect x="583" y="233" width="5" height="5" fill="#48555c"/><rect x="587" y="233" width="5" height="5" fill="#4e5c64"/><rect x="591" y="233" width="5" height="5" fill="#48565e"/><rect x="595" y="233" width="5" height="5" fill="#4a5860"/><rect x="599" y="233" width="5" height="5" fill="#445159"/><rect x="603" y="233" width="5" height="5" fill="#47555d"/><rect x="607" y="233" width="5" height="5" fill="#44515a"/><rect x="611" y="233" width="5" height="5" fill="#3b474f"/><rect x="615" y="233" width="5" height="5" fill="#3b474f"/><rect x="619" y="233" width="5" height="5" fill="#3e4b53"/><rect x="623" y="233" width="5" height="5" fill="#39454d"/><rect x="627" y="233" width="5" height="5" fill="#3d4a52"/><rect x="631" y="233" width="5" height="5" fill="#39454d"/><rect x="635" y="233" width="5" height="5" fill="#37424a"/><rect x="639" y="233" width="5" height="5" fill="#3a474f"/><rect x="643" y="233" width="5" height="5" fill="#3b4850"/><rect x="647" y="233" width="5" height="5" fill="#38444b"/><rect x="651" y="233" width="5" height="5" fill="#37424a"/><rect x="655" y="233" width="5" height="5" fill="#38444c"/><rect x="659" y="233" width="5" height="5" fill="#3d4952"/><rect x="663" y="233" width="5" height="5" fill="#3b4850"/><rect x="667" y="233" width="5" height="5" fill="#37424a"/><rect x="671" y="233" width="5" height="5" fill="#38434b"/><rect x="675" y="233" width="5" height="5" fill="#37424a"/><rect x="679" y="233" width="5" height="5" fill="#364249"/><rect x="683" y="233" width="5" height="5" fill="#3c4850"/><rect x="687" y="233" width="5" height="5" fill="#37434a"/><rect x="691" y="233" width="5" height="5" fill="#3a464e"/><rect x="695" y="233" width="5" height="5" fill="#39454d"/><rect x="699" y="233" width="5" height="5" fill="#37434b"/><rect x="703" y="233" width="5" height="5" fill="#3b4750"/><rect x="707" y="233" width="5" height="5" fill="#37424a"/><rect x="711" y="233" width="5" height="5" fill="#3b474f"/><rect x="715" y="233" width="5" height="5" fill="#37424a"/><rect x="719" y="233" width="5" height="5" fill="#39454d"/><rect x="723" y="233" width="5" height="5" fill="#38434b"/><rect x="727" y="233" width="5" height="5" fill="#38444b"/><rect x="571" y="237" width="5" height="5" fill="#505f67"/><rect x="575" y="237" width="5" height="5" fill="#4e5d65"/><rect x="579" y="237" width="5" height="5" fill="#4a575f"/><rect x="583" y="237" width="5" height="5" fill="#4f5e66"/><rect x="587" y="237" width="5" height="5" fill="#48565e"/><rect x="591" y="237" width="5" height="5" fill="#48565e"/><rect x="595" y="237" width="5" height="5" fill="#4a5861"/><rect x="599" y="237" width="5" height="5" fill="#46545c"/><rect x="603" y="237" width="5" height="5" fill="#404c54"/><rect x="607" y="237" width="5" height="5" fill="#45535b"/><rect x="611" y="237" width="5" height="5" fill="#3d4951"/><rect x="615" y="237" width="5" height="5" fill="#3b474f"/><rect x="619" y="237" width="5" height="5" fill="#3d4a52"/><rect x="623" y="237" width="5" height="5" fill="#38444c"/><rect x="627" y="237" width="5" height="5" fill="#38444c"/><rect x="631" y="237" width="5" height="5" fill="#37424a"/><rect x="635" y="237" width="5" height="5" fill="#37424a"/><rect x="639" y="237" width="5" height="5" fill="#3a464e"/><rect x="643" y="237" width="5" height="5" fill="#38434b"/><rect x="647" y="237" width="5" height="5" fill="#3a464e"/><rect x="651" y="237" width="5" height="5" fill="#39444c"/><rect x="655" y="237" width="5" height="5" fill="#39454d"/><rect x="659" y="237" width="5" height="5" fill="#3d4952"/><rect x="663" y="237" width="5" height="5" fill="#39454d"/><rect x="667" y="237" width="5" height="5" fill="#3a464e"/><rect x="671" y="237" width="5" height="5" fill="#3c4951"/><rect x="675" y="237" width="5" height="5" fill="#37434b"/><rect x="679" y="237" width="5" height="5" fill="#37434a"/><rect x="683" y="237" width="5" height="5" fill="#3c4951"/><rect x="687" y="237" width="5" height="5" fill="#3c4850"/><rect x="691" y="237" width="5" height="5" fill="#38434b"/><rect x="695" y="237" width="5" height="5" fill="#37434b"/><rect x="699" y="237" width="5" height="5" fill="#3b4850"/><rect x="703" y="237" width="5" height="5" fill="#3d4952"/><rect x="707" y="237" width="5" height="5" fill="#37434b"/><rect x="711" y="237" width="5" height="5" fill="#3d4952"/><rect x="715" y="237" width="5" height="5" fill="#3c4951"/><rect x="719" y="237" width="5" height="5" fill="#3a464e"/><rect x="723" y="237" width="5" height="5" fill="#39454d"/><rect x="727" y="237" width="5" height="5" fill="#37424a"/><rect x="571" y="241" width="5" height="5" fill="#47555c"/><rect x="575" y="241" width="5" height="5" fill="#505e67"/><rect x="579" y="241" width="5" height="5" fill="#49575e"/><rect x="583" y="241" width="5" height="5" fill="#4d5c64"/><rect x="587" y="241" width="5" height="5" fill="#49565e"/><rect x="591" y="241" width="5" height="5" fill="#4c5a63"/><rect x="595" y="241" width="5" height="5" fill="#48565e"/><rect x="599" y="241" width="5" height="5" fill="#435058"/><rect x="603" y="241" width="5" height="5" fill="#404d55"/><rect x="607" y="241" width="5" height="5" fill="#435058"/><rect x="611" y="241" width="5" height="5" fill="#3c484f"/><rect x="615" y="241" width="5" height="5" fill="#3b474f"/><rect x="619" y="241" width="5" height="5" fill="#3c4850"/><rect x="623" y="241" width="5" height="5" fill="#3c4851"/><rect x="627" y="241" width="5" height="5" fill="#3a464f"/><rect x="631" y="241" width="5" height="5" fill="#38444b"/><rect x="635" y="241" width="5" height="5" fill="#3c4951"/><rect x="639" y="241" width="5" height="5" fill="#37434b"/><rect x="643" y="241" width="5" height="5" fill="#364149"/><rect x="647" y="241" width="5" height="5" fill="#38444b"/><rect x="651" y="241" width="5" height="5" fill="#39454d"/><rect x="655" y="241" width="5" height="5" fill="#364249"/><rect x="659" y="241" width="5" height="5" fill="#37434a"/><rect x="663" y="241" width="5" height="5" fill="#39444c"/><rect x="667" y="241" width="5" height="5" fill="#3a464e"/><rect x="671" y="241" width="5" height="5" fill="#37424a"/><rect x="675" y="241" width="5" height="5" fill="#39444c"/><rect x="679" y="241" width="5" height="5" fill="#3c4951"/><rect x="683" y="241" width="5" height="5" fill="#3d4a52"/><rect x="687" y="241" width="5" height="5" fill="#3b474f"/><rect x="691" y="241" width="5" height="5" fill="#3b474f"/><rect x="695" y="241" width="5" height="5" fill="#3a464e"/><rect x="699" y="241" width="5" height="5" fill="#37424a"/><rect x="703" y="241" width="5" height="5" fill="#364249"/><rect x="707" y="241" width="5" height="5" fill="#364149"/><rect x="711" y="241" width="5" height="5" fill="#3c4951"/><rect x="715" y="241" width="5" height="5" fill="#3b474f"/><rect x="719" y="241" width="5" height="5" fill="#3d4952"/><rect x="723" y="241" width="5" height="5" fill="#364149"/><rect x="727" y="241" width="5" height="5" fill="#3a474f"/><rect x="571" y="245" width="5" height="5" fill="#4b5961"/><rect x="575" y="245" width="5" height="5" fill="#4e5c64"/><rect x="579" y="245" width="5" height="5" fill="#4a585f"/><rect x="583" y="245" width="5" height="5" fill="#505f67"/><rect x="587" y="245" width="5" height="5" fill="#47545c"/><rect x="591" y="245" width="5" height="5" fill="#4a575f"/><rect x="595" y="245" width="5" height="5" fill="#49575f"/><rect x="599" y="245" width="5" height="5" fill="#48565f"/><rect x="603" y="245" width="5" height="5" fill="#45525b"/><rect x="607" y="245" width="5" height="5" fill="#435058"/><rect x="611" y="245" width="5" height="5" fill="#414e57"/><rect x="615" y="245" width="5" height="5" fill="#404d56"/><rect x="619" y="245" width="5" height="5" fill="#3a464e"/><rect x="623" y="245" width="5" height="5" fill="#3b474f"/><rect x="627" y="245" width="5" height="5" fill="#3c4951"/><rect x="631" y="245" width="5" height="5" fill="#3c4951"/><rect x="635" y="245" width="5" height="5" fill="#39454d"/><rect x="639" y="245" width="5" height="5" fill="#3c4850"/><rect x="643" y="245" width="5" height="5" fill="#3c4951"/><rect x="647" y="245" width="5" height="5" fill="#3a464e"/><rect x="651" y="245" width="5" height="5" fill="#3a474f"/><rect x="655" y="245" width="5" height="5" fill="#39454c"/><rect x="659" y="245" width="5" height="5" fill="#3a464e"/><rect x="663" y="245" width="5" height="5" fill="#3a464f"/><rect x="667" y="245" width="5" height="5" fill="#37424a"/><rect x="671" y="245" width="5" height="5" fill="#3a474f"/><rect x="675" y="245" width="5" height="5" fill="#3d4a52"/><rect x="679" y="245" width="5" height="5" fill="#3c4951"/><rect x="683" y="245" width="5" height="5" fill="#3b4750"/><rect x="687" y="245" width="5" height="5" fill="#39454c"/><rect x="691" y="245" width="5" height="5" fill="#3b4750"/><rect x="695" y="245" width="5" height="5" fill="#3a464e"/><rect x="699" y="245" width="5" height="5" fill="#39454d"/><rect x="703" y="245" width="5" height="5" fill="#3c4851"/><rect x="707" y="245" width="5" height="5" fill="#37424a"/><rect x="711" y="245" width="5" height="5" fill="#3b4850"/><rect x="715" y="245" width="5" height="5" fill="#364249"/><rect x="719" y="245" width="5" height="5" fill="#3a464e"/><rect x="723" y="245" width="5" height="5" fill="#39454d"/><rect x="727" y="245" width="5" height="5" fill="#38434b"/><rect x="571" y="249" width="5" height="5" fill="#4d5c64"/><rect x="575" y="249" width="5" height="5" fill="#4b5961"/><rect x="579" y="249" width="5" height="5" fill="#4d5b63"/><rect x="583" y="249" width="5" height="5" fill="#4f5e66"/><rect x="587" y="249" width="5" height="5" fill="#49565e"/><rect x="591" y="249" width="5" height="5" fill="#455259"/><rect x="595" y="249" width="5" height="5" fill="#45535a"/><rect x="599" y="249" width="5" height="5" fill="#47545c"/><rect x="603" y="249" width="5" height="5" fill="#414d55"/><rect x="607" y="249" width="5" height="5" fill="#3e4b53"/><rect x="611" y="249" width="5" height="5" fill="#424f58"/><rect x="615" y="249" width="5" height="5" fill="#3e4b53"/><rect x="619" y="249" width="5" height="5" fill="#3b474f"/><rect x="623" y="249" width="5" height="5" fill="#3c4951"/><rect x="627" y="249" width="5" height="5" fill="#38444c"/><rect x="631" y="249" width="5" height="5" fill="#3b474f"/><rect x="635" y="249" width="5" height="5" fill="#37434b"/><rect x="639" y="249" width="5" height="5" fill="#39454d"/><rect x="643" y="249" width="5" height="5" fill="#3c4850"/><rect x="647" y="249" width="5" height="5" fill="#3c4951"/><rect x="651" y="249" width="5" height="5" fill="#3c4951"/><rect x="655" y="249" width="5" height="5" fill="#39454c"/><rect x="659" y="249" width="5" height="5" fill="#3a464e"/><rect x="663" y="249" width="5" height="5" fill="#38444c"/><rect x="667" y="249" width="5" height="5" fill="#37424a"/><rect x="671" y="249" width="5" height="5" fill="#39454d"/><rect x="675" y="249" width="5" height="5" fill="#3c4851"/><rect x="679" y="249" width="5" height="5" fill="#3c4851"/><rect x="683" y="249" width="5" height="5" fill="#3b474f"/><rect x="687" y="249" width="5" height="5" fill="#3d4952"/><rect x="691" y="249" width="5" height="5" fill="#38444b"/><rect x="695" y="249" width="5" height="5" fill="#37434a"/><rect x="699" y="249" width="5" height="5" fill="#39454d"/><rect x="703" y="249" width="5" height="5" fill="#38444b"/><rect x="707" y="249" width="5" height="5" fill="#38434b"/><rect x="711" y="249" width="5" height="5" fill="#39454d"/><rect x="715" y="249" width="5" height="5" fill="#3a474f"/><rect x="719" y="249" width="5" height="5" fill="#39454d"/><rect x="723" y="249" width="5" height="5" fill="#38444c"/><rect x="727" y="249" width="5" height="5" fill="#3c4851"/><rect x="571" y="253" width="5" height="5" fill="#505f67"/><rect x="575" y="253" width="5" height="5" fill="#4b5961"/><rect x="579" y="253" width="5" height="5" fill="#48555c"/><rect x="583" y="253" width="5" height="5" fill="#47545c"/><rect x="587" y="253" width="5" height="5" fill="#4e5d65"/><rect x="591" y="253" width="5" height="5" fill="#45525a"/><rect x="595" y="253" width="5" height="5" fill="#49575f"/><rect x="599" y="253" width="5" height="5" fill="#46535b"/><rect x="603" y="253" width="5" height="5" fill="#424e56"/><rect x="607" y="253" width="5" height="5" fill="#435159"/><rect x="611" y="253" width="5" height="5" fill="#3b474f"/><rect x="615" y="253" width="5" height="5" fill="#3a464e"/><rect x="619" y="253" width="5" height="5" fill="#3b474f"/><rect x="623" y="253" width="5" height="5" fill="#364249"/><rect x="627" y="253" width="5" height="5" fill="#3c4851"/><rect x="631" y="253" width="5" height="5" fill="#38434b"/><rect x="635" y="253" width="5" height="5" fill="#37424a"/><rect x="639" y="253" width="5" height="5" fill="#364249"/><rect x="643" y="253" width="5" height="5" fill="#3a474f"/><rect x="647" y="253" width="5" height="5" fill="#39454d"/><rect x="651" y="253" width="5" height="5" fill="#3a474f"/><rect x="655" y="253" width="5" height="5" fill="#3b474f"/><rect x="659" y="253" width="5" height="5" fill="#3c4850"/><rect x="663" y="253" width="5" height="5" fill="#3d4952"/><rect x="667" y="253" width="5" height="5" fill="#3b474f"/><rect x="671" y="253" width="5" height="5" fill="#37434b"/><rect x="675" y="253" width="5" height="5" fill="#39454d"/><rect x="679" y="253" width="5" height="5" fill="#37434a"/><rect x="683" y="253" width="5" height="5" fill="#364149"/><rect x="687" y="253" width="5" height="5" fill="#39454d"/><rect x="691" y="253" width="5" height="5" fill="#3b4750"/><rect x="695" y="253" width="5" height="5" fill="#37434a"/><rect x="699" y="253" width="5" height="5" fill="#38444b"/><rect x="703" y="253" width="5" height="5" fill="#38444c"/><rect x="707" y="253" width="5" height="5" fill="#3b474f"/><rect x="711" y="253" width="5" height="5" fill="#3a464e"/><rect x="715" y="253" width="5" height="5" fill="#3a464f"/><rect x="719" y="253" width="5" height="5" fill="#3b4850"/><rect x="723" y="253" width="5" height="5" fill="#39454d"/><rect x="727" y="253" width="5" height="5" fill="#3c4850"/><rect x="571" y="257" width="5" height="5" fill="#4f5e66"/><rect x="575" y="257" width="5" height="5" fill="#48555d"/><rect x="579" y="257" width="5" height="5" fill="#4f5e67"/><rect x="583" y="257" width="5" height="5" fill="#4e5c64"/><rect x="587" y="257" width="5" height="5" fill="#48555d"/><rect x="591" y="257" width="5" height="5" fill="#49565e"/><rect x="595" y="257" width="5" height="5" fill="#48565e"/><rect x="599" y="257" width="5" height="5" fill="#49565f"/><rect x="603" y="257" width="5" height="5" fill="#424f57"/><rect x="607" y="257" width="5" height="5" fill="#424f57"/><rect x="611" y="257" width="5" height="5" fill="#424f58"/><rect x="615" y="257" width="5" height="5" fill="#3f4c54"/><rect x="619" y="257" width="5" height="5" fill="#3e4b54"/><rect x="623" y="257" width="5" height="5" fill="#39454d"/><rect x="627" y="257" width="5" height="5" fill="#3b474f"/><rect x="631" y="257" width="5" height="5" fill="#37434b"/><rect x="635" y="257" width="5" height="5" fill="#3b4750"/><rect x="639" y="257" width="5" height="5" fill="#3c4850"/><rect x="643" y="257" width="5" height="5" fill="#3a474f"/><rect x="647" y="257" width="5" height="5" fill="#3b4750"/><rect x="651" y="257" width="5" height="5" fill="#38434b"/><rect x="655" y="257" width="5" height="5" fill="#3c4951"/><rect x="659" y="257" width="5" height="5" fill="#3d4a52"/><rect x="663" y="257" width="5" height="5" fill="#3d4a52"/><rect x="667" y="257" width="5" height="5" fill="#3a464e"/><rect x="671" y="257" width="5" height="5" fill="#3c4850"/><rect x="675" y="257" width="5" height="5" fill="#38444c"/><rect x="679" y="257" width="5" height="5" fill="#3c4951"/><rect x="683" y="257" width="5" height="5" fill="#3c4851"/><rect x="687" y="257" width="5" height="5" fill="#38444c"/><rect x="691" y="257" width="5" height="5" fill="#37424a"/><rect x="695" y="257" width="5" height="5" fill="#39454d"/><rect x="699" y="257" width="5" height="5" fill="#3a464e"/><rect x="703" y="257" width="5" height="5" fill="#3b4850"/><rect x="707" y="257" width="5" height="5" fill="#39454d"/><rect x="711" y="257" width="5" height="5" fill="#364249"/><rect x="715" y="257" width="5" height="5" fill="#3c4850"/><rect x="719" y="257" width="5" height="5" fill="#364249"/><rect x="723" y="257" width="5" height="5" fill="#3c4850"/><rect x="727" y="257" width="5" height="5" fill="#37434a"/><rect x="571" y="261" width="5" height="5" fill="#4a5860"/><rect x="575" y="261" width="5" height="5" fill="#4e5d65"/><rect x="579" y="261" width="5" height="5" fill="#48565d"/><rect x="583" y="261" width="5" height="5" fill="#48565d"/><rect x="587" y="261" width="5" height="5" fill="#4b5961"/><rect x="591" y="261" width="5" height="5" fill="#4b5961"/><rect x="595" y="261" width="5" height="5" fill="#4a5860"/><rect x="599" y="261" width="5" height="5" fill="#47545c"/><rect x="603" y="261" width="5" height="5" fill="#47545d"/><rect x="607" y="261" width="5" height="5" fill="#414e56"/><rect x="611" y="261" width="5" height="5" fill="#435058"/><rect x="615" y="261" width="5" height="5" fill="#3a464d"/><rect x="619" y="261" width="5" height="5" fill="#39454d"/><rect x="623" y="261" width="5" height="5" fill="#3a464e"/><rect x="627" y="261" width="5" height="5" fill="#38444c"/><rect x="631" y="261" width="5" height="5" fill="#3b4750"/><rect x="635" y="261" width="5" height="5" fill="#3a474f"/><rect x="639" y="261" width="5" height="5" fill="#3a464e"/><rect x="643" y="261" width="5" height="5" fill="#3c4851"/><rect x="647" y="261" width="5" height="5" fill="#3a464e"/><rect x="651" y="261" width="5" height="5" fill="#38444c"/><rect x="655" y="261" width="5" height="5" fill="#39454c"/><rect x="659" y="261" width="5" height="5" fill="#3c4851"/><rect x="663" y="261" width="5" height="5" fill="#3c4951"/><rect x="667" y="261" width="5" height="5" fill="#37434b"/><rect x="671" y="261" width="5" height="5" fill="#3c4851"/><rect x="675" y="261" width="5" height="5" fill="#3d4952"/><rect x="679" y="261" width="5" height="5" fill="#3a464e"/><rect x="683" y="261" width="5" height="5" fill="#3a464e"/><rect x="687" y="261" width="5" height="5" fill="#37434b"/><rect x="691" y="261" width="5" height="5" fill="#3a464e"/><rect x="695" y="261" width="5" height="5" fill="#3a464e"/><rect x="699" y="261" width="5" height="5" fill="#3a464e"/><rect x="703" y="261" width="5" height="5" fill="#364249"/><rect x="707" y="261" width="5" height="5" fill="#3d4952"/><rect x="711" y="261" width="5" height="5" fill="#3a464e"/><rect x="715" y="261" width="5" height="5" fill="#39454d"/><rect x="719" y="261" width="5" height="5" fill="#3c4850"/><rect x="723" y="261" width="5" height="5" fill="#3a464e"/><rect x="727" y="261" width="5" height="5" fill="#39454d"/><rect x="571" y="265" width="5" height="5" fill="#4d5c64"/><rect x="575" y="265" width="5" height="5" fill="#48555c"/><rect x="579" y="265" width="5" height="5" fill="#4c5a62"/><rect x="583" y="265" width="5" height="5" fill="#4b5960"/><rect x="587" y="265" width="5" height="5" fill="#4f5e66"/><rect x="591" y="265" width="5" height="5" fill="#4d5b64"/><rect x="595" y="265" width="5" height="5" fill="#45525a"/><rect x="599" y="265" width="5" height="5" fill="#45525a"/><rect x="603" y="265" width="5" height="5" fill="#404d54"/><rect x="607" y="265" width="5" height="5" fill="#414d55"/><rect x="611" y="265" width="5" height="5" fill="#424f57"/><rect x="615" y="265" width="5" height="5" fill="#404d55"/><rect x="619" y="265" width="5" height="5" fill="#3b474f"/><rect x="623" y="265" width="5" height="5" fill="#38444c"/><rect x="627" y="265" width="5" height="5" fill="#37434b"/><rect x="631" y="265" width="5" height="5" fill="#3a464f"/><rect x="635" y="265" width="5" height="5" fill="#3c4951"/><rect x="639" y="265" width="5" height="5" fill="#37424a"/><rect x="643" y="265" width="5" height="5" fill="#3b4850"/><rect x="647" y="265" width="5" height="5" fill="#364149"/><rect x="651" y="265" width="5" height="5" fill="#37434b"/><rect x="655" y="265" width="5" height="5" fill="#38434b"/><rect x="659" y="265" width="5" height="5" fill="#3b474f"/><rect x="663" y="265" width="5" height="5" fill="#38444c"/><rect x="667" y="265" width="5" height="5" fill="#38444c"/><rect x="671" y="265" width="5" height="5" fill="#3a474f"/><rect x="675" y="265" width="5" height="5" fill="#37424a"/><rect x="679" y="265" width="5" height="5" fill="#3b4750"/><rect x="683" y="265" width="5" height="5" fill="#37424a"/><rect x="687" y="265" width="5" height="5" fill="#3a464e"/><rect x="691" y="265" width="5" height="5" fill="#38434b"/><rect x="695" y="265" width="5" height="5" fill="#37434b"/><rect x="699" y="265" width="5" height="5" fill="#3a464e"/><rect x="703" y="265" width="5" height="5" fill="#39454d"/><rect x="707" y="265" width="5" height="5" fill="#39444c"/><rect x="711" y="265" width="5" height="5" fill="#39454d"/><rect x="715" y="265" width="5" height="5" fill="#3a464e"/><rect x="719" y="265" width="5" height="5" fill="#37434a"/><rect x="723" y="265" width="5" height="5" fill="#37434b"/><rect x="727" y="265" width="5" height="5" fill="#3a474f"/><rect x="571" y="269" width="5" height="5" fill="#4d5b63"/><rect x="575" y="269" width="5" height="5" fill="#4c5a62"/><rect x="579" y="269" width="5" height="5" fill="#4f5d66"/><rect x="583" y="269" width="5" height="5" fill="#4d5b63"/><rect x="587" y="269" width="5" height="5" fill="#4e5d65"/><rect x="591" y="269" width="5" height="5" fill="#47545c"/><rect x="595" y="269" width="5" height="5" fill="#49575f"/><rect x="599" y="269" width="5" height="5" fill="#48555e"/><rect x="603" y="269" width="5" height="5" fill="#46545c"/><rect x="607" y="269" width="5" height="5" fill="#404c54"/><rect x="611" y="269" width="5" height="5" fill="#3e4a52"/><rect x="615" y="269" width="5" height="5" fill="#404d56"/><rect x="619" y="269" width="5" height="5" fill="#39454d"/><rect x="623" y="269" width="5" height="5" fill="#3d4a52"/><rect x="627" y="269" width="5" height="5" fill="#3c4951"/><rect x="631" y="269" width="5" height="5" fill="#37424a"/><rect x="635" y="269" width="5" height="5" fill="#38434b"/><rect x="639" y="269" width="5" height="5" fill="#3b4750"/><rect x="643" y="269" width="5" height="5" fill="#38434b"/><rect x="647" y="269" width="5" height="5" fill="#37424a"/><rect x="651" y="269" width="5" height="5" fill="#3c4851"/><rect x="655" y="269" width="5" height="5" fill="#39454d"/><rect x="659" y="269" width="5" height="5" fill="#3c4850"/><rect x="663" y="269" width="5" height="5" fill="#37424a"/><rect x="667" y="269" width="5" height="5" fill="#39454d"/><rect x="671" y="269" width="5" height="5" fill="#3b474f"/><rect x="675" y="269" width="5" height="5" fill="#364149"/><rect x="679" y="269" width="5" height="5" fill="#37434b"/><rect x="683" y="269" width="5" height="5" fill="#3b474f"/><rect x="687" y="269" width="5" height="5" fill="#3c4951"/><rect x="691" y="269" width="5" height="5" fill="#3d4952"/><rect x="695" y="269" width="5" height="5" fill="#37424a"/><rect x="699" y="269" width="5" height="5" fill="#3a464e"/><rect x="703" y="269" width="5" height="5" fill="#3b4850"/><rect x="707" y="269" width="5" height="5" fill="#3a464e"/><rect x="711" y="269" width="5" height="5" fill="#3b474f"/><rect x="715" y="269" width="5" height="5" fill="#37434b"/><rect x="719" y="269" width="5" height="5" fill="#374249"/><rect x="723" y="269" width="5" height="5" fill="#37424a"/><rect x="727" y="269" width="5" height="5" fill="#364249"/><rect x="571" y="273" width="5" height="5" fill="#4c5a62"/><rect x="575" y="273" width="5" height="5" fill="#4c5a62"/><rect x="579" y="273" width="5" height="5" fill="#4c5a62"/><rect x="583" y="273" width="5" height="5" fill="#48565d"/><rect x="587" y="273" width="5" height="5" fill="#48565d"/><rect x="591" y="273" width="5" height="5" fill="#46545b"/><rect x="595" y="273" width="5" height="5" fill="#4a5860"/><rect x="599" y="273" width="5" height="5" fill="#495760"/><rect x="603" y="273" width="5" height="5" fill="#47545d"/><rect x="607" y="273" width="5" height="5" fill="#3e4a52"/><rect x="611" y="273" width="5" height="5" fill="#3c484f"/><rect x="615" y="273" width="5" height="5" fill="#404e56"/><rect x="619" y="273" width="5" height="5" fill="#3b474f"/><rect x="623" y="273" width="5" height="5" fill="#3b4850"/><rect x="627" y="273" width="5" height="5" fill="#38444c"/><rect x="631" y="273" width="5" height="5" fill="#39454d"/><rect x="635" y="273" width="5" height="5" fill="#3a464e"/><rect x="639" y="273" width="5" height="5" fill="#39454d"/><rect x="643" y="273" width="5" height="5" fill="#3a464e"/><rect x="647" y="273" width="5" height="5" fill="#364149"/><rect x="651" y="273" width="5" height="5" fill="#3b474f"/><rect x="655" y="273" width="5" height="5" fill="#3c4851"/><rect x="659" y="273" width="5" height="5" fill="#37434b"/><rect x="663" y="273" width="5" height="5" fill="#39454d"/><rect x="667" y="273" width="5" height="5" fill="#3b4850"/><rect x="671" y="273" width="5" height="5" fill="#39454d"/><rect x="675" y="273" width="5" height="5" fill="#37434b"/><rect x="679" y="273" width="5" height="5" fill="#37434a"/><rect x="683" y="273" width="5" height="5" fill="#3a464e"/><rect x="687" y="273" width="5" height="5" fill="#364149"/><rect x="691" y="273" width="5" height="5" fill="#3c4951"/><rect x="695" y="273" width="5" height="5" fill="#3c4850"/><rect x="699" y="273" width="5" height="5" fill="#3b474f"/><rect x="703" y="273" width="5" height="5" fill="#3c4951"/><rect x="707" y="273" width="5" height="5" fill="#3a474f"/><rect x="711" y="273" width="5" height="5" fill="#39454d"/><rect x="715" y="273" width="5" height="5" fill="#3a464e"/><rect x="719" y="273" width="5" height="5" fill="#3a464e"/><rect x="723" y="273" width="5" height="5" fill="#3d4a52"/><rect x="727" y="273" width="5" height="5" fill="#3c4850"/><rect x="571" y="277" width="5" height="5" fill="#49575f"/><rect x="575" y="277" width="5" height="5" fill="#4f5e66"/><rect x="579" y="277" width="5" height="5" fill="#4e5c64"/><rect x="583" y="277" width="5" height="5" fill="#4e5d65"/><rect x="587" y="277" width="5" height="5" fill="#4e5c65"/><rect x="591" y="277" width="5" height="5" fill="#48565e"/><rect x="595" y="277" width="5" height="5" fill="#4b5961"/><rect x="599" y="277" width="5" height="5" fill="#48565f"/><rect x="603" y="277" width="5" height="5" fill="#45525a"/><rect x="607" y="277" width="5" height="5" fill="#435059"/><rect x="611" y="277" width="5" height="5" fill="#414e56"/><rect x="615" y="277" width="5" height="5" fill="#3c4951"/><rect x="619" y="277" width="5" height="5" fill="#3d4951"/><rect x="623" y="277" width="5" height="5" fill="#374249"/><rect x="627" y="277" width="5" height="5" fill="#38444c"/><rect x="631" y="277" width="5" height="5" fill="#39454d"/><rect x="635" y="277" width="5" height="5" fill="#364149"/><rect x="639" y="277" width="5" height="5" fill="#38444c"/><rect x="643" y="277" width="5" height="5" fill="#3a474f"/><rect x="647" y="277" width="5" height="5" fill="#3a474f"/><rect x="651" y="277" width="5" height="5" fill="#38434b"/><rect x="655" y="277" width="5" height="5" fill="#3d4952"/><rect x="659" y="277" width="5" height="5" fill="#3b474f"/><rect x="663" y="277" width="5" height="5" fill="#38444c"/><rect x="667" y="277" width="5" height="5" fill="#3b474f"/><rect x="671" y="277" width="5" height="5" fill="#3a464e"/><rect x="675" y="277" width="5" height="5" fill="#3a464e"/><rect x="679" y="277" width="5" height="5" fill="#39454c"/><rect x="683" y="277" width="5" height="5" fill="#3d4a52"/><rect x="687" y="277" width="5" height="5" fill="#3a474f"/><rect x="691" y="277" width="5" height="5" fill="#3b474f"/><rect x="695" y="277" width="5" height="5" fill="#3b4850"/><rect x="699" y="277" width="5" height="5" fill="#3d4a52"/><rect x="703" y="277" width="5" height="5" fill="#364149"/><rect x="707" y="277" width="5" height="5" fill="#3a464f"/><rect x="711" y="277" width="5" height="5" fill="#3b4850"/><rect x="715" y="277" width="5" height="5" fill="#38434b"/><rect x="719" y="277" width="5" height="5" fill="#39454d"/><rect x="723" y="277" width="5" height="5" fill="#364249"/><rect x="727" y="277" width="5" height="5" fill="#37434b"/><rect x="571" y="281" width="5" height="5" fill="#4a5860"/><rect x="575" y="281" width="5" height="5" fill="#48555d"/><rect x="579" y="281" width="5" height="5" fill="#49575f"/><rect x="583" y="281" width="5" height="5" fill="#4f5e66"/><rect x="587" y="281" width="5" height="5" fill="#4c5a62"/><rect x="591" y="281" width="5" height="5" fill="#49575f"/><rect x="595" y="281" width="5" height="5" fill="#4b5962"/><rect x="599" y="281" width="5" height="5" fill="#46535b"/><rect x="603" y="281" width="5" height="5" fill="#47555d"/><rect x="607" y="281" width="5" height="5" fill="#424f57"/><rect x="611" y="281" width="5" height="5" fill="#414f57"/><rect x="615" y="281" width="5" height="5" fill="#3a464d"/><rect x="619" y="281" width="5" height="5" fill="#3c4850"/><rect x="623" y="281" width="5" height="5" fill="#3b4850"/><rect x="627" y="281" width="5" height="5" fill="#364249"/><rect x="631" y="281" width="5" height="5" fill="#3c4952"/><rect x="635" y="281" width="5" height="5" fill="#37434a"/><rect x="639" y="281" width="5" height="5" fill="#39454d"/><rect x="643" y="281" width="5" height="5" fill="#37434a"/><rect x="647" y="281" width="5" height="5" fill="#39454d"/><rect x="651" y="281" width="5" height="5" fill="#3a464f"/><rect x="655" y="281" width="5" height="5" fill="#364249"/><rect x="659" y="281" width="5" height="5" fill="#3d4952"/><rect x="663" y="281" width="5" height="5" fill="#39454d"/><rect x="667" y="281" width="5" height="5" fill="#3a464e"/><rect x="671" y="281" width="5" height="5" fill="#3a464e"/><rect x="675" y="281" width="5" height="5" fill="#39444c"/><rect x="679" y="281" width="5" height="5" fill="#38444b"/><rect x="683" y="281" width="5" height="5" fill="#3b474f"/><rect x="687" y="281" width="5" height="5" fill="#3a464e"/><rect x="691" y="281" width="5" height="5" fill="#38444b"/><rect x="695" y="281" width="5" height="5" fill="#3b4750"/><rect x="699" y="281" width="5" height="5" fill="#38444c"/><rect x="703" y="281" width="5" height="5" fill="#364149"/><rect x="707" y="281" width="5" height="5" fill="#38434b"/><rect x="711" y="281" width="5" height="5" fill="#364249"/><rect x="715" y="281" width="5" height="5" fill="#37434a"/><rect x="719" y="281" width="5" height="5" fill="#3b4850"/><rect x="723" y="281" width="5" height="5" fill="#39454c"/><rect x="727" y="281" width="5" height="5" fill="#3c4951"/><rect x="571" y="285" width="5" height="5" fill="#4e5c64"/><rect x="575" y="285" width="5" height="5" fill="#47555c"/><rect x="579" y="285" width="5" height="5" fill="#505f67"/><rect x="583" y="285" width="5" height="5" fill="#505e67"/><rect x="587" y="285" width="5" height="5" fill="#47545c"/><rect x="591" y="285" width="5" height="5" fill="#4d5b63"/><rect x="595" y="285" width="5" height="5" fill="#46545c"/><rect x="599" y="285" width="5" height="5" fill="#45525a"/><rect x="603" y="285" width="5" height="5" fill="#47555d"/><rect x="607" y="285" width="5" height="5" fill="#3f4c53"/><rect x="611" y="285" width="5" height="5" fill="#3f4c54"/><rect x="615" y="285" width="5" height="5" fill="#404d56"/><rect x="619" y="285" width="5" height="5" fill="#3d4951"/><rect x="623" y="285" width="5" height="5" fill="#39454d"/><rect x="627" y="285" width="5" height="5" fill="#3d4a52"/><rect x="631" y="285" width="5" height="5" fill="#3c4850"/><rect x="635" y="285" width="5" height="5" fill="#3a464e"/><rect x="639" y="285" width="5" height="5" fill="#37424a"/><rect x="643" y="285" width="5" height="5" fill="#3a474f"/><rect x="647" y="285" width="5" height="5" fill="#39454d"/><rect x="651" y="285" width="5" height="5" fill="#37434b"/><rect x="655" y="285" width="5" height="5" fill="#364249"/><rect x="659" y="285" width="5" height="5" fill="#3a464e"/><rect x="663" y="285" width="5" height="5" fill="#37424a"/><rect x="667" y="285" width="5" height="5" fill="#39454d"/><rect x="671" y="285" width="5" height="5" fill="#3b474f"/><rect x="675" y="285" width="5" height="5" fill="#39454d"/><rect x="679" y="285" width="5" height="5" fill="#38444b"/><rect x="683" y="285" width="5" height="5" fill="#3a464e"/><rect x="687" y="285" width="5" height="5" fill="#39454d"/><rect x="691" y="285" width="5" height="5" fill="#3b4850"/><rect x="695" y="285" width="5" height="5" fill="#3a464e"/><rect x="699" y="285" width="5" height="5" fill="#3d4a52"/><rect x="703" y="285" width="5" height="5" fill="#3d4952"/><rect x="707" y="285" width="5" height="5" fill="#3b4750"/><rect x="711" y="285" width="5" height="5" fill="#38434b"/><rect x="715" y="285" width="5" height="5" fill="#37424a"/><rect x="719" y="285" width="5" height="5" fill="#3c4951"/><rect x="723" y="285" width="5" height="5" fill="#3b4850"/><rect x="727" y="285" width="5" height="5" fill="#3a474f"/><rect x="571" y="289" width="5" height="5" fill="#4a5860"/><rect x="575" y="289" width="5" height="5" fill="#49575f"/><rect x="579" y="289" width="5" height="5" fill="#4d5b64"/><rect x="583" y="289" width="5" height="5" fill="#4c5a62"/><rect x="587" y="289" width="5" height="5" fill="#4c5a62"/><rect x="591" y="289" width="5" height="5" fill="#4a5860"/><rect x="595" y="289" width="5" height="5" fill="#49575f"/><rect x="599" y="289" width="5" height="5" fill="#434f57"/><rect x="603" y="289" width="5" height="5" fill="#414e55"/><rect x="607" y="289" width="5" height="5" fill="#45525b"/><rect x="611" y="289" width="5" height="5" fill="#425058"/><rect x="615" y="289" width="5" height="5" fill="#404d55"/><rect x="619" y="289" width="5" height="5" fill="#38434b"/><rect x="623" y="289" width="5" height="5" fill="#364249"/><rect x="627" y="289" width="5" height="5" fill="#38444b"/><rect x="631" y="289" width="5" height="5" fill="#39454d"/><rect x="635" y="289" width="5" height="5" fill="#3a474f"/><rect x="639" y="289" width="5" height="5" fill="#37424a"/><rect x="643" y="289" width="5" height="5" fill="#3a464e"/><rect x="647" y="289" width="5" height="5" fill="#374249"/><rect x="651" y="289" width="5" height="5" fill="#37424a"/><rect x="655" y="289" width="5" height="5" fill="#3b474f"/><rect x="659" y="289" width="5" height="5" fill="#3a464e"/><rect x="663" y="289" width="5" height="5" fill="#3a474f"/><rect x="667" y="289" width="5" height="5" fill="#39444c"/><rect x="671" y="289" width="5" height="5" fill="#39454d"/><rect x="675" y="289" width="5" height="5" fill="#37434b"/><rect x="679" y="289" width="5" height="5" fill="#38444c"/><rect x="683" y="289" width="5" height="5" fill="#3b4850"/><rect x="687" y="289" width="5" height="5" fill="#3c4851"/><rect x="691" y="289" width="5" height="5" fill="#37424a"/><rect x="695" y="289" width="5" height="5" fill="#37424a"/><rect x="699" y="289" width="5" height="5" fill="#3c4850"/><rect x="703" y="289" width="5" height="5" fill="#3a474f"/><rect x="707" y="289" width="5" height="5" fill="#3b4850"/><rect x="711" y="289" width="5" height="5" fill="#38434b"/><rect x="715" y="289" width="5" height="5" fill="#39454d"/><rect x="719" y="289" width="5" height="5" fill="#38434b"/><rect x="723" y="289" width="5" height="5" fill="#3c4850"/><rect x="727" y="289" width="5" height="5" fill="#39444c"/><rect x="571" y="293" width="5" height="5" fill="#4d5b63"/><rect x="575" y="293" width="5" height="5" fill="#505f67"/><rect x="579" y="293" width="5" height="5" fill="#4a585f"/><rect x="583" y="293" width="5" height="5" fill="#4c5a62"/><rect x="587" y="293" width="5" height="5" fill="#4d5c64"/><rect x="591" y="293" width="5" height="5" fill="#4d5b64"/><rect x="595" y="293" width="5" height="5" fill="#46545c"/><rect x="599" y="293" width="5" height="5" fill="#445159"/><rect x="603" y="293" width="5" height="5" fill="#404c54"/><rect x="607" y="293" width="5" height="5" fill="#44515a"/><rect x="611" y="293" width="5" height="5" fill="#3c484f"/><rect x="615" y="293" width="5" height="5" fill="#3a464d"/><rect x="619" y="293" width="5" height="5" fill="#3c4850"/><rect x="623" y="293" width="5" height="5" fill="#39454d"/><rect x="627" y="293" width="5" height="5" fill="#3b474f"/><rect x="631" y="293" width="5" height="5" fill="#38444c"/><rect x="635" y="293" width="5" height="5" fill="#3b4850"/><rect x="639" y="293" width="5" height="5" fill="#37424a"/><rect x="643" y="293" width="5" height="5" fill="#38434b"/><rect x="647" y="293" width="5" height="5" fill="#3b474f"/><rect x="651" y="293" width="5" height="5" fill="#37424a"/><rect x="655" y="293" width="5" height="5" fill="#38444c"/><rect x="659" y="293" width="5" height="5" fill="#3b4750"/><rect x="663" y="293" width="5" height="5" fill="#3b474f"/><rect x="667" y="293" width="5" height="5" fill="#38444b"/><rect x="671" y="293" width="5" height="5" fill="#37434a"/><rect x="675" y="293" width="5" height="5" fill="#39444c"/><rect x="679" y="293" width="5" height="5" fill="#3b4750"/><rect x="683" y="293" width="5" height="5" fill="#39444c"/><rect x="687" y="293" width="5" height="5" fill="#37424a"/><rect x="691" y="293" width="5" height="5" fill="#3b474f"/><rect x="695" y="293" width="5" height="5" fill="#3a464e"/><rect x="699" y="293" width="5" height="5" fill="#3c4951"/><rect x="703" y="293" width="5" height="5" fill="#3d4952"/><rect x="707" y="293" width="5" height="5" fill="#3c4951"/><rect x="711" y="293" width="5" height="5" fill="#39454d"/><rect x="715" y="293" width="5" height="5" fill="#3c4850"/><rect x="719" y="293" width="5" height="5" fill="#38444c"/><rect x="723" y="293" width="5" height="5" fill="#38444c"/><rect x="727" y="293" width="5" height="5" fill="#39454d"/><rect x="571" y="297" width="5" height="5" fill="#4f5e67"/><rect x="575" y="297" width="5" height="5" fill="#4f5e66"/><rect x="579" y="297" width="5" height="5" fill="#49575f"/><rect x="583" y="297" width="5" height="5" fill="#4a5860"/><rect x="587" y="297" width="5" height="5" fill="#4a585f"/><rect x="591" y="297" width="5" height="5" fill="#48555d"/><rect x="595" y="297" width="5" height="5" fill="#46545b"/><rect x="599" y="297" width="5" height="5" fill="#445159"/><rect x="603" y="297" width="5" height="5" fill="#414d55"/><rect x="607" y="297" width="5" height="5" fill="#424f57"/><rect x="611" y="297" width="5" height="5" fill="#414e57"/><rect x="615" y="297" width="5" height="5" fill="#3d4a52"/><rect x="619" y="297" width="5" height="5" fill="#3e4a52"/><rect x="623" y="297" width="5" height="5" fill="#3a464e"/><rect x="627" y="297" width="5" height="5" fill="#37434a"/><rect x="631" y="297" width="5" height="5" fill="#3b4850"/><rect x="635" y="297" width="5" height="5" fill="#3c4951"/><rect x="639" y="297" width="5" height="5" fill="#38444b"/><rect x="643" y="297" width="5" height="5" fill="#364149"/><rect x="647" y="297" width="5" height="5" fill="#3a464e"/><rect x="651" y="297" width="5" height="5" fill="#3a464e"/><rect x="655" y="297" width="5" height="5" fill="#3a464e"/><rect x="659" y="297" width="5" height="5" fill="#3d4952"/><rect x="663" y="297" width="5" height="5" fill="#3b474f"/><rect x="667" y="297" width="5" height="5" fill="#3c4850"/><rect x="671" y="297" width="5" height="5" fill="#364249"/><rect x="675" y="297" width="5" height="5" fill="#3a464e"/><rect x="679" y="297" width="5" height="5" fill="#3c4850"/><rect x="683" y="297" width="5" height="5" fill="#37424a"/><rect x="687" y="297" width="5" height="5" fill="#37424a"/><rect x="691" y="297" width="5" height="5" fill="#3b4750"/><rect x="695" y="297" width="5" height="5" fill="#3c4951"/><rect x="699" y="297" width="5" height="5" fill="#37424a"/><rect x="703" y="297" width="5" height="5" fill="#3a474f"/><rect x="707" y="297" width="5" height="5" fill="#37434a"/><rect x="711" y="297" width="5" height="5" fill="#3b4850"/><rect x="715" y="297" width="5" height="5" fill="#3b474f"/><rect x="719" y="297" width="5" height="5" fill="#38434b"/><rect x="723" y="297" width="5" height="5" fill="#38434b"/><rect x="727" y="297" width="5" height="5" fill="#3b4850"/><rect x="571" y="301" width="5" height="5" fill="#4c5a62"/><rect x="575" y="301" width="5" height="5" fill="#4e5c65"/><rect x="579" y="301" width="5" height="5" fill="#4b5860"/><rect x="583" y="301" width="5" height="5" fill="#4a5860"/><rect x="587" y="301" width="5" height="5" fill="#4f5e67"/><rect x="591" y="301" width="5" height="5" fill="#4b5961"/><rect x="595" y="301" width="5" height="5" fill="#47555d"/><rect x="599" y="301" width="5" height="5" fill="#45535b"/><rect x="603" y="301" width="5" height="5" fill="#45525b"/><rect x="607" y="301" width="5" height="5" fill="#435058"/><rect x="611" y="301" width="5" height="5" fill="#425058"/><rect x="615" y="301" width="5" height="5" fill="#3c4951"/><rect x="619" y="301" width="5" height="5" fill="#3d4a52"/><rect x="623" y="301" width="5" height="5" fill="#3b474f"/><rect x="627" y="301" width="5" height="5" fill="#3c4851"/><rect x="631" y="301" width="5" height="5" fill="#3c4850"/><rect x="635" y="301" width="5" height="5" fill="#3c4851"/><rect x="639" y="301" width="5" height="5" fill="#3c4951"/><rect x="643" y="301" width="5" height="5" fill="#3d4952"/><rect x="647" y="301" width="5" height="5" fill="#3a474f"/><rect x="651" y="301" width="5" height="5" fill="#3a464e"/><rect x="655" y="301" width="5" height="5" fill="#3b474f"/><rect x="659" y="301" width="5" height="5" fill="#3c4850"/><rect x="663" y="301" width="5" height="5" fill="#39454d"/><rect x="667" y="301" width="5" height="5" fill="#39454d"/><rect x="671" y="301" width="5" height="5" fill="#37434a"/><rect x="675" y="301" width="5" height="5" fill="#3b4850"/><rect x="679" y="301" width="5" height="5" fill="#3d4a52"/><rect x="683" y="301" width="5" height="5" fill="#39444c"/><rect x="687" y="301" width="5" height="5" fill="#37434a"/><rect x="691" y="301" width="5" height="5" fill="#37434b"/><rect x="695" y="301" width="5" height="5" fill="#39454d"/><rect x="699" y="301" width="5" height="5" fill="#38444c"/><rect x="703" y="301" width="5" height="5" fill="#3d4952"/><rect x="707" y="301" width="5" height="5" fill="#364249"/><rect x="711" y="301" width="5" height="5" fill="#38444c"/><rect x="715" y="301" width="5" height="5" fill="#37424a"/><rect x="719" y="301" width="5" height="5" fill="#3b474f"/><rect x="723" y="301" width="5" height="5" fill="#3b4850"/><rect x="727" y="301" width="5" height="5" fill="#37434a"/><rect x="571" y="305" width="5" height="5" fill="#48555c"/><rect x="575" y="305" width="5" height="5" fill="#4b5961"/><rect x="579" y="305" width="5" height="5" fill="#4c5a62"/><rect x="583" y="305" width="5" height="5" fill="#4f5e66"/><rect x="587" y="305" width="5" height="5" fill="#47545c"/><rect x="591" y="305" width="5" height="5" fill="#46535a"/><rect x="595" y="305" width="5" height="5" fill="#445159"/><rect x="599" y="305" width="5" height="5" fill="#435057"/><rect x="603" y="305" width="5" height="5" fill="#414e55"/><rect x="607" y="305" width="5" height="5" fill="#435058"/><rect x="611" y="305" width="5" height="5" fill="#404d55"/><rect x="615" y="305" width="5" height="5" fill="#3b474f"/><rect x="619" y="305" width="5" height="5" fill="#39454c"/><rect x="623" y="305" width="5" height="5" fill="#38444b"/><rect x="627" y="305" width="5" height="5" fill="#37434a"/><rect x="631" y="305" width="5" height="5" fill="#3b4850"/><rect x="635" y="305" width="5" height="5" fill="#38444c"/><rect x="639" y="305" width="5" height="5" fill="#3a464e"/><rect x="643" y="305" width="5" height="5" fill="#3c4850"/><rect x="647" y="305" width="5" height="5" fill="#39454d"/><rect x="651" y="305" width="5" height="5" fill="#38434b"/><rect x="655" y="305" width="5" height="5" fill="#3c4951"/><rect x="659" y="305" width="5" height="5" fill="#3c4951"/><rect x="663" y="305" width="5" height="5" fill="#38444c"/><rect x="667" y="305" width="5" height="5" fill="#3a464e"/><rect x="671" y="305" width="5" height="5" fill="#3d4952"/><rect x="675" y="305" width="5" height="5" fill="#39454d"/><rect x="679" y="305" width="5" height="5" fill="#38434b"/><rect x="683" y="305" width="5" height="5" fill="#364249"/><rect x="687" y="305" width="5" height="5" fill="#3d4952"/><rect x="691" y="305" width="5" height="5" fill="#3c4850"/><rect x="695" y="305" width="5" height="5" fill="#39454c"/><rect x="699" y="305" width="5" height="5" fill="#3a464e"/><rect x="703" y="305" width="5" height="5" fill="#3a464e"/><rect x="707" y="305" width="5" height="5" fill="#38444b"/><rect x="711" y="305" width="5" height="5" fill="#3d4a52"/><rect x="715" y="305" width="5" height="5" fill="#3b474f"/><rect x="719" y="305" width="5" height="5" fill="#38434b"/><rect x="723" y="305" width="5" height="5" fill="#364149"/><rect x="727" y="305" width="5" height="5" fill="#39454d"/><rect x="571" y="309" width="5" height="5" fill="#4a5860"/><rect x="575" y="309" width="5" height="5" fill="#4e5d65"/><rect x="579" y="309" width="5" height="5" fill="#4d5c64"/><rect x="583" y="309" width="5" height="5" fill="#4c5b63"/><rect x="587" y="309" width="5" height="5" fill="#48555d"/><rect x="591" y="309" width="5" height="5" fill="#46535b"/><rect x="595" y="309" width="5" height="5" fill="#46535b"/><rect x="599" y="309" width="5" height="5" fill="#435058"/><rect x="603" y="309" width="5" height="5" fill="#46545c"/><rect x="607" y="309" width="5" height="5" fill="#414e56"/><rect x="611" y="309" width="5" height="5" fill="#404d55"/><rect x="615" y="309" width="5" height="5" fill="#414e56"/><rect x="619" y="309" width="5" height="5" fill="#39454d"/><rect x="623" y="309" width="5" height="5" fill="#3a464e"/><rect x="627" y="309" width="5" height="5" fill="#37434a"/><rect x="631" y="309" width="5" height="5" fill="#3b4850"/><rect x="635" y="309" width="5" height="5" fill="#364149"/><rect x="639" y="309" width="5" height="5" fill="#3c4851"/><rect x="643" y="309" width="5" height="5" fill="#3c4851"/><rect x="647" y="309" width="5" height="5" fill="#3c4851"/><rect x="651" y="309" width="5" height="5" fill="#37424a"/><rect x="655" y="309" width="5" height="5" fill="#38444b"/><rect x="659" y="309" width="5" height="5" fill="#3b4750"/><rect x="663" y="309" width="5" height="5" fill="#37424a"/><rect x="667" y="309" width="5" height="5" fill="#39454d"/><rect x="671" y="309" width="5" height="5" fill="#39454d"/><rect x="675" y="309" width="5" height="5" fill="#3d4952"/><rect x="679" y="309" width="5" height="5" fill="#3a464e"/><rect x="683" y="309" width="5" height="5" fill="#3c4951"/><rect x="687" y="309" width="5" height="5" fill="#38444c"/><rect x="691" y="309" width="5" height="5" fill="#3c4850"/><rect x="695" y="309" width="5" height="5" fill="#39454d"/><rect x="699" y="309" width="5" height="5" fill="#3c4951"/><rect x="703" y="309" width="5" height="5" fill="#37424a"/><rect x="707" y="309" width="5" height="5" fill="#3c4851"/><rect x="711" y="309" width="5" height="5" fill="#37434b"/><rect x="715" y="309" width="5" height="5" fill="#3a464e"/><rect x="719" y="309" width="5" height="5" fill="#3a464e"/><rect x="723" y="309" width="5" height="5" fill="#37434a"/><rect x="727" y="309" width="5" height="5" fill="#3c4851"/><rect x="571" y="313" width="5" height="5" fill="#4a575f"/><rect x="575" y="313" width="5" height="5" fill="#4a575f"/><rect x="579" y="313" width="5" height="5" fill="#48555d"/><rect x="583" y="313" width="5" height="5" fill="#4a575f"/><rect x="587" y="313" width="5" height="5" fill="#4b5961"/><rect x="591" y="313" width="5" height="5" fill="#4b5961"/><rect x="595" y="313" width="5" height="5" fill="#46535b"/><rect x="599" y="313" width="5" height="5" fill="#47545c"/><rect x="603" y="313" width="5" height="5" fill="#404c54"/><rect x="607" y="313" width="5" height="5" fill="#404d55"/><rect x="611" y="313" width="5" height="5" fill="#3f4b53"/><rect x="615" y="313" width="5" height="5" fill="#414e56"/><rect x="619" y="313" width="5" height="5" fill="#3d4a52"/><rect x="623" y="313" width="5" height="5" fill="#3b474f"/><rect x="627" y="313" width="5" height="5" fill="#364149"/><rect x="631" y="313" width="5" height="5" fill="#39444c"/><rect x="635" y="313" width="5" height="5" fill="#3b474f"/><rect x="639" y="313" width="5" height="5" fill="#38434b"/><rect x="643" y="313" width="5" height="5" fill="#3a464e"/><rect x="647" y="313" width="5" height="5" fill="#39454d"/><rect x="651" y="313" width="5" height="5" fill="#364149"/><rect x="655" y="313" width="5" height="5" fill="#3d4a52"/><rect x="659" y="313" width="5" height="5" fill="#3c4850"/><rect x="663" y="313" width="5" height="5" fill="#37434b"/><rect x="667" y="313" width="5" height="5" fill="#3a464f"/><rect x="671" y="313" width="5" height="5" fill="#38444c"/><rect x="675" y="313" width="5" height="5" fill="#39444c"/><rect x="679" y="313" width="5" height="5" fill="#3a464e"/><rect x="683" y="313" width="5" height="5" fill="#38444c"/><rect x="687" y="313" width="5" height="5" fill="#38444c"/><rect x="691" y="313" width="5" height="5" fill="#39454c"/><rect x="695" y="313" width="5" height="5" fill="#3b474f"/><rect x="699" y="313" width="5" height="5" fill="#38434b"/><rect x="703" y="313" width="5" height="5" fill="#37434b"/><rect x="707" y="313" width="5" height="5" fill="#3b4750"/><rect x="711" y="313" width="5" height="5" fill="#38444c"/><rect x="715" y="313" width="5" height="5" fill="#3d4952"/><rect x="719" y="313" width="5" height="5" fill="#3a464e"/><rect x="723" y="313" width="5" height="5" fill="#3b4750"/><rect x="727" y="313" width="5" height="5" fill="#38444c"/><rect x="571" y="317" width="5" height="5" fill="#4e5d65"/><rect x="575" y="317" width="5" height="5" fill="#48555d"/><rect x="579" y="317" width="5" height="5" fill="#48565d"/><rect x="583" y="317" width="5" height="5" fill="#48555d"/><rect x="587" y="317" width="5" height="5" fill="#4d5b63"/><rect x="591" y="317" width="5" height="5" fill="#4b5961"/><rect x="595" y="317" width="5" height="5" fill="#445159"/><rect x="599" y="317" width="5" height="5" fill="#445159"/><rect x="603" y="317" width="5" height="5" fill="#46535c"/><rect x="607" y="317" width="5" height="5" fill="#424f57"/><rect x="611" y="317" width="5" height="5" fill="#3c4850"/><rect x="615" y="317" width="5" height="5" fill="#3b474f"/><rect x="619" y="317" width="5" height="5" fill="#39444c"/><rect x="623" y="317" width="5" height="5" fill="#37424a"/><rect x="627" y="317" width="5" height="5" fill="#39454d"/><rect x="631" y="317" width="5" height="5" fill="#37424a"/><rect x="635" y="317" width="5" height="5" fill="#3c4951"/><rect x="639" y="317" width="5" height="5" fill="#39454d"/><rect x="643" y="317" width="5" height="5" fill="#3a464e"/><rect x="647" y="317" width="5" height="5" fill="#3b474f"/><rect x="651" y="317" width="5" height="5" fill="#3b4850"/><rect x="655" y="317" width="5" height="5" fill="#3c4851"/><rect x="659" y="317" width="5" height="5" fill="#39454c"/><rect x="663" y="317" width="5" height="5" fill="#38444c"/><rect x="667" y="317" width="5" height="5" fill="#39454d"/><rect x="671" y="317" width="5" height="5" fill="#364149"/><rect x="675" y="317" width="5" height="5" fill="#39454d"/><rect x="679" y="317" width="5" height="5" fill="#3b474f"/><rect x="683" y="317" width="5" height="5" fill="#3d4a52"/><rect x="687" y="317" width="5" height="5" fill="#3c4850"/><rect x="691" y="317" width="5" height="5" fill="#3b474f"/><rect x="695" y="317" width="5" height="5" fill="#3a464f"/><rect x="699" y="317" width="5" height="5" fill="#364149"/><rect x="703" y="317" width="5" height="5" fill="#38444c"/><rect x="707" y="317" width="5" height="5" fill="#38444c"/><rect x="711" y="317" width="5" height="5" fill="#3b474f"/><rect x="715" y="317" width="5" height="5" fill="#37424a"/><rect x="719" y="317" width="5" height="5" fill="#39444c"/><rect x="723" y="317" width="5" height="5" fill="#3a464e"/><rect x="727" y="317" width="5" height="5" fill="#3c4850"/><rect x="571" y="321" width="5" height="5" fill="#4e5d65"/><rect x="575" y="321" width="5" height="5" fill="#4d5b63"/><rect x="579" y="321" width="5" height="5" fill="#48565d"/><rect x="583" y="321" width="5" height="5" fill="#4e5c65"/><rect x="587" y="321" width="5" height="5" fill="#4f5d66"/><rect x="591" y="321" width="5" height="5" fill="#4a575f"/><rect x="595" y="321" width="5" height="5" fill="#46535b"/><rect x="599" y="321" width="5" height="5" fill="#45525a"/><rect x="603" y="321" width="5" height="5" fill="#404d54"/><rect x="607" y="321" width="5" height="5" fill="#435058"/><rect x="611" y="321" width="5" height="5" fill="#435059"/><rect x="615" y="321" width="5" height="5" fill="#3d4a52"/><rect x="619" y="321" width="5" height="5" fill="#3d4951"/><rect x="623" y="321" width="5" height="5" fill="#3c4851"/><rect x="627" y="321" width="5" height="5" fill="#37434b"/><rect x="631" y="321" width="5" height="5" fill="#3d4952"/><rect x="635" y="321" width="5" height="5" fill="#3a474f"/><rect x="639" y="321" width="5" height="5" fill="#37434b"/><rect x="643" y="321" width="5" height="5" fill="#37424a"/><rect x="647" y="321" width="5" height="5" fill="#38434b"/><rect x="651" y="321" width="5" height="5" fill="#3a464e"/><rect x="655" y="321" width="5" height="5" fill="#3b474f"/><rect x="659" y="321" width="5" height="5" fill="#38444c"/><rect x="663" y="321" width="5" height="5" fill="#3c4952"/><rect x="667" y="321" width="5" height="5" fill="#39444c"/><rect x="671" y="321" width="5" height="5" fill="#39454d"/><rect x="675" y="321" width="5" height="5" fill="#37424a"/><rect x="679" y="321" width="5" height="5" fill="#3d4952"/><rect x="683" y="321" width="5" height="5" fill="#37424a"/><rect x="687" y="321" width="5" height="5" fill="#3c4951"/><rect x="691" y="321" width="5" height="5" fill="#3a464e"/><rect x="695" y="321" width="5" height="5" fill="#3a464e"/><rect x="699" y="321" width="5" height="5" fill="#3a464e"/><rect x="703" y="321" width="5" height="5" fill="#38444b"/><rect x="707" y="321" width="5" height="5" fill="#3c4951"/><rect x="711" y="321" width="5" height="5" fill="#3d4a52"/><rect x="715" y="321" width="5" height="5" fill="#3c4850"/><rect x="719" y="321" width="5" height="5" fill="#3a464e"/><rect x="723" y="321" width="5" height="5" fill="#37424a"/><rect x="727" y="321" width="5" height="5" fill="#3c4851"/><rect x="571" y="325" width="5" height="5" fill="#4a575f"/><rect x="575" y="325" width="5" height="5" fill="#4f5e66"/><rect x="579" y="325" width="5" height="5" fill="#49575e"/><rect x="583" y="325" width="5" height="5" fill="#4c5a62"/><rect x="587" y="325" width="5" height="5" fill="#4e5d65"/><rect x="591" y="325" width="5" height="5" fill="#46545b"/><rect x="595" y="325" width="5" height="5" fill="#48555d"/><rect x="599" y="325" width="5" height="5" fill="#424e56"/><rect x="603" y="325" width="5" height="5" fill="#3f4c53"/><rect x="607" y="325" width="5" height="5" fill="#3f4b53"/><rect x="611" y="325" width="5" height="5" fill="#435059"/><rect x="615" y="325" width="5" height="5" fill="#404d56"/><rect x="619" y="325" width="5" height="5" fill="#3c4951"/><rect x="623" y="325" width="5" height="5" fill="#38444c"/><rect x="627" y="325" width="5" height="5" fill="#3b474f"/><rect x="631" y="325" width="5" height="5" fill="#3b4750"/><rect x="635" y="325" width="5" height="5" fill="#39454c"/><rect x="639" y="325" width="5" height="5" fill="#3a464e"/><rect x="643" y="325" width="5" height="5" fill="#3c4850"/><rect x="647" y="325" width="5" height="5" fill="#364149"/><rect x="651" y="325" width="5" height="5" fill="#37434b"/><rect x="655" y="325" width="5" height="5" fill="#39454d"/><rect x="659" y="325" width="5" height="5" fill="#37434a"/><rect x="663" y="325" width="5" height="5" fill="#39454c"/><rect x="667" y="325" width="5" height="5" fill="#3a464e"/><rect x="671" y="325" width="5" height="5" fill="#37434a"/><rect x="675" y="325" width="5" height="5" fill="#3a464e"/><rect x="679" y="325" width="5" height="5" fill="#38444b"/><rect x="683" y="325" width="5" height="5" fill="#3a464e"/><rect x="687" y="325" width="5" height="5" fill="#38444c"/><rect x="691" y="325" width="5" height="5" fill="#3a474f"/><rect x="695" y="325" width="5" height="5" fill="#364249"/><rect x="699" y="325" width="5" height="5" fill="#3b474f"/><rect x="703" y="325" width="5" height="5" fill="#37434a"/><rect x="707" y="325" width="5" height="5" fill="#3d4952"/><rect x="711" y="325" width="5" height="5" fill="#3a464e"/><rect x="715" y="325" width="5" height="5" fill="#39454d"/><rect x="719" y="325" width="5" height="5" fill="#39454d"/><rect x="723" y="325" width="5" height="5" fill="#3a474f"/><rect x="727" y="325" width="5" height="5" fill="#3b474f"/><rect x="571" y="329" width="5" height="5" fill="#4e5c65"/><rect x="575" y="329" width="5" height="5" fill="#4e5c64"/><rect x="579" y="329" width="5" height="5" fill="#4b5961"/><rect x="583" y="329" width="5" height="5" fill="#505f67"/><rect x="587" y="329" width="5" height="5" fill="#4e5d65"/><rect x="591" y="329" width="5" height="5" fill="#4c5b63"/><rect x="595" y="329" width="5" height="5" fill="#46545c"/><rect x="599" y="329" width="5" height="5" fill="#45525a"/><rect x="603" y="329" width="5" height="5" fill="#445159"/><rect x="607" y="329" width="5" height="5" fill="#44525a"/><rect x="611" y="329" width="5" height="5" fill="#3f4c54"/><rect x="615" y="329" width="5" height="5" fill="#3d4a52"/><rect x="619" y="329" width="5" height="5" fill="#3b474f"/><rect x="623" y="329" width="5" height="5" fill="#3c4951"/><rect x="627" y="329" width="5" height="5" fill="#38444c"/><rect x="631" y="329" width="5" height="5" fill="#364249"/><rect x="635" y="329" width="5" height="5" fill="#3b4750"/><rect x="639" y="329" width="5" height="5" fill="#3c4951"/><rect x="643" y="329" width="5" height="5" fill="#3b4750"/><rect x="647" y="329" width="5" height="5" fill="#3a464e"/><rect x="651" y="329" width="5" height="5" fill="#3b4850"/><rect x="655" y="329" width="5" height="5" fill="#38444c"/><rect x="659" y="329" width="5" height="5" fill="#3a464e"/><rect x="663" y="329" width="5" height="5" fill="#374249"/><rect x="667" y="329" width="5" height="5" fill="#37424a"/><rect x="671" y="329" width="5" height="5" fill="#39454d"/><rect x="675" y="329" width="5" height="5" fill="#3a464e"/><rect x="679" y="329" width="5" height="5" fill="#39454d"/><rect x="683" y="329" width="5" height="5" fill="#364249"/><rect x="687" y="329" width="5" height="5" fill="#3b474f"/><rect x="691" y="329" width="5" height="5" fill="#3a464e"/><rect x="695" y="329" width="5" height="5" fill="#38434b"/><rect x="699" y="329" width="5" height="5" fill="#38444c"/><rect x="703" y="329" width="5" height="5" fill="#39454d"/><rect x="707" y="329" width="5" height="5" fill="#38434b"/><rect x="711" y="329" width="5" height="5" fill="#364249"/><rect x="715" y="329" width="5" height="5" fill="#3c4951"/><rect x="719" y="329" width="5" height="5" fill="#3d4952"/><rect x="723" y="329" width="5" height="5" fill="#3b474f"/><rect x="727" y="329" width="5" height="5" fill="#3c4951"/><rect x="571" y="333" width="5" height="5" fill="#4b5961"/><rect x="575" y="333" width="5" height="5" fill="#4e5d65"/><rect x="579" y="333" width="5" height="5" fill="#49565e"/><rect x="583" y="333" width="5" height="5" fill="#4e5c64"/><rect x="587" y="333" width="5" height="5" fill="#4c5a62"/><rect x="591" y="333" width="5" height="5" fill="#4d5b63"/><rect x="595" y="333" width="5" height="5" fill="#445158"/><rect x="599" y="333" width="5" height="5" fill="#48555e"/><rect x="603" y="333" width="5" height="5" fill="#404d54"/><rect x="607" y="333" width="5" height="5" fill="#414e56"/><rect x="611" y="333" width="5" height="5" fill="#435058"/><rect x="615" y="333" width="5" height="5" fill="#39454d"/><rect x="619" y="333" width="5" height="5" fill="#39454d"/><rect x="623" y="333" width="5" height="5" fill="#38444c"/><rect x="627" y="333" width="5" height="5" fill="#38444c"/><rect x="631" y="333" width="5" height="5" fill="#364249"/><rect x="635" y="333" width="5" height="5" fill="#3c4951"/><rect x="639" y="333" width="5" height="5" fill="#3c4850"/><rect x="643" y="333" width="5" height="5" fill="#39454d"/><rect x="647" y="333" width="5" height="5" fill="#39444c"/><rect x="651" y="333" width="5" height="5" fill="#3a464e"/><rect x="655" y="333" width="5" height="5" fill="#364249"/><rect x="659" y="333" width="5" height="5" fill="#364249"/><rect x="663" y="333" width="5" height="5" fill="#3c4951"/><rect x="667" y="333" width="5" height="5" fill="#38444c"/><rect x="671" y="333" width="5" height="5" fill="#39454d"/><rect x="675" y="333" width="5" height="5" fill="#3d4952"/><rect x="679" y="333" width="5" height="5" fill="#3d4a52"/><rect x="683" y="333" width="5" height="5" fill="#39454d"/><rect x="687" y="333" width="5" height="5" fill="#37434b"/><rect x="691" y="333" width="5" height="5" fill="#38444c"/><rect x="695" y="333" width="5" height="5" fill="#3c4951"/><rect x="699" y="333" width="5" height="5" fill="#3c4951"/><rect x="703" y="333" width="5" height="5" fill="#37434b"/><rect x="707" y="333" width="5" height="5" fill="#3c4851"/><rect x="711" y="333" width="5" height="5" fill="#38444c"/><rect x="715" y="333" width="5" height="5" fill="#39454d"/><rect x="719" y="333" width="5" height="5" fill="#37434a"/><rect x="723" y="333" width="5" height="5" fill="#3c4951"/><rect x="727" y="333" width="5" height="5" fill="#3d4a52"/></g>
<path d="M592,229 L590,262 L593,290 L590,312 L594,333" fill="none" stroke="#262e32" stroke-width="1.4" opacity="0.28" filter="url(#blur08)"/>
<ellipse cx="576" cy="287" rx="3" ry="1.2" fill="#222a2e" opacity="0.55" filter="url(#blur08)"/>
<ellipse cx="586" cy="298" rx="1.2" ry="3" fill="#222a2e" opacity="0.55" filter="url(#blur08)"/>
<ellipse cx="587" cy="313" rx="1.2" ry="4" fill="#222a2e" opacity="0.55" filter="url(#blur08)"/>
<ellipse cx="581" cy="330" rx="3" ry="1.5" fill="#222a2e" opacity="0.55" filter="url(#blur08)"/>
<rect x="570.8" y="228.7" width="157.20000000000005" height="2" fill="#2a3238" opacity="0.5"/>
<g filter="url(#blur15)"><circle cx="708" cy="251" r="2.5" fill="#d8eef4" opacity="0.26"/><circle cx="677" cy="264" r="2.5" fill="#d8eef4" opacity="0.26"/><circle cx="699" cy="279" r="2.5" fill="#d8eef4" opacity="0.26"/><circle cx="646" cy="302" r="3" fill="#d8eef4" opacity="0.26"/><circle cx="628" cy="289" r="2" fill="#d8eef4" opacity="0.26"/><circle cx="621" cy="247" r="3" fill="#d8eef4" opacity="0.26"/><circle cx="617" cy="271" r="2" fill="#d8eef4" opacity="0.26"/><circle cx="672" cy="267" r="2" fill="#d8eef4" opacity="0.26"/><circle cx="711" cy="229" r="2.5" fill="#d8eef4" opacity="0.26"/><circle cx="660" cy="293" r="2.5" fill="#d8eef4" opacity="0.26"/><circle cx="639" cy="252" r="3" fill="#d8eef4" opacity="0.26"/><circle cx="710" cy="286" r="3" fill="#d8eef4" opacity="0.26"/><circle cx="705" cy="249" r="2" fill="#d8eef4" opacity="0.26"/><circle cx="680" cy="274" r="2" fill="#d8eef4" opacity="0.26"/><circle cx="698" cy="236" r="2.5" fill="#d8eef4" opacity="0.26"/><circle cx="709" cy="245" r="3" fill="#d8eef4" opacity="0.26"/><circle cx="608" cy="279" r="3" fill="#d8eef4" opacity="0.26"/><circle cx="626" cy="238" r="3" fill="#d8eef4" opacity="0.26"/><circle cx="638" cy="289" r="2.5" fill="#d8eef4" opacity="0.26"/><circle cx="616" cy="268" r="2" fill="#d8eef4" opacity="0.26"/><circle cx="685" cy="302" r="2" fill="#d8eef4" opacity="0.26"/><circle cx="628" cy="263" r="3" fill="#d8eef4" opacity="0.26"/><circle cx="689" cy="254" r="2" fill="#d8eef4" opacity="0.26"/><circle cx="614" cy="303" r="2" fill="#d8eef4" opacity="0.26"/><circle cx="666" cy="330" r="2" fill="#d8eef4" opacity="0.26"/><circle cx="669" cy="329" r="2" fill="#d8eef4" opacity="0.26"/><circle cx="704" cy="283" r="2.5" fill="#d8eef4" opacity="0.26"/><circle cx="628" cy="230" r="3" fill="#d8eef4" opacity="0.26"/><circle cx="671" cy="232" r="2.5" fill="#d8eef4" opacity="0.26"/><circle cx="667" cy="311" r="3" fill="#d8eef4" opacity="0.26"/><circle cx="625" cy="231" r="3" fill="#d8eef4" opacity="0.26"/><circle cx="632" cy="325" r="2.5" fill="#d8eef4" opacity="0.26"/><circle cx="658" cy="315" r="2" fill="#d8eef4" opacity="0.26"/><circle cx="640" cy="322" r="3" fill="#d8eef4" opacity="0.26"/><circle cx="611" cy="260" r="2" fill="#d8eef4" opacity="0.26"/><circle cx="669" cy="297" r="3" fill="#d8eef4" opacity="0.26"/><circle cx="661" cy="324" r="2.5" fill="#d8eef4" opacity="0.26"/><circle cx="623" cy="239" r="2" fill="#d8eef4" opacity="0.26"/><circle cx="666" cy="243" r="2.5" fill="#d8eef4" opacity="0.26"/><circle cx="610" cy="266" r="3" fill="#d8eef4" opacity="0.26"/><circle cx="631" cy="296" r="2" fill="#d8eef4" opacity="0.26"/><circle cx="646" cy="283" r="3" fill="#d8eef4" opacity="0.26"/><circle cx="705" cy="293" r="3" fill="#d8eef4" opacity="0.26"/><circle cx="683" cy="275" r="3" fill="#d8eef4" opacity="0.26"/><circle cx="703" cy="267" r="2" fill="#d8eef4" opacity="0.26"/><circle cx="616" cy="229" r="3" fill="#d8eef4" opacity="0.26"/><circle cx="638" cy="240" r="3" fill="#d8eef4" opacity="0.26"/><circle cx="617" cy="314" r="2" fill="#d8eef4" opacity="0.26"/><circle cx="715" cy="295" r="2" fill="#d8eef4" opacity="0.26"/><circle cx="708" cy="235" r="3" fill="#d8eef4" opacity="0.26"/><circle cx="638" cy="242" r="3" fill="#d8eef4" opacity="0.26"/><circle cx="666" cy="290" r="2.5" fill="#d8eef4" opacity="0.26"/><circle cx="685" cy="276" r="2" fill="#d8eef4" opacity="0.26"/><circle cx="693" cy="261" r="2.5" fill="#d8eef4" opacity="0.26"/><circle cx="610" cy="236" r="2" fill="#d8eef4" opacity="0.26"/><circle cx="643" cy="241" r="3" fill="#d8eef4" opacity="0.26"/><circle cx="695" cy="259" r="3" fill="#d8eef4" opacity="0.26"/><circle cx="675" cy="290" r="2" fill="#d8eef4" opacity="0.26"/><circle cx="679" cy="237" r="2" fill="#d8eef4" opacity="0.26"/><circle cx="695" cy="318" r="2" fill="#d8eef4" opacity="0.26"/><circle cx="621" cy="281" r="2" fill="#d8eef4" opacity="0.26"/><circle cx="646" cy="263" r="3" fill="#d8eef4" opacity="0.26"/><circle cx="628" cy="229" r="2" fill="#d8eef4" opacity="0.26"/><circle cx="694" cy="240" r="2.5" fill="#d8eef4" opacity="0.26"/><circle cx="687" cy="313" r="2" fill="#d8eef4" opacity="0.26"/><circle cx="658" cy="260" r="2" fill="#d8eef4" opacity="0.26"/><circle cx="637" cy="240" r="2.5" fill="#d8eef4" opacity="0.26"/><circle cx="718" cy="298" r="3" fill="#d8eef4" opacity="0.26"/><circle cx="685" cy="236" r="2" fill="#d8eef4" opacity="0.26"/><circle cx="659" cy="297" r="3" fill="#d8eef4" opacity="0.26"/><circle cx="670" cy="271" r="2" fill="#d8eef4" opacity="0.26"/><circle cx="678" cy="269" r="3" fill="#d8eef4" opacity="0.26"/><circle cx="664" cy="244" r="3" fill="#d8eef4" opacity="0.26"/><circle cx="670" cy="234" r="2" fill="#d8eef4" opacity="0.26"/><circle cx="700" cy="239" r="2.5" fill="#d8eef4" opacity="0.26"/><circle cx="681" cy="268" r="3" fill="#d8eef4" opacity="0.26"/><circle cx="678" cy="283" r="2.5" fill="#d8eef4" opacity="0.26"/><circle cx="611" cy="244" r="2" fill="#d8eef4" opacity="0.26"/><circle cx="720" cy="233" r="2.5" fill="#d8eef4" opacity="0.26"/><circle cx="685" cy="305" r="3" fill="#d8eef4" opacity="0.26"/><circle cx="670" cy="237" r="3" fill="#d8eef4" opacity="0.26"/><circle cx="662" cy="311" r="2.5" fill="#d8eef4" opacity="0.26"/><circle cx="670" cy="286" r="2" fill="#d8eef4" opacity="0.26"/><circle cx="659" cy="298" r="2" fill="#d8eef4" opacity="0.26"/><circle cx="642" cy="254" r="2.5" fill="#d8eef4" opacity="0.26"/><circle cx="721" cy="233" r="3" fill="#d8eef4" opacity="0.26"/><circle cx="687" cy="267" r="2.5" fill="#d8eef4" opacity="0.26"/><circle cx="677" cy="331" r="3" fill="#d8eef4" opacity="0.26"/><circle cx="708" cy="247" r="3" fill="#d8eef4" opacity="0.26"/><circle cx="686" cy="239" r="2.5" fill="#d8eef4" opacity="0.26"/><circle cx="627" cy="291" r="2" fill="#d8eef4" opacity="0.26"/><circle cx="613" cy="271" r="2" fill="#d8eef4" opacity="0.26"/><circle cx="664" cy="302" r="3" fill="#d8eef4" opacity="0.26"/><circle cx="685" cy="295" r="3" fill="#d8eef4" opacity="0.26"/><circle cx="663" cy="277" r="2.5" fill="#d8eef4" opacity="0.26"/><circle cx="696" cy="325" r="2.5" fill="#d8eef4" opacity="0.26"/><circle cx="638" cy="248" r="3" fill="#d8eef4" opacity="0.26"/><circle cx="654" cy="331" r="2.5" fill="#d8eef4" opacity="0.26"/><circle cx="681" cy="288" r="3" fill="#d8eef4" opacity="0.26"/><circle cx="633" cy="235" r="3" fill="#d8eef4" opacity="0.26"/><circle cx="635" cy="242" r="3" fill="#d8eef4" opacity="0.26"/><circle cx="624" cy="267" r="2" fill="#d8eef4" opacity="0.26"/><circle cx="606" cy="250" r="2" fill="#d8eef4" opacity="0.26"/><circle cx="643" cy="310" r="2.5" fill="#d8eef4" opacity="0.26"/><circle cx="648" cy="274" r="2.5" fill="#d8eef4" opacity="0.26"/><circle cx="624" cy="293" r="2" fill="#d8eef4" opacity="0.26"/><circle cx="673" cy="313" r="2.5" fill="#d8eef4" opacity="0.26"/><circle cx="604" cy="230" r="3" fill="#d8eef4" opacity="0.26"/><circle cx="658" cy="285" r="2.5" fill="#d8eef4" opacity="0.26"/><circle cx="693" cy="240" r="2.5" fill="#d8eef4" opacity="0.26"/><circle cx="647" cy="293" r="3" fill="#d8eef4" opacity="0.26"/><circle cx="656" cy="330" r="2.5" fill="#d8eef4" opacity="0.26"/><circle cx="632" cy="307" r="3" fill="#d8eef4" opacity="0.26"/><circle cx="666" cy="247" r="2.5" fill="#d8eef4" opacity="0.26"/><circle cx="663" cy="238" r="2.5" fill="#d8eef4" opacity="0.26"/><circle cx="721" cy="321" r="2.5" fill="#d8eef4" opacity="0.26"/><circle cx="662" cy="330" r="2" fill="#d8eef4" opacity="0.26"/><circle cx="680" cy="281" r="2" fill="#d8eef4" opacity="0.26"/><circle cx="694" cy="312" r="3" fill="#d8eef4" opacity="0.26"/><circle cx="619" cy="233" r="3" fill="#d8eef4" opacity="0.26"/><circle cx="689" cy="241" r="2.5" fill="#d8eef4" opacity="0.26"/><circle cx="647" cy="278" r="3" fill="#d8eef4" opacity="0.26"/><circle cx="660" cy="291" r="2" fill="#d8eef4" opacity="0.26"/><circle cx="672" cy="266" r="2.5" fill="#d8eef4" opacity="0.26"/><circle cx="686" cy="273" r="3" fill="#d8eef4" opacity="0.26"/><circle cx="658" cy="280" r="2" fill="#d8eef4" opacity="0.26"/><circle cx="701" cy="303" r="3" fill="#d8eef4" opacity="0.26"/><circle cx="669" cy="303" r="2.5" fill="#d8eef4" opacity="0.26"/><circle cx="696" cy="269" r="2.5" fill="#d8eef4" opacity="0.26"/><circle cx="676" cy="326" r="3" fill="#d8eef4" opacity="0.26"/><circle cx="664" cy="298" r="3" fill="#d8eef4" opacity="0.26"/><circle cx="613" cy="297" r="2" fill="#d8eef4" opacity="0.26"/><circle cx="638" cy="329" r="3" fill="#d8eef4" opacity="0.26"/><circle cx="696" cy="300" r="2.5" fill="#d8eef4" opacity="0.26"/><circle cx="629" cy="283" r="3" fill="#d8eef4" opacity="0.26"/><circle cx="638" cy="277" r="3" fill="#d8eef4" opacity="0.26"/><circle cx="669" cy="268" r="3" fill="#d8eef4" opacity="0.26"/><circle cx="690" cy="251" r="3" fill="#d8eef4" opacity="0.26"/><circle cx="698" cy="237" r="3" fill="#d8eef4" opacity="0.26"/><circle cx="679" cy="275" r="2" fill="#d8eef4" opacity="0.26"/><circle cx="711" cy="307" r="2.5" fill="#d8eef4" opacity="0.26"/><circle cx="686" cy="241" r="3" fill="#d8eef4" opacity="0.26"/><circle cx="691" cy="257" r="2.5" fill="#d8eef4" opacity="0.26"/><circle cx="643" cy="285" r="2.5" fill="#d8eef4" opacity="0.26"/><circle cx="679" cy="303" r="2.5" fill="#d8eef4" opacity="0.26"/><circle cx="647" cy="240" r="3" fill="#d8eef4" opacity="0.26"/><circle cx="626" cy="301" r="2.5" fill="#d8eef4" opacity="0.26"/><circle cx="683" cy="237" r="2" fill="#d8eef4" opacity="0.26"/><circle cx="683" cy="251" r="2.5" fill="#d8eef4" opacity="0.26"/><circle cx="676" cy="238" r="2" fill="#d8eef4" opacity="0.26"/><circle cx="649" cy="329" r="3" fill="#d8eef4" opacity="0.26"/><circle cx="721" cy="332" r="3" fill="#d8eef4" opacity="0.26"/><circle cx="687" cy="254" r="2.5" fill="#d8eef4" opacity="0.26"/><circle cx="668" cy="312" r="3" fill="#d8eef4" opacity="0.26"/><circle cx="665" cy="271" r="3" fill="#d8eef4" opacity="0.26"/><circle cx="624" cy="290" r="2" fill="#d8eef4" opacity="0.26"/><circle cx="641" cy="267" r="3" fill="#d8eef4" opacity="0.26"/><circle cx="625" cy="245" r="2.5" fill="#d8eef4" opacity="0.26"/><circle cx="676" cy="253" r="2" fill="#d8eef4" opacity="0.26"/><circle cx="712" cy="307" r="3" fill="#d8eef4" opacity="0.26"/><circle cx="695" cy="239" r="3" fill="#d8eef4" opacity="0.26"/><circle cx="643" cy="277" r="3" fill="#d8eef4" opacity="0.26"/><circle cx="674" cy="254" r="3" fill="#d8eef4" opacity="0.26"/><circle cx="657" cy="250" r="2.5" fill="#d8eef4" opacity="0.26"/><circle cx="644" cy="329" r="2" fill="#d8eef4" opacity="0.26"/><circle cx="727" cy="246" r="2" fill="#d8eef4" opacity="0.26"/><circle cx="667" cy="291" r="2" fill="#d8eef4" opacity="0.26"/><circle cx="678" cy="304" r="2" fill="#d8eef4" opacity="0.26"/><circle cx="657" cy="255" r="2.5" fill="#d8eef4" opacity="0.26"/><circle cx="649" cy="272" r="2" fill="#d8eef4" opacity="0.26"/><circle cx="639" cy="262" r="2.5" fill="#d8eef4" opacity="0.26"/><circle cx="663" cy="304" r="2" fill="#d8eef4" opacity="0.26"/><circle cx="651" cy="291" r="3" fill="#d8eef4" opacity="0.26"/><circle cx="695" cy="271" r="3" fill="#d8eef4" opacity="0.26"/><circle cx="684" cy="262" r="2.5" fill="#d8eef4" opacity="0.26"/><circle cx="666" cy="231" r="2" fill="#d8eef4" opacity="0.26"/><circle cx="626" cy="267" r="2" fill="#d8eef4" opacity="0.26"/><circle cx="652" cy="251" r="2" fill="#d8eef4" opacity="0.26"/><circle cx="642" cy="318" r="2" fill="#d8eef4" opacity="0.26"/><circle cx="669" cy="261" r="2" fill="#d8eef4" opacity="0.26"/></g>
<g filter="url(#blur06)"><circle cx="706.6" cy="250.7" r="0.7" fill="#e8fcff" opacity="1"/><circle cx="707.6" cy="250.1" r="1.7" fill="#d4f4ec" opacity="0.7"/><circle cx="628.5" cy="246.8" r="1.7" fill="#e8fcff" opacity="1"/><circle cx="677.7" cy="265.2" r="1.4" fill="#d4f4ec" opacity="0.5"/><circle cx="676.3" cy="264.7" r="1.4" fill="#c8ecf4" opacity="1"/><circle cx="698.6" cy="280.5" r="1.2" fill="#e8fcff" opacity="0.7"/><circle cx="646.5" cy="303.4" r="1.4" fill="#e0f8e8" opacity="0.85"/><circle cx="627.9" cy="289.4" r="0.7" fill="#ffffff" opacity="0.85"/><circle cx="628.1" cy="290.4" r="0.7" fill="#f4fcff" opacity="0.5"/><circle cx="696.3" cy="319.5" r="1.7" fill="#e8fcff" opacity="0.85"/><circle cx="620.4" cy="247.7" r="0.9" fill="#c8ecf4" opacity="1"/><circle cx="643.2" cy="272.8" r="0.7" fill="#e8fcff" opacity="0.7"/><circle cx="614.9" cy="270.9" r="0.7" fill="#e0f8e8" opacity="1"/><circle cx="617.1" cy="268.6" r="1.2" fill="#ffffff" opacity="1"/><circle cx="618.0" cy="271.0" r="1.2" fill="#f0e4f4" opacity="1"/><circle cx="669.8" cy="266.6" r="1.7" fill="#f4fcff" opacity="1"/><circle cx="671.9" cy="266.1" r="1.7" fill="#e8fcff" opacity="1"/><circle cx="711.7" cy="228.1" r="1.4" fill="#c8ecf4" opacity="1"/><circle cx="661.0" cy="294.1" r="1.2" fill="#d4f4ec" opacity="0.85"/><circle cx="659.4" cy="292.8" r="1.7" fill="#d4f4ec" opacity="0.85"/><circle cx="640.2" cy="252.7" r="1.7" fill="#d4f4ec" opacity="0.7"/><circle cx="616.1" cy="280.0" r="1.0" fill="#c8ecf4" opacity="0.85"/><circle cx="615.6" cy="278.7" r="1.4" fill="#ffffff" opacity="0.7"/><circle cx="669.8" cy="275.9" r="0.7" fill="#d4f4ec" opacity="0.5"/><circle cx="691.2" cy="314.4" r="0.7" fill="#f4fcff" opacity="0.7"/><circle cx="694.0" cy="254.4" r="1.2" fill="#ffffff" opacity="1"/><circle cx="693.1" cy="252.6" r="1.4" fill="#c8ecf4" opacity="1"/><circle cx="692.3" cy="253.2" r="0.9" fill="#f0e4f4" opacity="0.5"/><circle cx="710.7" cy="286.2" r="1.4" fill="#f4fcff" opacity="0.85"/><circle cx="703.4" cy="248.6" r="1.4" fill="#c8ecf4" opacity="0.5"/><circle cx="704.7" cy="249.2" r="0.9" fill="#f4fcff" opacity="1"/><circle cx="681.5" cy="273.1" r="0.7" fill="#ffffff" opacity="0.7"/><circle cx="680.3" cy="274.7" r="1.7" fill="#f0e4f4" opacity="1"/><circle cx="680.3" cy="274.0" r="1.7" fill="#e0f8e8" opacity="0.5"/><circle cx="693.1" cy="323.7" r="1.4" fill="#ffffff" opacity="0.5"/><circle cx="697.1" cy="237.4" r="1.0" fill="#f4fcff" opacity="1"/><circle cx="682.4" cy="242.5" r="1.7" fill="#e4f0ff" opacity="0.85"/><circle cx="637.6" cy="277.6" r="0.9" fill="#c8ecf4" opacity="1"/><circle cx="636.0" cy="275.7" r="1.0" fill="#e0f8e8" opacity="0.85"/><circle cx="636.6" cy="276.2" r="1.0" fill="#f4fcff" opacity="1"/><circle cx="710.0" cy="243.5" r="0.7" fill="#ffffff" opacity="1"/><circle cx="709.5" cy="244.2" r="1.4" fill="#e8fcff" opacity="0.5"/><circle cx="709.6" cy="242.6" r="0.9" fill="#e8fcff" opacity="1"/><circle cx="607.5" cy="276.8" r="1.0" fill="#e8fcff" opacity="1"/><circle cx="607.1" cy="280.3" r="1.0" fill="#e4f0ff" opacity="1"/><circle cx="686.1" cy="304.1" r="1.4" fill="#c8ecf4" opacity="0.85"/><circle cx="686.9" cy="303.8" r="0.9" fill="#f4fcff" opacity="0.7"/><circle cx="626.9" cy="237.0" r="1.2" fill="#c8ecf4" opacity="0.85"/><circle cx="625.5" cy="238.6" r="1.0" fill="#d4f4ec" opacity="0.5"/><circle cx="639.2" cy="287.5" r="1.0" fill="#f0e4f4" opacity="1"/><circle cx="614.6" cy="266.7" r="0.7" fill="#ffffff" opacity="0.7"/><circle cx="684.4" cy="302.0" r="1.4" fill="#c8ecf4" opacity="1"/><circle cx="697.1" cy="268.1" r="1.2" fill="#e0f8e8" opacity="0.5"/><circle cx="659.1" cy="232.2" r="1.0" fill="#f0e4f4" opacity="0.85"/><circle cx="628.2" cy="264.2" r="0.7" fill="#c8ecf4" opacity="0.5"/><circle cx="627.8" cy="263.0" r="1.4" fill="#e8fcff" opacity="0.85"/><circle cx="631.9" cy="250.7" r="1.0" fill="#ffffff" opacity="1"/><circle cx="632.9" cy="252.6" r="0.7" fill="#c8ecf4" opacity="0.7"/><circle cx="633.9" cy="251.6" r="1.7" fill="#e4f0ff" opacity="0.5"/><circle cx="689.5" cy="255.9" r="1.4" fill="#d4f4ec" opacity="0.85"/><circle cx="632.8" cy="264.0" r="1.2" fill="#e4f0ff" opacity="0.7"/><circle cx="630.5" cy="259.5" r="0.9" fill="#e4f0ff" opacity="0.85"/><circle cx="652.5" cy="257.7" r="1.2" fill="#e8fcff" opacity="0.7"/><circle cx="653.3" cy="259.0" r="0.9" fill="#e8fcff" opacity="1"/><circle cx="653.0" cy="258.8" r="1.2" fill="#e0f8e8" opacity="1"/><circle cx="614.7" cy="301.9" r="1.7" fill="#e4f0ff" opacity="0.5"/><circle cx="614.0" cy="302.1" r="1.4" fill="#f0e4f4" opacity="0.5"/><circle cx="687.5" cy="292.9" r="1.7" fill="#ffffff" opacity="0.7"/><circle cx="649.7" cy="322.3" r="0.7" fill="#ffffff" opacity="0.7"/><circle cx="652.6" cy="322.2" r="1.2" fill="#e8fcff" opacity="1"/><circle cx="666.4" cy="328.7" r="1.7" fill="#d4f4ec" opacity="0.5"/><circle cx="702.2" cy="278.5" r="0.7" fill="#c8ecf4" opacity="1"/><circle cx="702.9" cy="277.6" r="1.7" fill="#f0e4f4" opacity="1"/><circle cx="669.4" cy="328.5" r="1.4" fill="#e0f8e8" opacity="0.85"/><circle cx="663.5" cy="260.1" r="0.7" fill="#ffffff" opacity="0.7"/><circle cx="704.3" cy="283.7" r="1.0" fill="#e4f0ff" opacity="0.85"/><circle cx="628.5" cy="230.2" r="0.7" fill="#e4f0ff" opacity="1"/><circle cx="627.2" cy="231.8" r="1.7" fill="#f4fcff" opacity="1"/><circle cx="645.3" cy="238.2" r="0.7" fill="#ffffff" opacity="1"/><circle cx="644.3" cy="236.2" r="1.0" fill="#d4f4ec" opacity="1"/><circle cx="671.5" cy="232.3" r="0.7" fill="#e4f0ff" opacity="0.85"/><circle cx="675.0" cy="241.4" r="1.7" fill="#d4f4ec" opacity="1"/><circle cx="674.8" cy="241.1" r="0.7" fill="#ffffff" opacity="0.7"/><circle cx="643.2" cy="235.4" r="0.7" fill="#f0e4f4" opacity="1"/><circle cx="644.0" cy="236.4" r="1.4" fill="#f0e4f4" opacity="1"/><circle cx="711.0" cy="322.0" r="0.7" fill="#d4f4ec" opacity="0.85"/><circle cx="712.4" cy="319.2" r="1.4" fill="#e0f8e8" opacity="0.85"/><circle cx="665.5" cy="312.0" r="0.7" fill="#d4f4ec" opacity="0.85"/><circle cx="650.2" cy="234.5" r="1.4" fill="#e8fcff" opacity="1"/><circle cx="647.8" cy="230.7" r="1.7" fill="#e8fcff" opacity="1"/><circle cx="625.4" cy="230.6" r="0.9" fill="#c8ecf4" opacity="0.5"/><circle cx="624.8" cy="231.2" r="1.2" fill="#ffffff" opacity="0.85"/><circle cx="624.0" cy="230.4" r="1.0" fill="#e4f0ff" opacity="1"/><circle cx="630.7" cy="326.8" r="1.2" fill="#f0e4f4" opacity="0.5"/><circle cx="656.3" cy="315.5" r="0.7" fill="#e0f8e8" opacity="1"/><circle cx="640.0" cy="322.8" r="0.7" fill="#d4f4ec" opacity="0.7"/><circle cx="638.6" cy="322.0" r="1.2" fill="#d4f4ec" opacity="1"/><circle cx="638.6" cy="323.2" r="1.7" fill="#e0f8e8" opacity="0.5"/><circle cx="611.2" cy="260.9" r="0.7" fill="#e0f8e8" opacity="1"/><circle cx="643.7" cy="243.0" r="1.7" fill="#e8fcff" opacity="1"/><circle cx="645.7" cy="244.2" r="0.7" fill="#f0e4f4" opacity="0.5"/><circle cx="668.0" cy="295.1" r="0.9" fill="#d4f4ec" opacity="0.85"/><circle cx="659.5" cy="322.1" r="1.0" fill="#e0f8e8" opacity="1"/><circle cx="621.1" cy="238.6" r="1.4" fill="#c8ecf4" opacity="1"/><circle cx="622.6" cy="239.0" r="1.0" fill="#c8ecf4" opacity="0.5"/><circle cx="661.1" cy="258.6" r="1.2" fill="#f0e4f4" opacity="1"/><circle cx="659.4" cy="259.9" r="1.2" fill="#e0f8e8" opacity="1"/><circle cx="656.6" cy="274.5" r="0.9" fill="#ffffff" opacity="0.85"/><circle cx="666.5" cy="242.8" r="0.9" fill="#e0f8e8" opacity="0.7"/><circle cx="665.3" cy="244.5" r="0.7" fill="#c8ecf4" opacity="0.85"/><circle cx="679.9" cy="304.8" r="1.0" fill="#f4fcff" opacity="0.7"/><circle cx="610.9" cy="265.6" r="1.4" fill="#f0e4f4" opacity="0.85"/><circle cx="611.5" cy="267.4" r="0.9" fill="#e0f8e8" opacity="0.85"/><circle cx="610.3" cy="266.9" r="1.0" fill="#ffffff" opacity="0.5"/><circle cx="630.4" cy="298.4" r="0.7" fill="#f0e4f4" opacity="0.5"/><circle cx="640.0" cy="300.6" r="1.2" fill="#e0f8e8" opacity="1"/><circle cx="640.7" cy="297.2" r="1.7" fill="#f4fcff" opacity="0.7"/><circle cx="640.3" cy="299.0" r="0.9" fill="#e4f0ff" opacity="0.7"/><circle cx="645.9" cy="283.7" r="1.2" fill="#f0e4f4" opacity="0.7"/><circle cx="644.9" cy="282.8" r="1.0" fill="#c8ecf4" opacity="1"/><circle cx="705.6" cy="293.4" r="1.2" fill="#ffffff" opacity="0.5"/><circle cx="709.9" cy="333.2" r="0.7" fill="#ffffff" opacity="0.7"/><circle cx="682.8" cy="275.7" r="1.4" fill="#e4f0ff" opacity="0.85"/><circle cx="701.7" cy="264.8" r="1.7" fill="#d4f4ec" opacity="0.85"/><circle cx="700.9" cy="267.1" r="1.0" fill="#c8ecf4" opacity="0.7"/><circle cx="667.9" cy="266.6" r="1.2" fill="#e4f0ff" opacity="0.5"/><circle cx="665.2" cy="267.3" r="1.4" fill="#c8ecf4" opacity="1"/><circle cx="615.5" cy="228.0" r="1.0" fill="#e4f0ff" opacity="0.5"/><circle cx="637.2" cy="239.1" r="1.2" fill="#e4f0ff" opacity="1"/><circle cx="635.8" cy="240.8" r="1.0" fill="#ffffff" opacity="1"/><circle cx="622.3" cy="324.8" r="1.2" fill="#f4fcff" opacity="0.85"/><circle cx="638.9" cy="314.8" r="1.7" fill="#ffffff" opacity="1"/><circle cx="638.9" cy="313.9" r="1.7" fill="#ffffff" opacity="0.85"/><circle cx="617.8" cy="312.1" r="0.9" fill="#e8fcff" opacity="1"/><circle cx="615.6" cy="312.5" r="1.2" fill="#e8fcff" opacity="0.7"/><circle cx="617.0" cy="313.8" r="0.7" fill="#ffffff" opacity="1"/><circle cx="713.9" cy="293.9" r="1.2" fill="#e4f0ff" opacity="0.7"/><circle cx="677.5" cy="254.4" r="0.9" fill="#e8fcff" opacity="1"/><circle cx="675.6" cy="253.9" r="1.7" fill="#e4f0ff" opacity="1"/><circle cx="707.0" cy="237.1" r="1.0" fill="#f4fcff" opacity="0.85"/><circle cx="706.8" cy="236.9" r="1.7" fill="#d4f4ec" opacity="0.5"/><circle cx="637.7" cy="241.9" r="1.0" fill="#e8fcff" opacity="0.85"/><circle cx="635.9" cy="240.7" r="1.4" fill="#f4fcff" opacity="0.7"/><circle cx="666.5" cy="290.3" r="0.9" fill="#ffffff" opacity="0.7"/><circle cx="640.6" cy="305.9" r="1.4" fill="#d4f4ec" opacity="1"/><circle cx="640.1" cy="305.0" r="0.7" fill="#e4f0ff" opacity="1"/><circle cx="685.6" cy="275.4" r="1.0" fill="#d4f4ec" opacity="1"/><circle cx="683.9" cy="276.5" r="1.4" fill="#d4f4ec" opacity="0.85"/><circle cx="694.0" cy="262.1" r="0.9" fill="#f0e4f4" opacity="0.85"/><circle cx="692.5" cy="259.5" r="1.0" fill="#f4fcff" opacity="0.7"/><circle cx="693.4" cy="260.4" r="1.4" fill="#ffffff" opacity="0.85"/><circle cx="604.8" cy="275.0" r="1.0" fill="#ffffff" opacity="0.5"/><circle cx="604.7" cy="274.9" r="1.0" fill="#c8ecf4" opacity="1"/><circle cx="605.3" cy="275.8" r="1.7" fill="#ffffff" opacity="0.85"/><circle cx="608.2" cy="234.9" r="1.4" fill="#e0f8e8" opacity="0.85"/><circle cx="703.0" cy="310.6" r="1.7" fill="#e8fcff" opacity="1"/><circle cx="704.4" cy="309.7" r="0.9" fill="#ffffff" opacity="0.7"/><circle cx="640.2" cy="239.7" r="1.0" fill="#e4f0ff" opacity="0.5"/><circle cx="643.6" cy="242.7" r="0.9" fill="#e8fcff" opacity="1"/><circle cx="643.3" cy="240.9" r="1.0" fill="#f0e4f4" opacity="0.7"/><circle cx="694.2" cy="260.7" r="1.4" fill="#d4f4ec" opacity="0.5"/><circle cx="694.8" cy="259.0" r="1.7" fill="#f0e4f4" opacity="0.7"/><circle cx="675.4" cy="290.5" r="1.7" fill="#f0e4f4" opacity="0.85"/><circle cx="679.1" cy="236.1" r="1.0" fill="#f4fcff" opacity="0.5"/><circle cx="644.5" cy="286.0" r="1.7" fill="#e0f8e8" opacity="0.7"/><circle cx="653.4" cy="315.3" r="1.7" fill="#f0e4f4" opacity="0.7"/><circle cx="653.1" cy="316.7" r="1.4" fill="#e8fcff" opacity="1"/><circle cx="665.2" cy="296.5" r="1.2" fill="#d4f4ec" opacity="0.7"/><circle cx="642.4" cy="285.3" r="0.9" fill="#e4f0ff" opacity="0.5"/><circle cx="660.6" cy="332.7" r="0.7" fill="#f4fcff" opacity="1"/><circle cx="659.1" cy="330.3" r="1.4" fill="#ffffff" opacity="1"/><circle cx="658.9" cy="331.9" r="0.9" fill="#e0f8e8" opacity="1"/><circle cx="684.1" cy="328.7" r="0.7" fill="#c8ecf4" opacity="1"/><circle cx="682.8" cy="327.8" r="0.9" fill="#c8ecf4" opacity="1"/><circle cx="694.3" cy="317.5" r="1.2" fill="#e0f8e8" opacity="1"/><circle cx="622.3" cy="279.2" r="0.9" fill="#e0f8e8" opacity="0.85"/><circle cx="621.0" cy="280.7" r="1.4" fill="#e8fcff" opacity="0.5"/><circle cx="621.3" cy="281.8" r="1.7" fill="#f0e4f4" opacity="1"/><circle cx="646.2" cy="262.4" r="1.7" fill="#e4f0ff" opacity="1"/><circle cx="647.0" cy="264.7" r="1.7" fill="#ffffff" opacity="0.85"/><circle cx="627.7" cy="230.8" r="0.7" fill="#f0e4f4" opacity="0.85"/><circle cx="627.3" cy="228.9" r="1.4" fill="#f4fcff" opacity="0.5"/><circle cx="669.3" cy="277.2" r="1.2" fill="#e0f8e8" opacity="0.5"/><circle cx="670.2" cy="278.6" r="1.7" fill="#e0f8e8" opacity="0.5"/><circle cx="669.7" cy="279.0" r="0.9" fill="#e0f8e8" opacity="0.5"/><circle cx="653.1" cy="257.0" r="1.0" fill="#f4fcff" opacity="0.5"/><circle cx="693.8" cy="238.6" r="1.2" fill="#c8ecf4" opacity="0.5"/><circle cx="695.7" cy="239.2" r="1.2" fill="#f4fcff" opacity="0.7"/><circle cx="694.2" cy="238.4" r="1.0" fill="#ffffff" opacity="1"/><circle cx="620.5" cy="328.5" r="1.7" fill="#ffffff" opacity="1"/><circle cx="619.5" cy="327.0" r="1.7" fill="#e8fcff" opacity="0.85"/><circle cx="711.6" cy="274.4" r="1.7" fill="#c8ecf4" opacity="0.7"/><circle cx="687.1" cy="314.4" r="0.7" fill="#d4f4ec" opacity="0.5"/><circle cx="686.5" cy="314.2" r="1.0" fill="#e8fcff" opacity="1"/><circle cx="658.2" cy="260.5" r="0.9" fill="#e0f8e8" opacity="0.7"/><circle cx="638.1" cy="238.4" r="1.7" fill="#f0e4f4" opacity="0.85"/><circle cx="628.3" cy="244.5" r="0.7" fill="#e8fcff" opacity="0.85"/><circle cx="647.7" cy="235.4" r="1.7" fill="#d4f4ec" opacity="0.7"/><circle cx="647.5" cy="235.6" r="1.4" fill="#c8ecf4" opacity="1"/><circle cx="718.9" cy="296.0" r="1.7" fill="#f0e4f4" opacity="0.5"/><circle cx="718.7" cy="300.1" r="1.0" fill="#e8fcff" opacity="0.7"/><circle cx="717.2" cy="298.9" r="1.0" fill="#ffffff" opacity="1"/><circle cx="685.1" cy="236.5" r="1.7" fill="#ffffff" opacity="0.7"/><circle cx="659.2" cy="296.2" r="1.4" fill="#c8ecf4" opacity="0.85"/><circle cx="659.2" cy="298.6" r="0.7" fill="#e0f8e8" opacity="0.5"/><circle cx="657.8" cy="298.0" r="0.9" fill="#ffffff" opacity="0.7"/><circle cx="662.4" cy="289.1" r="1.0" fill="#e0f8e8" opacity="0.7"/><circle cx="663.9" cy="289.4" r="0.9" fill="#f4fcff" opacity="1"/><circle cx="663.5" cy="288.7" r="1.7" fill="#ffffff" opacity="0.85"/><circle cx="662.5" cy="259.5" r="0.7" fill="#e4f0ff" opacity="0.7"/><circle cx="668.6" cy="271.1" r="1.4" fill="#ffffff" opacity="1"/><circle cx="676.6" cy="270.9" r="0.9" fill="#f0e4f4" opacity="0.7"/><circle cx="662.7" cy="246.2" r="0.7" fill="#e0f8e8" opacity="0.7"/><circle cx="670.2" cy="234.2" r="0.9" fill="#c8ecf4" opacity="0.7"/><circle cx="699.5" cy="238.2" r="0.7" fill="#e8fcff" opacity="0.7"/><circle cx="701.9" cy="237.3" r="0.7" fill="#e4f0ff" opacity="1"/><circle cx="699.0" cy="238.4" r="1.7" fill="#ffffff" opacity="0.85"/><circle cx="706.6" cy="314.9" r="0.7" fill="#ffffff" opacity="0.5"/><circle cx="707.5" cy="316.2" r="1.0" fill="#f4fcff" opacity="0.85"/><circle cx="706.6" cy="314.7" r="1.0" fill="#e8fcff" opacity="0.7"/><circle cx="680.8" cy="268.0" r="1.2" fill="#c8ecf4" opacity="1"/><circle cx="680.0" cy="266.5" r="0.9" fill="#f4fcff" opacity="0.85"/><circle cx="638.6" cy="323.9" r="1.4" fill="#f0e4f4" opacity="0.7"/><circle cx="637.9" cy="322.0" r="1.2" fill="#ffffff" opacity="0.5"/><circle cx="679.9" cy="284.4" r="1.4" fill="#e0f8e8" opacity="0.5"/><circle cx="610.7" cy="243.4" r="1.0" fill="#e4f0ff" opacity="1"/><circle cx="720.3" cy="232.4" r="1.2" fill="#f4fcff" opacity="1"/><circle cx="686.0" cy="305.6" r="1.7" fill="#ffffff" opacity="0.85"/><circle cx="669.6" cy="236.7" r="1.2" fill="#e0f8e8" opacity="0.85"/><circle cx="670.7" cy="236.8" r="0.9" fill="#ffffff" opacity="0.85"/><circle cx="661.0" cy="311.7" r="1.4" fill="#e8fcff" opacity="0.85"/><circle cx="661.3" cy="310.4" r="1.0" fill="#e0f8e8" opacity="0.5"/><circle cx="669.9" cy="263.4" r="0.9" fill="#e0f8e8" opacity="0.7"/><circle cx="671.8" cy="286.9" r="0.7" fill="#f4fcff" opacity="1"/><circle cx="659.5" cy="298.3" r="1.0" fill="#e4f0ff" opacity="1"/><circle cx="642.6" cy="253.4" r="1.7" fill="#f4fcff" opacity="0.5"/><circle cx="722.3" cy="232.1" r="1.2" fill="#ffffff" opacity="1"/><circle cx="722.8" cy="235.5" r="1.0" fill="#c8ecf4" opacity="1"/><circle cx="719.8" cy="231.0" r="1.2" fill="#e0f8e8" opacity="0.7"/><circle cx="688.4" cy="265.6" r="0.7" fill="#d4f4ec" opacity="0.85"/><circle cx="687.0" cy="266.4" r="0.9" fill="#e4f0ff" opacity="0.5"/><circle cx="693.8" cy="329.4" r="0.7" fill="#e8fcff" opacity="0.85"/><circle cx="693.3" cy="329.7" r="1.0" fill="#ffffff" opacity="1"/><circle cx="716.0" cy="281.2" r="1.7" fill="#e8fcff" opacity="1"/><circle cx="716.2" cy="280.6" r="0.9" fill="#ffffff" opacity="0.7"/><circle cx="677.0" cy="332.4" r="1.2" fill="#e8fcff" opacity="1"/><circle cx="677.9" cy="334.1" r="0.9" fill="#c8ecf4" opacity="1"/><circle cx="656.5" cy="285.3" r="0.7" fill="#c8ecf4" opacity="0.85"/><circle cx="657.0" cy="286.1" r="1.7" fill="#d4f4ec" opacity="0.85"/><circle cx="657.6" cy="284.2" r="1.7" fill="#ffffff" opacity="0.5"/><circle cx="706.5" cy="247.4" r="0.7" fill="#e4f0ff" opacity="0.5"/><circle cx="685.4" cy="240.4" r="1.0" fill="#f0e4f4" opacity="0.5"/><circle cx="627.0" cy="290.7" r="1.7" fill="#d4f4ec" opacity="0.85"/><circle cx="661.1" cy="288.8" r="1.4" fill="#c8ecf4" opacity="0.7"/><circle cx="612.1" cy="269.5" r="0.7" fill="#e0f8e8" opacity="0.85"/><circle cx="613.4" cy="269.6" r="1.4" fill="#ffffff" opacity="1"/><circle cx="623.9" cy="241.2" r="1.7" fill="#e4f0ff" opacity="0.5"/><circle cx="621.9" cy="241.7" r="0.9" fill="#e4f0ff" opacity="0.85"/><circle cx="636.9" cy="239.8" r="1.4" fill="#e8fcff" opacity="0.5"/><circle cx="621.2" cy="240.3" r="0.7" fill="#e4f0ff" opacity="0.7"/><circle cx="665.3" cy="302.7" r="0.7" fill="#f0e4f4" opacity="1"/><circle cx="705.9" cy="263.9" r="0.9" fill="#e0f8e8" opacity="0.7"/><circle cx="705.3" cy="263.0" r="1.0" fill="#e4f0ff" opacity="1"/><circle cx="707.1" cy="262.7" r="0.7" fill="#d4f4ec" opacity="1"/><circle cx="686.5" cy="300.8" r="1.0" fill="#ffffff" opacity="0.7"/><circle cx="686.7" cy="300.9" r="0.9" fill="#c8ecf4" opacity="0.7"/><circle cx="686.6" cy="300.1" r="0.9" fill="#d4f4ec" opacity="0.5"/><circle cx="685.2" cy="296.7" r="0.9" fill="#ffffff" opacity="0.5"/><circle cx="684.9" cy="296.2" r="1.7" fill="#f0e4f4" opacity="0.5"/><circle cx="660.8" cy="275.8" r="0.7" fill="#f4fcff" opacity="1"/><circle cx="697.1" cy="326.0" r="1.4" fill="#e8fcff" opacity="1"/><circle cx="662.4" cy="325.6" r="1.0" fill="#ffffff" opacity="0.85"/><circle cx="662.8" cy="325.5" r="1.2" fill="#f0e4f4" opacity="1"/><circle cx="662.7" cy="326.4" r="1.7" fill="#f4fcff" opacity="1"/><circle cx="637.1" cy="248.0" r="1.7" fill="#d4f4ec" opacity="0.85"/><circle cx="638.4" cy="248.2" r="0.7" fill="#c8ecf4" opacity="1"/><circle cx="654.5" cy="331.3" r="1.7" fill="#ffffff" opacity="0.85"/><circle cx="655.1" cy="332.0" r="1.7" fill="#e8fcff" opacity="1"/><circle cx="661.5" cy="239.1" r="1.0" fill="#e4f0ff" opacity="1"/><circle cx="680.3" cy="287.6" r="0.9" fill="#c8ecf4" opacity="1"/><circle cx="634.2" cy="234.4" r="0.9" fill="#c8ecf4" opacity="0.7"/><circle cx="632.1" cy="233.1" r="1.2" fill="#ffffff" opacity="0.5"/><circle cx="631.0" cy="236.4" r="1.0" fill="#e8fcff" opacity="0.7"/><circle cx="632.9" cy="310.6" r="1.4" fill="#ffffff" opacity="0.5"/><circle cx="636.9" cy="241.1" r="1.4" fill="#e0f8e8" opacity="1"/><circle cx="632.9" cy="243.4" r="1.4" fill="#ffffff" opacity="0.85"/><circle cx="722.8" cy="272.1" r="1.0" fill="#d4f4ec" opacity="0.7"/><circle cx="721.1" cy="271.3" r="0.7" fill="#e0f8e8" opacity="0.7"/><circle cx="625.2" cy="268.8" r="1.2" fill="#f4fcff" opacity="0.85"/><circle cx="606.4" cy="250.9" r="0.7" fill="#ffffff" opacity="1"/><circle cx="605.3" cy="251.4" r="1.2" fill="#e0f8e8" opacity="1"/><circle cx="641.9" cy="311.9" r="0.7" fill="#f4fcff" opacity="1"/><circle cx="688.1" cy="280.0" r="1.4" fill="#c8ecf4" opacity="0.7"/><circle cx="687.7" cy="280.5" r="1.0" fill="#c8ecf4" opacity="1"/><circle cx="648.3" cy="274.2" r="0.7" fill="#f4fcff" opacity="1"/><circle cx="624.8" cy="292.5" r="0.7" fill="#d4f4ec" opacity="1"/><circle cx="624.4" cy="292.3" r="1.4" fill="#e0f8e8" opacity="0.5"/><circle cx="671.6" cy="314.1" r="1.4" fill="#d4f4ec" opacity="1"/><circle cx="635.9" cy="322.3" r="0.9" fill="#d4f4ec" opacity="0.5"/><circle cx="603.1" cy="230.1" r="1.2" fill="#e8fcff" opacity="0.7"/><circle cx="634.3" cy="303.9" r="1.4" fill="#e0f8e8" opacity="1"/><circle cx="623.7" cy="253.5" r="1.7" fill="#c8ecf4" opacity="0.85"/><circle cx="658.0" cy="284.1" r="1.4" fill="#ffffff" opacity="0.85"/><circle cx="658.1" cy="285.2" r="0.7" fill="#f0e4f4" opacity="0.85"/><circle cx="693.3" cy="239.6" r="1.7" fill="#d4f4ec" opacity="0.7"/><circle cx="692.8" cy="239.3" r="1.4" fill="#c8ecf4" opacity="1"/><circle cx="646.1" cy="293.3" r="1.0" fill="#e4f0ff" opacity="1"/><circle cx="656.6" cy="329.0" r="0.9" fill="#e4f0ff" opacity="1"/><circle cx="655.5" cy="330.4" r="0.9" fill="#ffffff" opacity="1"/><circle cx="702.1" cy="287.6" r="1.0" fill="#f0e4f4" opacity="1"/><circle cx="676.3" cy="299.8" r="1.2" fill="#e0f8e8" opacity="0.7"/><circle cx="676.8" cy="301.6" r="0.7" fill="#c8ecf4" opacity="0.5"/><circle cx="675.3" cy="302.5" r="0.7" fill="#e4f0ff" opacity="0.7"/><circle cx="632.0" cy="305.4" r="0.9" fill="#f0e4f4" opacity="0.85"/><circle cx="667.0" cy="246.4" r="1.4" fill="#f0e4f4" opacity="1"/><circle cx="666.4" cy="246.0" r="1.0" fill="#ffffff" opacity="0.85"/><circle cx="710.7" cy="304.6" r="1.4" fill="#ffffff" opacity="0.7"/><circle cx="725.4" cy="321.3" r="1.4" fill="#e0f8e8" opacity="1"/><circle cx="661.2" cy="236.3" r="1.7" fill="#e4f0ff" opacity="0.85"/><circle cx="653.4" cy="258.1" r="0.7" fill="#ffffff" opacity="0.7"/><circle cx="721.2" cy="321.6" r="1.7" fill="#ffffff" opacity="1"/><circle cx="661.2" cy="328.5" r="1.4" fill="#d4f4ec" opacity="0.85"/><circle cx="680.6" cy="282.6" r="0.7" fill="#e0f8e8" opacity="0.7"/><circle cx="678.6" cy="280.0" r="1.2" fill="#f0e4f4" opacity="0.7"/><circle cx="679.3" cy="282.2" r="0.9" fill="#f4fcff" opacity="0.85"/><circle cx="693.4" cy="311.3" r="0.9" fill="#e4f0ff" opacity="0.85"/><circle cx="669.6" cy="260.0" r="1.0" fill="#c8ecf4" opacity="1"/><circle cx="668.8" cy="260.4" r="1.2" fill="#e0f8e8" opacity="0.7"/><circle cx="619.0" cy="233.3" r="0.7" fill="#e4f0ff" opacity="0.7"/><circle cx="688.5" cy="241.7" r="1.7" fill="#d4f4ec" opacity="1"/><circle cx="690.0" cy="240.7" r="0.7" fill="#e4f0ff" opacity="0.5"/><circle cx="626.5" cy="253.5" r="1.7" fill="#d4f4ec" opacity="1"/><circle cx="628.4" cy="255.3" r="1.0" fill="#c8ecf4" opacity="0.7"/><circle cx="629.6" cy="254.4" r="0.7" fill="#d4f4ec" opacity="0.7"/><circle cx="621.2" cy="244.9" r="1.7" fill="#f0e4f4" opacity="0.85"/><circle cx="621.5" cy="242.9" r="1.4" fill="#f0e4f4" opacity="1"/><circle cx="621.9" cy="243.2" r="1.0" fill="#ffffff" opacity="0.5"/><circle cx="687.4" cy="318.2" r="0.9" fill="#e8fcff" opacity="0.85"/><circle cx="687.1" cy="319.5" r="1.4" fill="#c8ecf4" opacity="1"/><circle cx="645.7" cy="278.5" r="1.2" fill="#ffffff" opacity="0.7"/><circle cx="659.4" cy="289.1" r="0.7" fill="#c8ecf4" opacity="1"/><circle cx="660.4" cy="291.6" r="0.9" fill="#d4f4ec" opacity="0.85"/><circle cx="714.7" cy="284.6" r="1.7" fill="#e8fcff" opacity="0.85"/><circle cx="622.6" cy="294.6" r="1.4" fill="#c8ecf4" opacity="0.85"/><circle cx="635.7" cy="268.6" r="1.7" fill="#e8fcff" opacity="0.7"/><circle cx="635.2" cy="268.9" r="1.7" fill="#f0e4f4" opacity="0.5"/><circle cx="673.9" cy="266.6" r="0.9" fill="#f4fcff" opacity="1"/><circle cx="673.2" cy="265.0" r="1.2" fill="#ffffff" opacity="0.7"/><circle cx="627.8" cy="280.9" r="1.0" fill="#ffffff" opacity="1"/><circle cx="686.6" cy="275.8" r="1.4" fill="#ffffff" opacity="1"/><circle cx="682.0" cy="251.7" r="1.4" fill="#c8ecf4" opacity="1"/><circle cx="658.0" cy="278.7" r="1.0" fill="#ffffff" opacity="1"/><circle cx="657.8" cy="280.3" r="0.7" fill="#e0f8e8" opacity="1"/><circle cx="701.5" cy="302.9" r="1.0" fill="#e8fcff" opacity="0.5"/><circle cx="700.8" cy="301.4" r="0.7" fill="#d4f4ec" opacity="0.85"/><circle cx="670.9" cy="305.5" r="0.7" fill="#ffffff" opacity="1"/><circle cx="672.2" cy="304.5" r="1.7" fill="#f4fcff" opacity="1"/><circle cx="671.8" cy="304.6" r="1.7" fill="#ffffff" opacity="1"/><circle cx="669.2" cy="302.4" r="1.0" fill="#e0f8e8" opacity="1"/><circle cx="669.2" cy="302.6" r="0.7" fill="#ffffff" opacity="0.7"/><circle cx="696.6" cy="270.0" r="0.7" fill="#ffffff" opacity="1"/><circle cx="694.1" cy="269.2" r="1.7" fill="#ffffff" opacity="0.5"/><circle cx="697.9" cy="269.5" r="1.4" fill="#ffffff" opacity="1"/><circle cx="656.1" cy="249.6" r="0.9" fill="#ffffff" opacity="1"/><circle cx="654.5" cy="251.2" r="1.0" fill="#f4fcff" opacity="0.7"/><circle cx="676.3" cy="326.8" r="0.7" fill="#f4fcff" opacity="1"/><circle cx="674.8" cy="325.6" r="1.4" fill="#d4f4ec" opacity="0.85"/><circle cx="662.4" cy="298.4" r="0.7" fill="#e4f0ff" opacity="0.7"/><circle cx="662.6" cy="297.8" r="0.9" fill="#f0e4f4" opacity="0.85"/><circle cx="663.8" cy="297.2" r="0.9" fill="#e4f0ff" opacity="1"/><circle cx="645.9" cy="281.6" r="1.2" fill="#e4f0ff" opacity="1"/><circle cx="616.4" cy="247.5" r="1.7" fill="#c8ecf4" opacity="1"/><circle cx="618.0" cy="245.9" r="1.0" fill="#f4fcff" opacity="0.5"/><circle cx="617.1" cy="247.6" r="1.4" fill="#e0f8e8" opacity="0.85"/><circle cx="653.2" cy="316.6" r="1.2" fill="#e0f8e8" opacity="0.85"/><circle cx="612.3" cy="295.6" r="1.2" fill="#ffffff" opacity="0.5"/><circle cx="636.9" cy="327.1" r="1.7" fill="#e8fcff" opacity="1"/><circle cx="698.4" cy="298.8" r="1.7" fill="#e8fcff" opacity="0.85"/><circle cx="697.3" cy="300.2" r="1.4" fill="#f0e4f4" opacity="0.5"/><circle cx="661.2" cy="297.4" r="1.2" fill="#d4f4ec" opacity="0.5"/><circle cx="630.6" cy="285.3" r="0.7" fill="#d4f4ec" opacity="0.5"/><circle cx="628.5" cy="283.1" r="1.0" fill="#f0e4f4" opacity="0.7"/><circle cx="640.0" cy="275.9" r="1.4" fill="#f0e4f4" opacity="1"/><circle cx="667.0" cy="316.8" r="1.4" fill="#e4f0ff" opacity="1"/><circle cx="667.7" cy="317.8" r="0.7" fill="#e8fcff" opacity="1"/><circle cx="648.7" cy="330.5" r="1.4" fill="#f0e4f4" opacity="0.7"/><circle cx="669.3" cy="269.8" r="0.9" fill="#e8fcff" opacity="0.7"/><circle cx="644.7" cy="320.0" r="0.9" fill="#e0f8e8" opacity="0.5"/><circle cx="645.7" cy="319.2" r="0.9" fill="#e8fcff" opacity="1"/><circle cx="690.8" cy="249.9" r="0.9" fill="#d4f4ec" opacity="0.5"/><circle cx="691.0" cy="249.9" r="1.7" fill="#ffffff" opacity="1"/><circle cx="689.0" cy="252.3" r="0.9" fill="#f4fcff" opacity="1"/><circle cx="696.2" cy="332.3" r="0.7" fill="#d4f4ec" opacity="0.5"/><circle cx="698.6" cy="237.7" r="1.7" fill="#ffffff" opacity="0.85"/><circle cx="697.7" cy="236.4" r="1.7" fill="#e4f0ff" opacity="0.85"/><circle cx="699.3" cy="237.6" r="0.9" fill="#e0f8e8" opacity="0.7"/><circle cx="678.5" cy="274.5" r="0.9" fill="#f4fcff" opacity="0.85"/><circle cx="679.6" cy="275.5" r="1.4" fill="#e0f8e8" opacity="1"/><circle cx="710.1" cy="306.7" r="1.2" fill="#ffffff" opacity="0.85"/><circle cx="686.5" cy="240.4" r="0.7" fill="#ffffff" opacity="0.5"/><circle cx="609.7" cy="248.2" r="1.0" fill="#e4f0ff" opacity="1"/><circle cx="610.5" cy="249.8" r="1.2" fill="#e0f8e8" opacity="0.85"/><circle cx="611.8" cy="248.7" r="1.0" fill="#ffffff" opacity="0.7"/><circle cx="691.2" cy="258.4" r="0.9" fill="#f4fcff" opacity="1"/><circle cx="692.6" cy="255.7" r="1.4" fill="#d4f4ec" opacity="1"/><circle cx="689.2" cy="257.4" r="1.2" fill="#f0e4f4" opacity="0.85"/><circle cx="700.8" cy="261.6" r="0.9" fill="#f0e4f4" opacity="1"/><circle cx="642.1" cy="284.2" r="1.0" fill="#ffffff" opacity="0.7"/><circle cx="649.2" cy="327.2" r="0.7" fill="#f4fcff" opacity="0.85"/><circle cx="682.6" cy="255.9" r="1.4" fill="#ffffff" opacity="1"/><circle cx="678.1" cy="304.6" r="1.4" fill="#e4f0ff" opacity="0.5"/><circle cx="678.2" cy="304.0" r="1.2" fill="#e8fcff" opacity="1"/><circle cx="679.4" cy="304.0" r="1.7" fill="#f4fcff" opacity="0.85"/><circle cx="670.6" cy="264.2" r="0.7" fill="#f0e4f4" opacity="1"/><circle cx="663.7" cy="281.7" r="0.7" fill="#f0e4f4" opacity="1"/><circle cx="647.6" cy="239.6" r="1.4" fill="#f4fcff" opacity="0.5"/><circle cx="683.3" cy="246.7" r="0.7" fill="#e8fcff" opacity="0.85"/><circle cx="685.0" cy="246.2" r="1.0" fill="#e4f0ff" opacity="0.5"/><circle cx="684.6" cy="246.2" r="1.0" fill="#ffffff" opacity="0.5"/><circle cx="649.3" cy="262.6" r="1.4" fill="#f4fcff" opacity="1"/><circle cx="641.1" cy="265.3" r="1.4" fill="#ffffff" opacity="0.5"/><circle cx="639.0" cy="262.8" r="1.4" fill="#f0e4f4" opacity="0.5"/><circle cx="697.0" cy="314.7" r="0.9" fill="#f4fcff" opacity="0.7"/><circle cx="695.0" cy="314.5" r="0.9" fill="#e4f0ff" opacity="1"/><circle cx="627.2" cy="299.6" r="1.0" fill="#c8ecf4" opacity="0.7"/><circle cx="682.9" cy="239.3" r="1.0" fill="#e8fcff" opacity="1"/><circle cx="682.4" cy="250.6" r="1.0" fill="#f4fcff" opacity="1"/><circle cx="683.1" cy="252.7" r="1.0" fill="#e0f8e8" opacity="0.5"/><circle cx="681.9" cy="251.7" r="1.2" fill="#e8fcff" opacity="0.5"/><circle cx="676.3" cy="238.1" r="0.7" fill="#ffffff" opacity="0.85"/><circle cx="648.7" cy="329.9" r="1.4" fill="#c8ecf4" opacity="1"/><circle cx="649.4" cy="329.5" r="0.9" fill="#ffffff" opacity="0.5"/><circle cx="648.4" cy="327.8" r="1.4" fill="#f0e4f4" opacity="0.5"/><circle cx="719.2" cy="332.2" r="1.4" fill="#ffffff" opacity="1"/><circle cx="687.3" cy="253.0" r="1.2" fill="#f4fcff" opacity="1"/><circle cx="657.2" cy="236.1" r="0.9" fill="#d4f4ec" opacity="0.5"/><circle cx="660.0" cy="238.3" r="1.0" fill="#f4fcff" opacity="0.7"/><circle cx="659.0" cy="239.7" r="1.4" fill="#c8ecf4" opacity="0.85"/><circle cx="659.4" cy="239.5" r="0.9" fill="#d4f4ec" opacity="0.85"/><circle cx="667.5" cy="310.6" r="1.2" fill="#e4f0ff" opacity="0.7"/><circle cx="668.4" cy="310.3" r="1.2" fill="#f0e4f4" opacity="1"/><circle cx="713.5" cy="272.6" r="0.9" fill="#e4f0ff" opacity="0.85"/><circle cx="713.2" cy="274.5" r="0.7" fill="#ffffff" opacity="1"/><circle cx="664.0" cy="271.3" r="1.0" fill="#ffffff" opacity="1"/><circle cx="663.6" cy="271.4" r="1.2" fill="#c8ecf4" opacity="0.5"/><circle cx="623.2" cy="290.0" r="1.4" fill="#ffffff" opacity="1"/><circle cx="626.2" cy="290.2" r="0.9" fill="#e8fcff" opacity="0.5"/><circle cx="701.3" cy="230.8" r="0.9" fill="#c8ecf4" opacity="1"/><circle cx="695.5" cy="303.8" r="1.7" fill="#f4fcff" opacity="1"/><circle cx="652.1" cy="263.1" r="1.4" fill="#f4fcff" opacity="1"/><circle cx="652.0" cy="262.2" r="1.4" fill="#f0e4f4" opacity="1"/><circle cx="685.8" cy="326.3" r="1.4" fill="#e0f8e8" opacity="0.85"/><circle cx="684.7" cy="326.9" r="0.7" fill="#e0f8e8" opacity="0.85"/><circle cx="683.4" cy="328.6" r="0.7" fill="#ffffff" opacity="0.5"/><circle cx="647.5" cy="250.5" r="1.7" fill="#f0e4f4" opacity="0.5"/><circle cx="646.6" cy="249.8" r="0.9" fill="#e8fcff" opacity="0.85"/><circle cx="640.5" cy="266.4" r="1.0" fill="#f4fcff" opacity="1"/><circle cx="640.3" cy="267.0" r="1.4" fill="#e0f8e8" opacity="1"/><circle cx="682.5" cy="269.0" r="0.7" fill="#d4f4ec" opacity="0.85"/><circle cx="678.4" cy="295.1" r="1.7" fill="#f0e4f4" opacity="0.7"/><circle cx="694.3" cy="263.1" r="1.7" fill="#e8fcff" opacity="0.85"/><circle cx="692.4" cy="262.6" r="1.4" fill="#c8ecf4" opacity="1"/><circle cx="722.8" cy="257.7" r="1.2" fill="#ffffff" opacity="0.5"/><circle cx="724.3" cy="255.3" r="1.4" fill="#ffffff" opacity="0.7"/><circle cx="625.7" cy="243.8" r="1.7" fill="#e0f8e8" opacity="0.5"/><circle cx="623.9" cy="247.0" r="1.2" fill="#e4f0ff" opacity="0.85"/><circle cx="662.4" cy="238.9" r="0.7" fill="#e4f0ff" opacity="1"/><circle cx="661.5" cy="237.0" r="1.2" fill="#ffffff" opacity="0.7"/><circle cx="662.2" cy="237.8" r="1.4" fill="#f4fcff" opacity="0.85"/><circle cx="674.6" cy="253.3" r="0.7" fill="#ffffff" opacity="0.7"/><circle cx="633.8" cy="230.8" r="0.9" fill="#ffffff" opacity="0.85"/><circle cx="711.5" cy="307.5" r="0.9" fill="#ffffff" opacity="0.5"/><circle cx="693.9" cy="239.6" r="1.2" fill="#e8fcff" opacity="0.5"/><circle cx="688.0" cy="303.1" r="1.4" fill="#f4fcff" opacity="0.85"/><circle cx="686.3" cy="306.0" r="1.0" fill="#ffffff" opacity="0.85"/><circle cx="642.4" cy="276.7" r="0.9" fill="#e8fcff" opacity="0.85"/><circle cx="643.2" cy="277.3" r="0.7" fill="#ffffff" opacity="1"/><circle cx="641.6" cy="278.5" r="0.7" fill="#ffffff" opacity="0.5"/><circle cx="645.3" cy="274.0" r="0.9" fill="#ffffff" opacity="0.5"/><circle cx="647.5" cy="272.9" r="1.4" fill="#e8fcff" opacity="0.5"/><circle cx="680.4" cy="320.3" r="1.2" fill="#e4f0ff" opacity="0.5"/><circle cx="709.5" cy="252.4" r="1.7" fill="#ffffff" opacity="0.7"/><circle cx="674.5" cy="255.7" r="1.0" fill="#f4fcff" opacity="1"/><circle cx="644.2" cy="305.8" r="1.7" fill="#f4fcff" opacity="0.85"/><circle cx="646.7" cy="306.7" r="0.7" fill="#e8fcff" opacity="1"/><circle cx="656.9" cy="248.9" r="1.7" fill="#d4f4ec" opacity="1"/><circle cx="655.7" cy="247.8" r="0.9" fill="#e4f0ff" opacity="0.7"/><circle cx="644.5" cy="264.0" r="1.4" fill="#f0e4f4" opacity="1"/><circle cx="643.0" cy="264.6" r="0.9" fill="#c8ecf4" opacity="1"/><circle cx="645.1" cy="326.3" r="0.7" fill="#f4fcff" opacity="1"/><circle cx="670.8" cy="242.3" r="1.2" fill="#e0f8e8" opacity="0.85"/><circle cx="669.7" cy="239.1" r="1.2" fill="#f0e4f4" opacity="0.5"/><circle cx="726.5" cy="245.3" r="1.4" fill="#c8ecf4" opacity="1"/><circle cx="725.3" cy="245.9" r="1.7" fill="#c8ecf4" opacity="0.7"/><circle cx="589.2" cy="307.6" r="0.7" fill="#f4fcff" opacity="1"/><circle cx="665.8" cy="290.8" r="1.4" fill="#d4f4ec" opacity="0.85"/><circle cx="666.9" cy="291.5" r="0.7" fill="#e0f8e8" opacity="0.85"/><circle cx="626.9" cy="293.8" r="1.7" fill="#e8fcff" opacity="0.85"/><circle cx="631.5" cy="230.6" r="1.0" fill="#f4fcff" opacity="0.85"/><circle cx="693.9" cy="329.1" r="1.0" fill="#f0e4f4" opacity="0.5"/><circle cx="678.9" cy="304.8" r="1.0" fill="#d4f4ec" opacity="1"/><circle cx="679.9" cy="304.9" r="1.2" fill="#f4fcff" opacity="0.7"/><circle cx="655.4" cy="256.3" r="0.9" fill="#d4f4ec" opacity="0.5"/><circle cx="597.0" cy="248.0" r="1.0" fill="#ffffff" opacity="1"/><circle cx="650.0" cy="270.2" r="1.0" fill="#ffffff" opacity="0.7"/><circle cx="649.6" cy="271.8" r="1.7" fill="#d4f4ec" opacity="0.5"/><circle cx="638.6" cy="263.1" r="1.4" fill="#ffffff" opacity="0.7"/><circle cx="639.4" cy="263.3" r="0.9" fill="#ffffff" opacity="0.5"/><circle cx="657.1" cy="281.2" r="0.9" fill="#c8ecf4" opacity="0.5"/><circle cx="655.6" cy="278.8" r="1.4" fill="#c8ecf4" opacity="0.7"/><circle cx="663.4" cy="304.3" r="1.0" fill="#f4fcff" opacity="0.7"/><circle cx="663.4" cy="305.1" r="1.4" fill="#d4f4ec" opacity="1"/><circle cx="661.9" cy="303.9" r="1.7" fill="#f4fcff" opacity="1"/><circle cx="615.8" cy="269.1" r="1.7" fill="#e0f8e8" opacity="0.85"/><circle cx="692.0" cy="280.4" r="0.9" fill="#d4f4ec" opacity="0.7"/><circle cx="675.2" cy="303.3" r="1.4" fill="#e4f0ff" opacity="0.85"/><circle cx="682.5" cy="328.9" r="1.0" fill="#e4f0ff" opacity="1"/><circle cx="624.1" cy="230.4" r="1.7" fill="#f4fcff" opacity="1"/><circle cx="712.7" cy="306.0" r="0.7" fill="#ffffff" opacity="1"/><circle cx="651.5" cy="289.5" r="1.4" fill="#ffffff" opacity="0.85"/><circle cx="694.1" cy="272.1" r="1.0" fill="#f4fcff" opacity="1"/><circle cx="640.4" cy="247.2" r="0.9" fill="#e8fcff" opacity="0.5"/><circle cx="639.5" cy="247.1" r="1.4" fill="#f4fcff" opacity="0.7"/><circle cx="684.0" cy="263.5" r="1.0" fill="#c8ecf4" opacity="1"/><circle cx="683.6" cy="264.5" r="1.7" fill="#f0e4f4" opacity="1"/><circle cx="667.5" cy="233.1" r="0.9" fill="#e4f0ff" opacity="1"/><circle cx="665.8" cy="233.2" r="1.4" fill="#ffffff" opacity="0.5"/><circle cx="608.5" cy="318.1" r="1.7" fill="#e4f0ff" opacity="0.85"/><circle cx="607.7" cy="319.2" r="0.9" fill="#d4f4ec" opacity="0.85"/><circle cx="625.5" cy="267.3" r="1.2" fill="#f0e4f4" opacity="1"/><circle cx="624.8" cy="266.6" r="0.7" fill="#c8ecf4" opacity="0.7"/><circle cx="713.0" cy="232.9" r="0.7" fill="#e0f8e8" opacity="0.7"/><circle cx="676.4" cy="302.4" r="1.7" fill="#c8ecf4" opacity="0.5"/><circle cx="650.4" cy="250.9" r="1.0" fill="#e0f8e8" opacity="0.7"/><circle cx="653.6" cy="251.8" r="0.9" fill="#d4f4ec" opacity="1"/><circle cx="677.0" cy="325.8" r="1.0" fill="#e4f0ff" opacity="0.85"/><circle cx="642.0" cy="317.2" r="0.7" fill="#e8fcff" opacity="1"/><circle cx="616.7" cy="331.2" r="1.7" fill="#f4fcff" opacity="0.7"/><circle cx="669.3" cy="261.7" r="1.0" fill="#ffffff" opacity="0.85"/><circle cx="667.8" cy="261.6" r="1.0" fill="#e0f8e8" opacity="1"/></g>
</g>
<text class="wt" transform="translate(575.8 241) scale(0.88 1)" font-size="12.5" text-anchor="middle" fill="#f4f4f4" >i)</text>
<line x1="630.2" y1="287.5" x2="698" y2="287.5" stroke="#e0301c" stroke-width="2" stroke-dasharray="4.5,2.2"/>
<rect x="698" y="324.3" width="20.5" height="2.6" fill="#f0f0f0"/>
</svg>
</body></html>
